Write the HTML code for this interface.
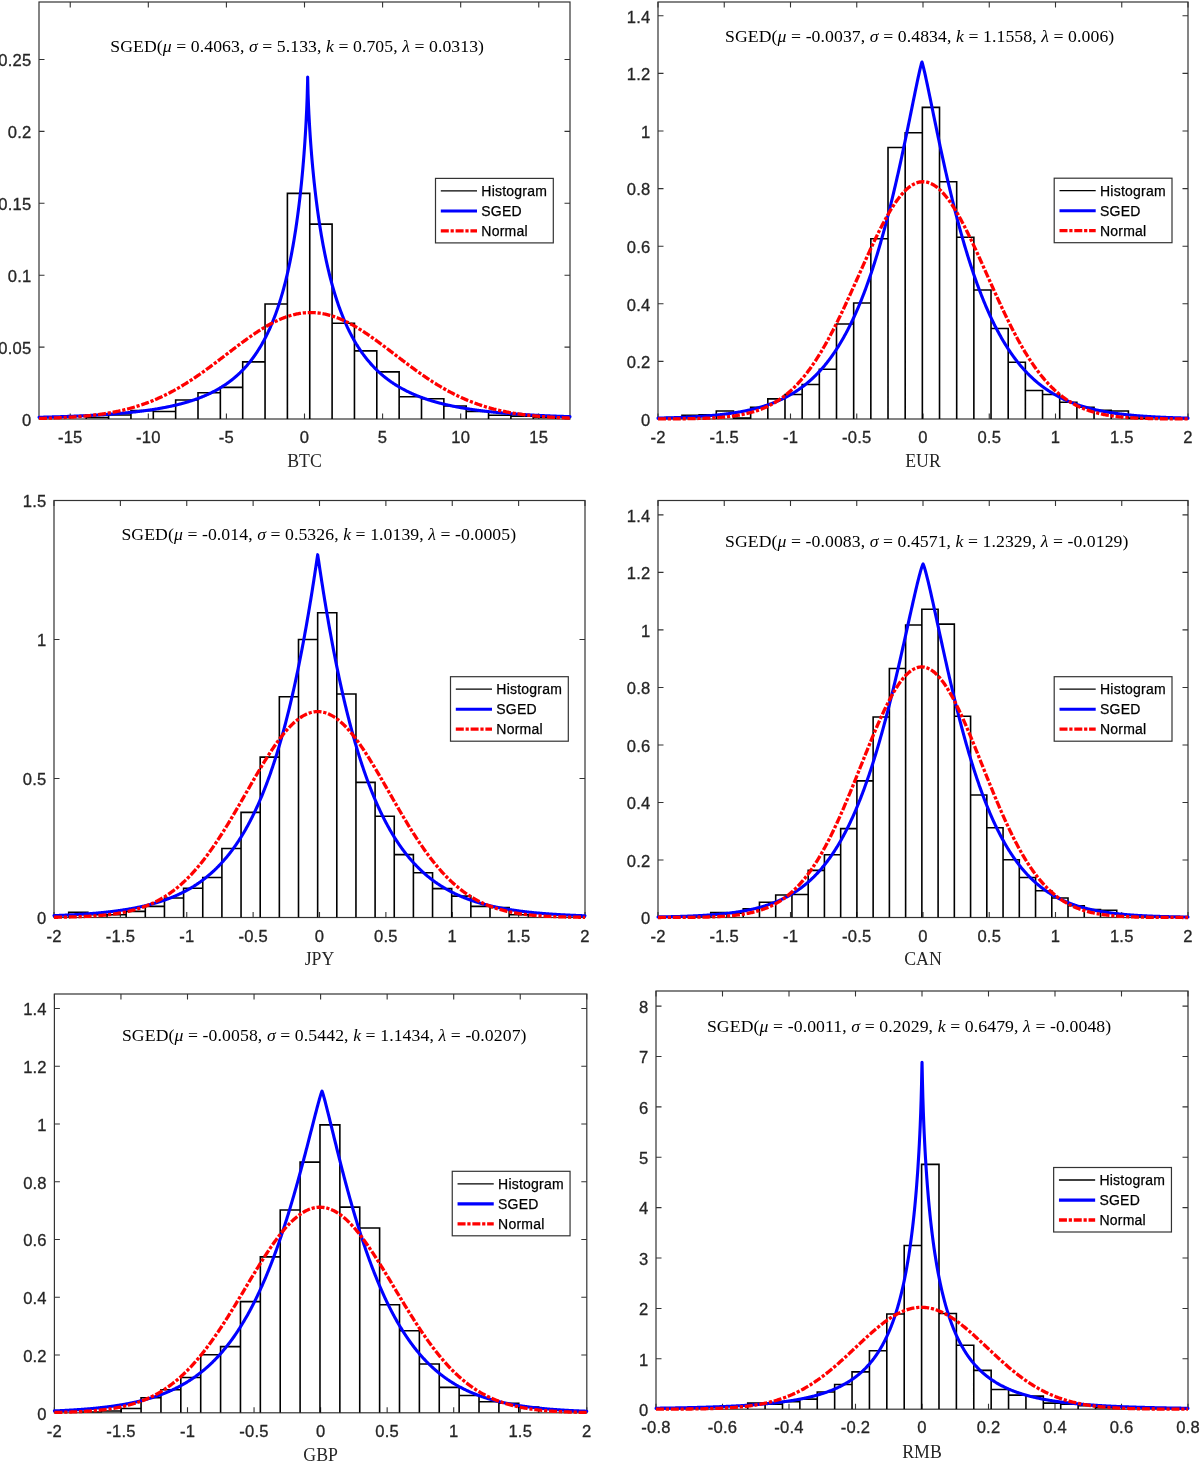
<!DOCTYPE html>
<html><head><meta charset="utf-8"><style>
html,body{margin:0;padding:0;background:#fff;}
svg{display:block;will-change:transform;}
.tl{font-family:"Liberation Sans", sans-serif;font-size:16.6px;fill:#262626;stroke:#262626;stroke-width:0.3px;letter-spacing:0.2px;}
.lg{font-family:"Liberation Sans", sans-serif;font-size:14px;fill:#000;stroke:#000;stroke-width:0.25px;letter-spacing:0.22px;}
.xl{font-family:"Liberation Serif", serif;font-size:17.8px;fill:#262626;}
.an{font-family:"Liberation Serif", serif;font-size:17.7px;fill:#000;}
</style></head><body>
<svg width="1200" height="1461" viewBox="0 0 1200 1461">
<rect width="1200" height="1461" fill="#fff"/>
<clipPath id="c0"><rect x="39" y="0" width="531" height="419"/></clipPath>
<rect x="39" y="2" width="531" height="417" fill="none" stroke="#333" stroke-width="1.2"/>
<path d="M70.24 419v-5.5M70.24 2v5.5M148.32 419v-5.5M148.32 2v5.5M226.41 419v-5.5M226.41 2v5.5M304.5 419v-5.5M304.5 2v5.5M382.59 419v-5.5M382.59 2v5.5M460.68 419v-5.5M460.68 2v5.5M538.76 419v-5.5M538.76 2v5.5M39 419h5.5M570 419h-5.5M39 347.1h5.5M570 347.1h-5.5M39 275.21h5.5M570 275.21h-5.5M39 203.31h5.5M570 203.31h-5.5M39 131.41h5.5M570 131.41h-5.5M39 59.52h5.5M570 59.52h-5.5" stroke="#333" stroke-width="1.1" fill="none"/>
<path clip-path="url(#c0)" d="M86.25 419V417.56H108.6V419M108.6 419V414.97H130.95V419M130.95 419V410.66H153.3V419M153.3 419V411.52H175.65V419M175.65 419V400.02H198V419M198 419V392.69H220.35V419M220.35 419V387.37H242.7V419M242.7 419V361.91H265.05V419M265.05 419V303.97H287.4V419M287.4 419V193.39H309.75V419M309.75 419V224.16H332.1V419M332.1 419V323.23H354.45V419M354.45 419V350.84H376.8V419M376.8 419V371.84H399.15V419M399.15 419V396.71H421.5V419M421.5 419V398.73H443.85V419M443.85 419V406.06H466.2V419M466.2 419V411.38H488.55V419M488.55 419V415.26H510.9V419M510.9 419V416.12H533.25V419M533.25 419V417.56H555.6V419" fill="none" stroke="#000" stroke-width="1.6"/>
<polyline points="39,417.28 39.44,417.26 39.89,417.25 40.33,417.24 40.77,417.23 41.21,417.22 41.66,417.21 42.1,417.2 42.54,417.19 42.98,417.18 43.43,417.17 43.87,417.15 44.31,417.14 44.75,417.13 45.2,417.12 45.64,417.11 46.08,417.1 46.52,417.08 46.97,417.07 47.41,417.06 47.85,417.05 48.29,417.04 48.74,417.02 49.18,417.01 49.62,417 50.06,416.99 50.51,416.97 50.95,416.96 51.39,416.95 51.83,416.94 52.28,416.92 52.72,416.91 53.16,416.9 53.6,416.88 54.05,416.87 54.49,416.86 54.93,416.84 55.37,416.83 55.81,416.82 56.26,416.8 56.7,416.79 57.14,416.78 57.58,416.76 58.03,416.75 58.47,416.73 58.91,416.72 59.35,416.71 59.8,416.69 60.24,416.68 60.68,416.66 61.12,416.65 61.57,416.63 62.01,416.62 62.45,416.6 62.89,416.59 63.34,416.57 63.78,416.56 64.22,416.54 64.66,416.52 65.11,416.51 65.55,416.49 65.99,416.48 66.43,416.46 66.88,416.44 67.32,416.43 67.76,416.41 68.2,416.4 68.65,416.38 69.09,416.36 69.53,416.35 69.97,416.33 70.42,416.31 70.86,416.29 71.3,416.28 71.75,416.26 72.19,416.24 72.63,416.22 73.07,416.21 73.52,416.19 73.96,416.17 74.4,416.15 74.84,416.13 75.29,416.12 75.73,416.1 76.17,416.08 76.61,416.06 77.06,416.04 77.5,416.02 77.94,416 78.38,415.98 78.83,415.96 79.27,415.94 79.71,415.92 80.15,415.9 80.6,415.88 81.04,415.86 81.48,415.84 81.92,415.82 82.37,415.8 82.81,415.78 83.25,415.76 83.69,415.74 84.14,415.72 84.58,415.7 85.02,415.68 85.46,415.65 85.91,415.63 86.35,415.61 86.79,415.59 87.23,415.57 87.68,415.54 88.12,415.52 88.56,415.5 89,415.48 89.45,415.45 89.89,415.43 90.33,415.41 90.77,415.38 91.22,415.36 91.66,415.33 92.1,415.31 92.54,415.29 92.99,415.26 93.43,415.24 93.87,415.21 94.31,415.19 94.75,415.16 95.2,415.14 95.64,415.11 96.08,415.09 96.53,415.06 96.97,415.03 97.41,415.01 97.85,414.98 98.3,414.95 98.74,414.93 99.18,414.9 99.62,414.87 100.06,414.85 100.51,414.82 100.95,414.79 101.39,414.76 101.84,414.73 102.28,414.71 102.72,414.68 103.16,414.65 103.61,414.62 104.05,414.59 104.49,414.56 104.93,414.53 105.38,414.5 105.82,414.47 106.26,414.44 106.7,414.41 107.14,414.38 107.59,414.35 108.03,414.32 108.47,414.28 108.91,414.25 109.36,414.22 109.8,414.19 110.24,414.16 110.69,414.12 111.13,414.09 111.57,414.06 112.01,414.02 112.45,413.99 112.9,413.96 113.34,413.92 113.78,413.89 114.22,413.85 114.67,413.82 115.11,413.78 115.55,413.75 115.99,413.71 116.44,413.68 116.88,413.64 117.32,413.6 117.76,413.57 118.21,413.53 118.65,413.49 119.09,413.45 119.53,413.42 119.98,413.38 120.42,413.34 120.86,413.3 121.3,413.26 121.75,413.22 122.19,413.18 122.63,413.14 123.08,413.1 123.52,413.06 123.96,413.02 124.4,412.98 124.84,412.94 125.29,412.89 125.73,412.85 126.17,412.81 126.61,412.77 127.06,412.72 127.5,412.68 127.94,412.64 128.38,412.59 128.83,412.55 129.27,412.5 129.71,412.46 130.15,412.41 130.6,412.37 131.04,412.32 131.48,412.27 131.93,412.23 132.37,412.18 132.81,412.13 133.25,412.08 133.69,412.03 134.14,411.99 134.58,411.94 135.02,411.89 135.46,411.84 135.91,411.79 136.35,411.74 136.79,411.68 137.23,411.63 137.68,411.58 138.12,411.53 138.56,411.48 139,411.42 139.45,411.37 139.89,411.32 140.33,411.26 140.77,411.21 141.22,411.15 141.66,411.1 142.1,411.04 142.54,410.98 142.99,410.93 143.43,410.87 143.87,410.81 144.31,410.75 144.76,410.69 145.2,410.63 145.64,410.57 146.08,410.51 146.53,410.45 146.97,410.39 147.41,410.33 147.85,410.27 148.3,410.2 148.74,410.14 149.18,410.08 149.62,410.01 150.07,409.95 150.51,409.88 150.95,409.82 151.39,409.75 151.84,409.68 152.28,409.62 152.72,409.55 153.16,409.48 153.61,409.41 154.05,409.34 154.49,409.27 154.93,409.2 155.38,409.13 155.82,409.06 156.26,408.98 156.7,408.91 157.15,408.84 157.59,408.76 158.03,408.69 158.47,408.61 158.92,408.53 159.36,408.46 159.8,408.38 160.24,408.3 160.69,408.22 161.13,408.14 161.57,408.06 162.01,407.98 162.46,407.9 162.9,407.82 163.34,407.74 163.78,407.65 164.23,407.57 164.67,407.48 165.11,407.4 165.56,407.31 166,407.23 166.44,407.14 166.88,407.05 167.32,406.96 167.77,406.87 168.21,406.78 168.65,406.69 169.09,406.6 169.54,406.5 169.98,406.41 170.42,406.31 170.86,406.22 171.31,406.12 171.75,406.03 172.19,405.93 172.63,405.83 173.08,405.73 173.52,405.63 173.96,405.53 174.41,405.43 174.85,405.32 175.29,405.22 175.73,405.11 176.17,405.01 176.62,404.9 177.06,404.8 177.5,404.69 177.94,404.58 178.39,404.47 178.83,404.36 179.27,404.24 179.72,404.13 180.16,404.02 180.6,403.9 181.04,403.78 181.48,403.67 181.93,403.55 182.37,403.43 182.81,403.31 183.25,403.19 183.7,403.07 184.14,402.94 184.58,402.82 185.02,402.69 185.47,402.57 185.91,402.44 186.35,402.31 186.79,402.18 187.24,402.05 187.68,401.91 188.12,401.78 188.56,401.65 189.01,401.51 189.45,401.37 189.89,401.23 190.33,401.09 190.78,400.95 191.22,400.81 191.66,400.67 192.1,400.52 192.55,400.38 192.99,400.23 193.43,400.08 193.87,399.93 194.32,399.78 194.76,399.62 195.2,399.47 195.64,399.31 196.09,399.16 196.53,399 196.97,398.84 197.41,398.68 197.86,398.51 198.3,398.35 198.74,398.18 199.18,398.01 199.63,397.85 200.07,397.67 200.51,397.5 200.95,397.33 201.4,397.15 201.84,396.98 202.28,396.8 202.72,396.62 203.17,396.43 203.61,396.25 204.05,396.06 204.49,395.88 204.94,395.69 205.38,395.5 205.82,395.3 206.26,395.11 206.71,394.91 207.15,394.71 207.59,394.51 208.03,394.31 208.48,394.11 208.92,393.9 209.36,393.69 209.81,393.48 210.25,393.27 210.69,393.06 211.13,392.84 211.57,392.62 212.02,392.4 212.46,392.18 212.9,391.95 213.34,391.73 213.79,391.5 214.23,391.27 214.67,391.03 215.11,390.8 215.56,390.56 216,390.32 216.44,390.07 216.88,389.83 217.33,389.58 217.77,389.33 218.21,389.08 218.66,388.82 219.1,388.56 219.54,388.3 219.98,388.04 220.42,387.77 220.87,387.5 221.31,387.23 221.75,386.96 222.19,386.68 222.64,386.4 223.08,386.12 223.52,385.83 223.96,385.54 224.41,385.25 224.85,384.96 225.29,384.66 225.73,384.36 226.18,384.06 226.62,383.75 227.06,383.44 227.5,383.13 227.95,382.81 228.39,382.49 228.83,382.17 229.28,381.84 229.72,381.51 230.16,381.18 230.6,380.84 231.05,380.5 231.49,380.16 231.93,379.81 232.37,379.46 232.81,379.1 233.26,378.74 233.7,378.38 234.14,378.01 234.59,377.64 235.03,377.27 235.47,376.89 235.91,376.5 236.35,376.12 236.8,375.72 237.24,375.33 237.68,374.93 238.12,374.52 238.57,374.11 239.01,373.7 239.45,373.28 239.9,372.86 240.34,372.43 240.78,372 241.22,371.56 241.66,371.12 242.11,370.67 242.55,370.22 242.99,369.76 243.44,369.3 243.88,368.83 244.32,368.35 244.76,367.87 245.2,367.39 245.65,366.9 246.09,366.4 246.53,365.9 246.97,365.39 247.42,364.88 247.86,364.36 248.3,363.83 248.75,363.3 249.19,362.76 249.63,362.22 250.07,361.67 250.51,361.11 250.96,360.54 251.4,359.97 251.84,359.39 252.28,358.81 252.73,358.22 253.17,357.62 253.61,357.01 254.05,356.39 254.5,355.77 254.94,355.14 255.38,354.5 255.82,353.86 256.27,353.2 256.71,352.54 257.15,351.87 257.59,351.19 258.04,350.5 258.48,349.8 258.92,349.1 259.37,348.38 259.81,347.66 260.25,346.93 260.69,346.18 261.13,345.43 261.58,344.67 262.02,343.89 262.46,343.11 262.9,342.31 263.35,341.51 263.79,340.69 264.23,339.87 264.67,339.03 265.12,338.18 265.56,337.32 266,336.45 266.44,335.56 266.89,334.67 267.33,333.76 267.77,332.83 268.21,331.9 268.66,330.95 269.1,329.99 269.54,329.01 269.99,328.02 270.43,327.01 270.87,325.99 271.31,324.96 271.75,323.91 272.2,322.84 272.64,321.76 273.08,320.66 273.52,319.55 273.97,318.42 274.41,317.27 274.85,316.1 275.29,314.92 275.74,313.72 276.18,312.49 276.62,311.25 277.06,309.99 277.51,308.71 277.95,307.41 278.39,306.09 278.84,304.74 279.28,303.37 279.72,301.98 280.16,300.57 280.61,299.13 281.05,297.67 281.49,296.18 281.93,294.67 282.38,293.13 282.82,291.57 283.26,289.97 283.7,288.35 284.14,286.7 284.59,285.01 285.03,283.3 285.47,281.55 285.91,279.78 286.36,277.96 286.8,276.12 287.24,274.23 287.68,272.31 288.13,270.35 288.57,268.35 289.01,266.31 289.45,264.23 289.9,262.11 290.34,259.94 290.78,257.72 291.23,255.45 291.67,253.14 292.11,250.77 292.55,248.34 293,245.87 293.44,243.33 293.88,240.73 294.32,238.07 294.76,235.34 295.21,232.54 295.65,229.67 296.09,226.72 296.53,223.69 296.98,220.58 297.42,217.38 297.86,214.08 298.3,210.69 298.75,207.19 299.19,203.58 299.63,199.85 300.07,195.99 300.52,191.99 300.96,187.85 301.4,183.55 301.84,179.08 302.29,174.41 302.73,169.54 303.17,164.43 303.61,159.07 304.06,153.4 304.5,147.4 304.94,141 305.38,134.12 305.83,126.65 306.27,118.39 306.71,109.03 307.15,97.85 307.6,81.67 307.66,77.08 308.04,93.66 308.48,105.11 308.93,114.47 309.37,122.65 309.81,130.03 310.25,136.81 310.69,143.1 311.14,149 311.58,154.55 312.02,159.82 312.46,164.84 312.91,169.62 313.35,174.2 313.79,178.6 314.24,182.82 314.68,186.89 315.12,190.82 315.56,194.62 316,198.29 316.45,201.84 316.89,205.29 317.33,208.63 317.77,211.88 318.22,215.04 318.66,218.11 319.1,221.1 319.55,224.02 319.99,226.85 320.43,229.62 320.87,232.32 321.31,234.96 321.76,237.53 322.2,240.05 322.64,242.51 323.08,244.91 323.53,247.26 323.97,249.56 324.41,251.81 324.85,254.02 325.3,256.18 325.74,258.29 326.18,260.36 326.62,262.4 327.07,264.39 327.51,266.34 327.95,268.26 328.39,270.14 328.84,271.98 329.28,273.79 329.72,275.57 330.16,277.32 330.61,279.03 331.05,280.72 331.49,282.37 331.94,284 332.38,285.6 332.82,287.17 333.26,288.72 333.7,290.23 334.15,291.73 334.59,293.2 335.03,294.64 335.47,296.07 335.92,297.46 336.36,298.84 336.8,300.2 337.24,301.53 337.69,302.84 338.13,304.14 338.57,305.41 339.01,306.66 339.46,307.9 339.9,309.12 340.34,310.31 340.78,311.49 341.23,312.66 341.67,313.8 342.11,314.93 342.56,316.04 343,317.14 343.44,318.22 343.88,319.29 344.33,320.34 344.77,321.38 345.21,322.4 345.65,323.4 346.1,324.4 346.54,325.38 346.98,326.35 347.42,327.3 347.87,328.24 348.31,329.17 348.75,330.08 349.19,330.99 349.63,331.88 350.08,332.76 350.52,333.62 350.96,334.48 351.41,335.33 351.85,336.16 352.29,336.99 352.73,337.8 353.18,338.6 353.62,339.39 354.06,340.18 354.5,340.95 354.94,341.71 355.39,342.47 355.83,343.21 356.27,343.95 356.72,344.67 357.16,345.39 357.6,346.1 358.04,346.8 358.49,347.49 358.93,348.17 359.37,348.84 359.81,349.51 360.25,350.17 360.7,350.82 361.14,351.46 361.58,352.1 362.03,352.73 362.47,353.35 362.91,353.96 363.35,354.57 363.8,355.16 364.24,355.76 364.68,356.34 365.12,356.92 365.56,357.49 366.01,358.06 366.45,358.62 366.89,359.17 367.33,359.71 367.78,360.25 368.22,360.79 368.66,361.32 369.11,361.84 369.55,362.35 369.99,362.86 370.43,363.37 370.88,363.87 371.32,364.36 371.76,364.85 372.2,365.33 372.64,365.81 373.09,366.28 373.53,366.75 373.97,367.21 374.42,367.67 374.86,368.12 375.3,368.57 375.74,369.01 376.19,369.45 376.63,369.89 377.07,370.31 377.51,370.74 377.95,371.16 378.4,371.57 378.84,371.99 379.28,372.39 379.72,372.79 380.17,373.19 380.61,373.59 381.05,373.98 381.5,374.36 381.94,374.75 382.38,375.12 382.82,375.5 383.26,375.87 383.71,376.23 384.15,376.6 384.59,376.96 385.03,377.31 385.48,377.66 385.92,378.01 386.36,378.36 386.81,378.7 387.25,379.04 387.69,379.37 388.13,379.7 388.57,380.03 389.02,380.36 389.46,380.68 389.9,380.99 390.34,381.31 390.79,381.62 391.23,381.93 391.67,382.24 392.12,382.54 392.56,382.84 393,383.14 393.44,383.43 393.88,383.72 394.33,384.01 394.77,384.3 395.21,384.58 395.65,384.86 396.1,385.14 396.54,385.41 396.98,385.68 397.42,385.95 397.87,386.22 398.31,386.49 398.75,386.75 399.19,387.01 399.64,387.26 400.08,387.52 400.52,387.77 400.96,388.02 401.41,388.27 401.85,388.51 402.29,388.76 402.73,389 403.18,389.24 403.62,389.47 404.06,389.71 404.5,389.94 404.95,390.17 405.39,390.4 405.83,390.62 406.27,390.84 406.72,391.07 407.16,391.29 407.6,391.5 408.04,391.72 408.49,391.93 408.93,392.14 409.37,392.35 409.81,392.56 410.26,392.77 410.7,392.97 411.14,393.17 411.58,393.37 412.03,393.57 412.47,393.77 412.91,393.96 413.35,394.16 413.8,394.35 414.24,394.54 414.68,394.72 415.12,394.91 415.57,395.1 416.01,395.28 416.45,395.46 416.89,395.64 417.34,395.82 417.78,395.99 418.22,396.17 418.66,396.34 419.11,396.52 419.55,396.69 419.99,396.86 420.43,397.02 420.88,397.19 421.32,397.35 421.76,397.52 422.2,397.68 422.65,397.84 423.09,398 423.53,398.16 423.97,398.31 424.42,398.47 424.86,398.62 425.3,398.77 425.74,398.92 426.19,399.07 426.63,399.22 427.07,399.37 427.51,399.52 427.96,399.66 428.4,399.8 428.84,399.95 429.28,400.09 429.73,400.23 430.17,400.37 430.61,400.5 431.05,400.64 431.5,400.77 431.94,400.91 432.38,401.04 432.82,401.17 433.27,401.3 433.71,401.43 434.15,401.56 434.59,401.69 435.04,401.82 435.48,401.94 435.92,402.07 436.36,402.19 436.81,402.31 437.25,402.43 437.69,402.55 438.13,402.67 438.58,402.79 439.02,402.91 439.46,403.02 439.9,403.14 440.35,403.25 440.79,403.37 441.23,403.48 441.68,403.59 442.12,403.7 442.56,403.81 443,403.92 443.44,404.03 443.89,404.14 444.33,404.24 444.77,404.35 445.21,404.45 445.66,404.56 446.1,404.66 446.54,404.76 446.99,404.86 447.43,404.96 447.87,405.06 448.31,405.16 448.75,405.26 449.2,405.36 449.64,405.45 450.08,405.55 450.52,405.64 450.97,405.74 451.41,405.83 451.85,405.92 452.3,406.02 452.74,406.11 453.18,406.2 453.62,406.29 454.06,406.38 454.51,406.47 454.95,406.55 455.39,406.64 455.83,406.73 456.28,406.81 456.72,406.9 457.16,406.98 457.6,407.06 458.05,407.15 458.49,407.23 458.93,407.31 459.38,407.39 459.82,407.47 460.26,407.55 460.7,407.63 461.14,407.71 461.59,407.79 462.03,407.87 462.47,407.94 462.91,408.02 463.36,408.09 463.8,408.17 464.24,408.24 464.69,408.32 465.13,408.39 465.57,408.46 466.01,408.54 466.45,408.61 466.9,408.68 467.34,408.75 467.78,408.82 468.22,408.89 468.67,408.96 469.11,409.03 469.55,409.09 469.99,409.16 470.44,409.23 470.88,409.29 471.32,409.36 471.76,409.43 472.21,409.49 472.65,409.55 473.09,409.62 473.53,409.68 473.98,409.74 474.42,409.81 474.86,409.87 475.3,409.93 475.75,409.99 476.19,410.05 476.63,410.11 477.07,410.17 477.52,410.23 477.96,410.29 478.4,410.35 478.84,410.41 479.29,410.46 479.73,410.52 480.17,410.58 480.61,410.63 481.06,410.69 481.5,410.74 481.94,410.8 482.38,410.85 482.83,410.91 483.27,410.96 483.71,411.02 484.15,411.07 484.6,411.12 485.04,411.17 485.48,411.23 485.92,411.28 486.37,411.33 486.81,411.38 487.25,411.43 487.69,411.48 488.14,411.53 488.58,411.58 489.02,411.63 489.46,411.67 489.91,411.72 490.35,411.77 490.79,411.82 491.23,411.86 491.68,411.91 492.12,411.96 492.56,412 493,412.05 493.45,412.1 493.89,412.14 494.33,412.19 494.78,412.23 495.22,412.27 495.66,412.32 496.1,412.36 496.55,412.4 496.99,412.45 497.43,412.49 497.87,412.53 498.31,412.57 498.76,412.62 499.2,412.66 499.64,412.7 500.08,412.74 500.53,412.78 500.97,412.82 501.41,412.86 501.86,412.9 502.3,412.94 502.74,412.98 503.18,413.02 503.62,413.05 504.07,413.09 504.51,413.13 504.95,413.17 505.39,413.21 505.84,413.24 506.28,413.28 506.72,413.32 507.17,413.35 507.61,413.39 508.05,413.42 508.49,413.46 508.94,413.5 509.38,413.53 509.82,413.57 510.26,413.6 510.7,413.63 511.15,413.67 511.59,413.7 512.03,413.74 512.47,413.77 512.92,413.8 513.36,413.84 513.8,413.87 514.25,413.9 514.69,413.93 515.13,413.97 515.57,414 516.01,414.03 516.46,414.06 516.9,414.09 517.34,414.12 517.78,414.15 518.23,414.18 518.67,414.21 519.11,414.24 519.56,414.27 520,414.3 520.44,414.33 520.88,414.36 521.33,414.39 521.77,414.42 522.21,414.45 522.65,414.48 523.1,414.51 523.54,414.53 523.98,414.56 524.42,414.59 524.87,414.62 525.31,414.64 525.75,414.67 526.19,414.7 526.63,414.73 527.08,414.75 527.52,414.78 527.96,414.8 528.4,414.83 528.85,414.86 529.29,414.88 529.73,414.91 530.17,414.93 530.62,414.96 531.06,414.98 531.5,415.01 531.94,415.03 532.39,415.06 532.83,415.08 533.27,415.11 533.71,415.13 534.16,415.15 534.6,415.18 535.04,415.2 535.48,415.22 535.93,415.25 536.37,415.27 536.81,415.29 537.25,415.32 537.7,415.34 538.14,415.36 538.58,415.38 539.02,415.41 539.47,415.43 539.91,415.45 540.35,415.47 540.79,415.49 541.24,415.51 541.68,415.54 542.12,415.56 542.56,415.58 543.01,415.6 543.45,415.62 543.89,415.64 544.33,415.66 544.78,415.68 545.22,415.7 545.66,415.72 546.11,415.74 546.55,415.76 546.99,415.78 547.43,415.8 547.87,415.82 548.32,415.84 548.76,415.86 549.2,415.88 549.64,415.9 550.09,415.91 550.53,415.93 550.97,415.95 551.41,415.97 551.86,415.99 552.3,416.01 552.74,416.02 553.18,416.04 553.63,416.06 554.07,416.08 554.51,416.09 554.95,416.11 555.4,416.13 555.84,416.15 556.28,416.16 556.73,416.18 557.17,416.2 557.61,416.21 558.05,416.23 558.49,416.25 558.94,416.26 559.38,416.28 559.82,416.3 560.26,416.31 560.71,416.33 561.15,416.35 561.59,416.36 562.03,416.38 562.48,416.39 562.92,416.41 563.36,416.42 563.8,416.44 564.25,416.45 564.69,416.47 565.13,416.48 565.57,416.5 566.02,416.51 566.46,416.53 566.9,416.54 567.35,416.56 567.79,416.57 568.23,416.59 568.67,416.6 569.12,416.61 569.56,416.63 570,416.64" fill="none" stroke="#0000ff" stroke-width="3.1" stroke-linejoin="round" stroke-linecap="round"/>
<polyline points="39,418.42 39.89,418.4 40.77,418.37 41.66,418.35 42.55,418.33 43.43,418.31 44.32,418.28 45.21,418.26 46.09,418.24 46.98,418.21 47.86,418.18 48.75,418.16 49.64,418.13 50.52,418.1 51.41,418.07 52.3,418.04 53.18,418.01 54.07,417.98 54.96,417.94 55.84,417.91 56.73,417.87 57.62,417.84 58.5,417.8 59.39,417.76 60.28,417.72 61.16,417.68 62.05,417.64 62.93,417.6 63.82,417.55 64.71,417.51 65.59,417.46 66.48,417.41 67.37,417.36 68.25,417.31 69.14,417.26 70.03,417.21 70.91,417.15 71.8,417.1 72.69,417.04 73.57,416.98 74.46,416.92 75.35,416.86 76.23,416.79 77.12,416.73 78.01,416.66 78.89,416.59 79.78,416.52 80.66,416.45 81.55,416.37 82.44,416.3 83.32,416.22 84.21,416.14 85.1,416.06 85.98,415.97 86.87,415.89 87.76,415.8 88.64,415.71 89.53,415.62 90.42,415.52 91.3,415.42 92.19,415.32 93.08,415.22 93.96,415.12 94.85,415.01 95.73,414.9 96.62,414.79 97.51,414.68 98.39,414.56 99.28,414.44 100.17,414.32 101.05,414.2 101.94,414.07 102.83,413.94 103.71,413.81 104.6,413.67 105.49,413.53 106.37,413.39 107.26,413.24 108.15,413.1 109.03,412.95 109.92,412.79 110.8,412.63 111.69,412.47 112.58,412.31 113.46,412.14 114.35,411.97 115.24,411.8 116.12,411.62 117.01,411.44 117.9,411.25 118.78,411.06 119.67,410.87 120.56,410.67 121.44,410.47 122.33,410.27 123.22,410.06 124.1,409.85 124.99,409.64 125.87,409.42 126.76,409.19 127.65,408.97 128.53,408.73 129.42,408.5 130.31,408.26 131.19,408.01 132.08,407.77 132.97,407.51 133.85,407.25 134.74,406.99 135.63,406.73 136.51,406.46 137.4,406.18 138.29,405.9 139.17,405.62 140.06,405.33 140.94,405.03 141.83,404.73 142.72,404.43 143.6,404.12 144.49,403.81 145.38,403.49 146.26,403.17 147.15,402.84 148.04,402.51 148.92,402.17 149.81,401.83 150.7,401.48 151.58,401.12 152.47,400.77 153.36,400.4 154.24,400.03 155.13,399.66 156.02,399.28 156.9,398.9 157.79,398.51 158.67,398.11 159.56,397.72 160.45,397.31 161.33,396.9 162.22,396.49 163.11,396.06 163.99,395.64 164.88,395.21 165.77,394.77 166.65,394.33 167.54,393.88 168.43,393.43 169.31,392.97 170.2,392.51 171.09,392.04 171.97,391.57 172.86,391.09 173.74,390.61 174.63,390.12 175.52,389.63 176.4,389.13 177.29,388.62 178.18,388.11 179.06,387.6 179.95,387.08 180.84,386.56 181.72,386.03 182.61,385.49 183.5,384.95 184.38,384.41 185.27,383.86 186.16,383.31 187.04,382.75 187.93,382.19 188.81,381.62 189.7,381.05 190.59,380.47 191.47,379.89 192.36,379.31 193.25,378.72 194.13,378.13 195.02,377.53 195.91,376.93 196.79,376.32 197.68,375.71 198.57,375.1 199.45,374.48 200.34,373.86 201.23,373.24 202.11,372.61 203,371.98 203.88,371.34 204.77,370.7 205.66,370.06 206.54,369.42 207.43,368.77 208.32,368.12 209.2,367.47 210.09,366.82 210.98,366.16 211.86,365.5 212.75,364.84 213.64,364.17 214.52,363.51 215.41,362.84 216.3,362.17 217.18,361.5 218.07,360.83 218.95,360.15 219.84,359.48 220.73,358.8 221.61,358.12 222.5,357.44 223.39,356.77 224.27,356.09 225.16,355.41 226.05,354.73 226.93,354.05 227.82,353.37 228.71,352.69 229.59,352.01 230.48,351.33 231.37,350.65 232.25,349.98 233.14,349.3 234.03,348.63 234.91,347.95 235.8,347.28 236.68,346.61 237.57,345.94 238.46,345.28 239.34,344.61 240.23,343.95 241.12,343.29 242,342.63 242.89,341.98 243.78,341.33 244.66,340.68 245.55,340.04 246.44,339.4 247.32,338.76 248.21,338.13 249.1,337.5 249.98,336.87 250.87,336.25 251.75,335.64 252.64,335.02 253.53,334.42 254.41,333.82 255.3,333.22 256.19,332.63 257.07,332.05 257.96,331.47 258.85,330.89 259.73,330.33 260.62,329.76 261.51,329.21 262.39,328.66 263.28,328.12 264.17,327.59 265.05,327.06 265.94,326.54 266.82,326.03 267.71,325.52 268.6,325.02 269.48,324.53 270.37,324.05 271.26,323.58 272.14,323.11 273.03,322.66 273.92,322.21 274.8,321.77 275.69,321.34 276.58,320.91 277.46,320.5 278.35,320.1 279.24,319.7 280.12,319.32 281.01,318.94 281.89,318.58 282.78,318.22 283.67,317.88 284.55,317.54 285.44,317.22 286.33,316.9 287.21,316.6 288.1,316.3 288.99,316.02 289.87,315.75 290.76,315.48 291.65,315.23 292.53,314.99 293.42,314.76 294.31,314.54 295.19,314.34 296.08,314.14 296.96,313.96 297.85,313.78 298.74,313.62 299.62,313.47 300.51,313.33 301.4,313.2 302.28,313.09 303.17,312.98 304.06,312.89 304.94,312.81 305.83,312.74 306.72,312.68 307.6,312.64 308.49,312.6 309.38,312.58 310.26,312.57 311.15,312.57 312.04,312.59 312.92,312.61 313.81,312.65 314.69,312.7 315.58,312.76 316.47,312.83 317.35,312.91 318.24,313.01 319.13,313.12 320.01,313.24 320.9,313.37 321.79,313.51 322.67,313.66 323.56,313.83 324.45,314 325.33,314.19 326.22,314.39 327.11,314.6 327.99,314.82 328.88,315.05 329.76,315.3 330.65,315.55 331.54,315.82 332.42,316.09 333.31,316.38 334.2,316.67 335.08,316.98 335.97,317.3 336.86,317.63 337.74,317.97 338.63,318.31 339.52,318.67 340.4,319.04 341.29,319.42 342.18,319.81 343.06,320.2 343.95,320.61 344.83,321.02 345.72,321.45 346.61,321.88 347.49,322.32 348.38,322.77 349.27,323.23 350.15,323.7 351.04,324.18 351.93,324.66 352.81,325.15 353.7,325.65 354.59,326.16 355.47,326.67 356.36,327.19 357.25,327.72 358.13,328.26 359.02,328.8 359.9,329.35 360.79,329.91 361.68,330.47 362.56,331.04 363.45,331.62 364.34,332.2 365.22,332.78 366.11,333.37 367,333.97 367.88,334.57 368.77,335.18 369.66,335.79 370.54,336.41 371.43,337.03 372.32,337.66 373.2,338.29 374.09,338.92 374.97,339.56 375.86,340.2 376.75,340.85 377.63,341.5 378.52,342.15 379.41,342.8 380.29,343.46 381.18,344.12 382.07,344.78 382.95,345.45 383.84,346.11 384.73,346.78 385.61,347.45 386.5,348.13 387.39,348.8 388.27,349.47 389.16,350.15 390.05,350.83 390.93,351.51 391.82,352.18 392.7,352.86 393.59,353.54 394.48,354.22 395.36,354.9 396.25,355.58 397.14,356.26 398.02,356.94 398.91,357.62 399.8,358.3 400.68,358.97 401.57,359.65 402.46,360.33 403.34,361 404.23,361.67 405.12,362.34 406,363.01 406.89,363.68 407.77,364.34 408.66,365.01 409.55,365.67 410.43,366.33 411.32,366.98 412.21,367.64 413.09,368.29 413.98,368.94 414.87,369.59 415.75,370.23 416.64,370.87 417.53,371.51 418.41,372.14 419.3,372.77 420.19,373.4 421.07,374.02 421.96,374.64 422.84,375.26 423.73,375.87 424.62,376.48 425.5,377.08 426.39,377.68 427.28,378.28 428.16,378.87 429.05,379.46 429.94,380.04 430.82,380.62 431.71,381.2 432.6,381.77 433.48,382.33 434.37,382.9 435.26,383.45 436.14,384 437.03,384.55 437.91,385.09 438.8,385.63 439.69,386.16 440.57,386.69 441.46,387.22 442.35,387.73 443.23,388.25 444.12,388.75 445.01,389.26 445.89,389.75 446.78,390.25 447.67,390.73 448.55,391.22 449.44,391.69 450.33,392.16 451.21,392.63 452.1,393.09 452.98,393.55 453.87,394 454.76,394.44 455.64,394.88 456.53,395.32 457.42,395.75 458.3,396.17 459.19,396.59 460.08,397.01 460.96,397.42 461.85,397.82 462.74,398.22 463.62,398.61 464.51,399 465.4,399.38 466.28,399.76 467.17,400.13 468.06,400.5 468.94,400.86 469.83,401.22 470.71,401.57 471.6,401.91 472.49,402.26 473.37,402.59 474.26,402.92 475.15,403.25 476.03,403.57 476.92,403.89 477.81,404.2 478.69,404.51 479.58,404.81 480.47,405.11 481.35,405.4 482.24,405.69 483.13,405.97 484.01,406.25 484.9,406.53 485.78,406.8 486.67,407.06 487.56,407.32 488.44,407.58 489.33,407.83 490.22,408.08 491.1,408.32 491.99,408.56 492.88,408.79 493.76,409.03 494.65,409.25 495.54,409.47 496.42,409.69 497.31,409.91 498.2,410.12 499.08,410.32 499.97,410.53 500.85,410.73 501.74,410.92 502.63,411.11 503.51,411.3 504.4,411.48 505.29,411.66 506.17,411.84 507.06,412.01 507.95,412.18 508.83,412.35 509.72,412.51 510.61,412.67 511.49,412.83 512.38,412.98 513.27,413.13 514.15,413.28 515.04,413.43 515.92,413.57 516.81,413.71 517.7,413.84 518.58,413.97 519.47,414.1 520.36,414.23 521.24,414.35 522.13,414.47 523.02,414.59 523.9,414.71 524.79,414.82 525.68,414.93 526.56,415.04 527.45,415.15 528.34,415.25 529.22,415.35 530.11,415.45 530.99,415.55 531.88,415.64 532.77,415.73 533.65,415.82 534.54,415.91 535.43,415.99 536.31,416.08 537.2,416.16 538.09,416.24 538.97,416.32 539.86,416.39 540.75,416.47 541.63,416.54 542.52,416.61 543.41,416.68 544.29,416.74 545.18,416.81 546.07,416.87 546.95,416.93 547.84,416.99 548.72,417.05 549.61,417.11 550.5,417.17 551.38,417.22 552.27,417.27 553.16,417.32 554.04,417.38 554.93,417.42 555.82,417.47 556.7,417.52 557.59,417.56 558.48,417.61 559.36,417.65 560.25,417.69 561.14,417.73 562.02,417.77 562.91,417.81 563.79,417.85 564.68,417.88 565.57,417.92 566.45,417.95 567.34,417.98 568.23,418.02 569.11,418.05 570,418.08" fill="none" stroke="#ff0000" stroke-width="3.3" stroke-dasharray="8 1.8 3.2 1.8"/>
<text transform="translate(70.24,443) scale(1,1.02)" text-anchor="middle" class="tl">-15</text>
<text transform="translate(148.32,443) scale(1,1.02)" text-anchor="middle" class="tl">-10</text>
<text transform="translate(226.41,443) scale(1,1.02)" text-anchor="middle" class="tl">-5</text>
<text transform="translate(304.5,443) scale(1,1.02)" text-anchor="middle" class="tl">0</text>
<text transform="translate(382.59,443) scale(1,1.02)" text-anchor="middle" class="tl">5</text>
<text transform="translate(460.68,443) scale(1,1.02)" text-anchor="middle" class="tl">10</text>
<text transform="translate(538.76,443) scale(1,1.02)" text-anchor="middle" class="tl">15</text>
<text transform="translate(31.4,425.8) scale(1,1.02)" text-anchor="end" class="tl">0</text>
<text transform="translate(31.4,353.9) scale(1,1.02)" text-anchor="end" class="tl">0.05</text>
<text transform="translate(31.4,282.01) scale(1,1.02)" text-anchor="end" class="tl">0.1</text>
<text transform="translate(31.4,210.11) scale(1,1.02)" text-anchor="end" class="tl">0.15</text>
<text transform="translate(31.4,138.21) scale(1,1.02)" text-anchor="end" class="tl">0.2</text>
<text transform="translate(31.4,66.32) scale(1,1.02)" text-anchor="end" class="tl">0.25</text>
<text x="304.5" y="467.1" text-anchor="middle" class="xl">BTC</text>
<text x="110.3" y="51.5" class="an" textLength="373.7" lengthAdjust="spacing">SGED(<tspan font-style="italic">&#956;</tspan> = 0.4063, <tspan font-style="italic">&#963;</tspan> = 5.133, <tspan font-style="italic">k</tspan> = 0.705, <tspan font-style="italic">&#955;</tspan> = 0.0313)</text>
<rect x="435.5" y="178.4" width="117.8" height="64.5" fill="#fff" stroke="#333" stroke-width="1.2"/>
<line x1="440.8" y1="190.9" x2="477" y2="190.9" stroke="#000" stroke-width="1.3"/>
<text x="481.3" y="195.9" class="lg">Histogram</text>
<line x1="440.8" y1="211" x2="477" y2="211" stroke="#0000ff" stroke-width="3.1"/>
<text x="481.3" y="216" class="lg">SGED</text>
<line x1="440.8" y1="230.9" x2="477" y2="230.9" stroke="#ff0000" stroke-width="3.3" stroke-dasharray="8 1.8 3.2 1.8"/>
<text x="481.3" y="235.9" class="lg">Normal</text>
<clipPath id="c1"><rect x="658" y="0" width="530" height="419"/></clipPath>
<rect x="658" y="2" width="530" height="417" fill="none" stroke="#333" stroke-width="1.2"/>
<path d="M658 419v-5.5M658 2v5.5M724.25 419v-5.5M724.25 2v5.5M790.5 419v-5.5M790.5 2v5.5M856.75 419v-5.5M856.75 2v5.5M923 419v-5.5M923 2v5.5M989.25 419v-5.5M989.25 2v5.5M1055.5 419v-5.5M1055.5 2v5.5M1121.75 419v-5.5M1121.75 2v5.5M1188 419v-5.5M1188 2v5.5M658 419h5.5M1188 419h-5.5M658 361.4h5.5M1188 361.4h-5.5M658 303.81h5.5M1188 303.81h-5.5M658 246.21h5.5M1188 246.21h-5.5M658 188.61h5.5M1188 188.61h-5.5M658 131.02h5.5M1188 131.02h-5.5M658 73.42h5.5M1188 73.42h-5.5M658 15.82h5.5M1188 15.82h-5.5" stroke="#333" stroke-width="1.1" fill="none"/>
<path clip-path="url(#c1)" d="M664.8 419V417.56H681.97V419M681.97 419V415.26H699.14V419M699.14 419V414.68H716.31V419M716.31 419V410.94H733.48V419M733.48 419V418.14H750.65V419M750.65 419V407.19H767.82V419M767.82 419V398.84H784.99V419M784.99 419V394.52H802.16V419M802.16 419V384.44H819.33V419M819.33 419V369.18H836.5V419M836.5 419V323.97H853.67V419M853.67 419V302.94H870.84V419M870.84 419V238.72H888.01V419M888.01 419V147.43H905.18V419M905.18 419V132.74H922.35V419M922.35 419V107.4H939.52V419M939.52 419V181.7H956.69V419M956.69 419V237.28H973.86V419M973.86 419V289.98H991.03V419M991.03 419V328.57H1008.2V419M1008.2 419V362.27H1025.37V419M1025.37 419V390.49H1042.54V419M1042.54 419V394.52H1059.71V419M1059.71 419V402.3H1076.88V419M1076.88 419V407.19H1094.05V419M1094.05 419V410.36H1111.22V419M1111.22 419V410.94H1128.39V419M1128.39 419V418.14H1145.56V419" fill="none" stroke="#000" stroke-width="1.6"/>
<polyline points="658,418.13 658.44,418.12 658.88,418.11 659.33,418.1 659.77,418.09 660.21,418.08 660.65,418.06 661.09,418.05 661.53,418.04 661.98,418.03 662.42,418.02 662.86,418.01 663.3,418 663.74,417.99 664.18,417.97 664.62,417.96 665.07,417.95 665.51,417.94 665.95,417.92 666.39,417.91 666.83,417.9 667.27,417.89 667.72,417.87 668.16,417.86 668.6,417.85 669.04,417.83 669.48,417.82 669.92,417.81 670.37,417.79 670.81,417.78 671.25,417.76 671.69,417.75 672.13,417.74 672.58,417.72 673.02,417.71 673.46,417.69 673.9,417.68 674.34,417.66 674.78,417.65 675.23,417.63 675.67,417.61 676.11,417.6 676.55,417.58 676.99,417.57 677.43,417.55 677.88,417.53 678.32,417.51 678.76,417.5 679.2,417.48 679.64,417.46 680.08,417.45 680.52,417.43 680.97,417.41 681.41,417.39 681.85,417.37 682.29,417.35 682.73,417.33 683.17,417.32 683.62,417.3 684.06,417.28 684.5,417.26 684.94,417.24 685.38,417.22 685.83,417.2 686.27,417.17 686.71,417.15 687.15,417.13 687.59,417.11 688.03,417.09 688.48,417.07 688.92,417.05 689.36,417.02 689.8,417 690.24,416.98 690.68,416.95 691.12,416.93 691.57,416.91 692.01,416.88 692.45,416.86 692.89,416.83 693.33,416.81 693.77,416.78 694.22,416.76 694.66,416.73 695.1,416.71 695.54,416.68 695.98,416.65 696.42,416.63 696.87,416.6 697.31,416.57 697.75,416.55 698.19,416.52 698.63,416.49 699.08,416.46 699.52,416.43 699.96,416.4 700.4,416.37 700.84,416.34 701.28,416.31 701.73,416.28 702.17,416.25 702.61,416.22 703.05,416.19 703.49,416.16 703.93,416.12 704.38,416.09 704.82,416.06 705.26,416.03 705.7,415.99 706.14,415.96 706.58,415.92 707.02,415.89 707.47,415.85 707.91,415.82 708.35,415.78 708.79,415.75 709.23,415.71 709.68,415.67 710.12,415.63 710.56,415.6 711,415.56 711.44,415.52 711.88,415.48 712.33,415.44 712.77,415.4 713.21,415.36 713.65,415.32 714.09,415.28 714.53,415.23 714.98,415.19 715.42,415.15 715.86,415.11 716.3,415.06 716.74,415.02 717.18,414.97 717.62,414.93 718.07,414.88 718.51,414.84 718.95,414.79 719.39,414.74 719.83,414.69 720.27,414.64 720.72,414.6 721.16,414.55 721.6,414.5 722.04,414.45 722.48,414.4 722.92,414.34 723.37,414.29 723.81,414.24 724.25,414.19 724.69,414.13 725.13,414.08 725.58,414.02 726.02,413.97 726.46,413.91 726.9,413.85 727.34,413.8 727.78,413.74 728.23,413.68 728.67,413.62 729.11,413.56 729.55,413.5 729.99,413.44 730.43,413.38 730.88,413.31 731.32,413.25 731.76,413.19 732.2,413.12 732.64,413.06 733.08,412.99 733.52,412.92 733.97,412.86 734.41,412.79 734.85,412.72 735.29,412.65 735.73,412.58 736.17,412.51 736.62,412.44 737.06,412.36 737.5,412.29 737.94,412.22 738.38,412.14 738.83,412.07 739.27,411.99 739.71,411.91 740.15,411.83 740.59,411.76 741.03,411.68 741.48,411.59 741.92,411.51 742.36,411.43 742.8,411.35 743.24,411.26 743.68,411.18 744.12,411.09 744.57,411 745.01,410.92 745.45,410.83 745.89,410.74 746.33,410.65 746.77,410.56 747.22,410.46 747.66,410.37 748.1,410.28 748.54,410.18 748.98,410.08 749.42,409.99 749.87,409.89 750.31,409.79 750.75,409.69 751.19,409.58 751.63,409.48 752.08,409.38 752.52,409.27 752.96,409.17 753.4,409.06 753.84,408.95 754.28,408.84 754.73,408.73 755.17,408.62 755.61,408.51 756.05,408.39 756.49,408.28 756.93,408.16 757.38,408.04 757.82,407.92 758.26,407.8 758.7,407.68 759.14,407.56 759.58,407.43 760.02,407.31 760.47,407.18 760.91,407.05 761.35,406.92 761.79,406.79 762.23,406.66 762.67,406.53 763.12,406.39 763.56,406.26 764,406.12 764.44,405.98 764.88,405.84 765.33,405.7 765.77,405.56 766.21,405.41 766.65,405.26 767.09,405.12 767.53,404.97 767.98,404.82 768.42,404.66 768.86,404.51 769.3,404.35 769.74,404.2 770.18,404.04 770.62,403.88 771.07,403.72 771.51,403.55 771.95,403.39 772.39,403.22 772.83,403.05 773.27,402.88 773.72,402.71 774.16,402.53 774.6,402.36 775.04,402.18 775.48,402 775.92,401.82 776.37,401.64 776.81,401.45 777.25,401.26 777.69,401.08 778.13,400.88 778.58,400.69 779.02,400.5 779.46,400.3 779.9,400.1 780.34,399.9 780.78,399.7 781.23,399.49 781.67,399.29 782.11,399.08 782.55,398.87 782.99,398.65 783.43,398.44 783.88,398.22 784.32,398 784.76,397.78 785.2,397.56 785.64,397.33 786.08,397.1 786.53,396.87 786.97,396.64 787.41,396.4 787.85,396.16 788.29,395.92 788.73,395.68 789.18,395.44 789.62,395.19 790.06,394.94 790.5,394.69 790.94,394.43 791.38,394.17 791.83,393.91 792.27,393.65 792.71,393.39 793.15,393.12 793.59,392.85 794.03,392.57 794.48,392.3 794.92,392.02 795.36,391.74 795.8,391.45 796.24,391.17 796.68,390.88 797.12,390.59 797.57,390.29 798.01,389.99 798.45,389.69 798.89,389.39 799.33,389.08 799.77,388.77 800.22,388.45 800.66,388.14 801.1,387.82 801.54,387.5 801.98,387.17 802.42,386.84 802.87,386.51 803.31,386.17 803.75,385.83 804.19,385.49 804.63,385.15 805.08,384.8 805.52,384.45 805.96,384.09 806.4,383.73 806.84,383.37 807.28,383 807.73,382.63 808.17,382.26 808.61,381.88 809.05,381.5 809.49,381.12 809.93,380.73 810.38,380.34 810.82,379.95 811.26,379.55 811.7,379.14 812.14,378.74 812.58,378.33 813.03,377.91 813.47,377.5 813.91,377.07 814.35,376.65 814.79,376.22 815.23,375.78 815.67,375.34 816.12,374.9 816.56,374.45 817,374 817.44,373.55 817.88,373.09 818.33,372.62 818.77,372.15 819.21,371.68 819.65,371.2 820.09,370.72 820.53,370.24 820.98,369.74 821.42,369.25 821.86,368.75 822.3,368.24 822.74,367.73 823.18,367.22 823.62,366.7 824.07,366.18 824.51,365.65 824.95,365.11 825.39,364.58 825.83,364.03 826.27,363.48 826.72,362.93 827.16,362.37 827.6,361.81 828.04,361.24 828.48,360.66 828.92,360.08 829.37,359.5 829.81,358.91 830.25,358.31 830.69,357.71 831.13,357.1 831.58,356.49 832.02,355.87 832.46,355.25 832.9,354.62 833.34,353.98 833.78,353.34 834.23,352.7 834.67,352.04 835.11,351.39 835.55,350.72 835.99,350.05 836.43,349.37 836.88,348.69 837.32,348 837.76,347.31 838.2,346.61 838.64,345.9 839.08,345.19 839.52,344.47 839.97,343.74 840.41,343.01 840.85,342.27 841.29,341.52 841.73,340.77 842.17,340.01 842.62,339.25 843.06,338.47 843.5,337.69 843.94,336.91 844.38,336.11 844.83,335.31 845.27,334.51 845.71,333.69 846.15,332.87 846.59,332.04 847.03,331.21 847.48,330.36 847.92,329.51 848.36,328.66 848.8,327.79 849.24,326.92 849.68,326.04 850.12,325.15 850.57,324.26 851.01,323.35 851.45,322.44 851.89,321.53 852.33,320.6 852.78,319.67 853.22,318.72 853.66,317.77 854.1,316.82 854.54,315.85 854.98,314.88 855.42,313.9 855.87,312.9 856.31,311.91 856.75,310.9 857.19,309.88 857.63,308.86 858.08,307.83 858.52,306.79 858.96,305.74 859.4,304.68 859.84,303.61 860.28,302.54 860.73,301.45 861.17,300.36 861.61,299.26 862.05,298.15 862.49,297.03 862.93,295.9 863.38,294.76 863.82,293.61 864.26,292.45 864.7,291.29 865.14,290.11 865.58,288.93 866.02,287.73 866.47,286.53 866.91,285.32 867.35,284.09 867.79,282.86 868.23,281.62 868.67,280.37 869.12,279.11 869.56,277.83 870,276.55 870.44,275.26 870.88,273.96 871.33,272.65 871.77,271.33 872.21,270 872.65,268.66 873.09,267.3 873.53,265.94 873.98,264.57 874.42,263.19 874.86,261.8 875.3,260.39 875.74,258.98 876.18,257.56 876.62,256.12 877.07,254.68 877.51,253.22 877.95,251.75 878.39,250.28 878.83,248.79 879.28,247.29 879.72,245.78 880.16,244.26 880.6,242.73 881.04,241.19 881.48,239.64 881.92,238.08 882.37,236.5 882.81,234.92 883.25,233.32 883.69,231.71 884.13,230.1 884.58,228.47 885.02,226.83 885.46,225.18 885.9,223.52 886.34,221.84 886.78,220.16 887.23,218.46 887.67,216.76 888.11,215.04 888.55,213.31 888.99,211.57 889.43,209.82 889.88,208.06 890.32,206.29 890.76,204.51 891.2,202.71 891.64,200.91 892.08,199.09 892.52,197.26 892.97,195.43 893.41,193.58 893.85,191.72 894.29,189.85 894.73,187.97 895.17,186.08 895.62,184.17 896.06,182.26 896.5,180.34 896.94,178.41 897.38,176.46 897.83,174.51 898.27,172.55 898.71,170.57 899.15,168.59 899.59,166.59 900.03,164.59 900.48,162.58 900.92,160.56 901.36,158.52 901.8,156.48 902.24,154.43 902.68,152.38 903.12,150.31 903.57,148.23 904.01,146.15 904.45,144.06 904.89,141.96 905.33,139.85 905.77,137.74 906.22,135.62 906.66,133.49 907.1,131.36 907.54,129.22 907.98,127.07 908.42,124.92 908.87,122.77 909.31,120.61 909.75,118.44 910.19,116.28 910.63,114.11 911.08,111.93 911.52,109.76 911.96,107.59 912.4,105.41 912.84,103.24 913.28,101.06 913.73,98.89 914.17,96.73 914.61,94.57 915.05,92.41 915.49,90.26 915.93,88.12 916.38,85.99 916.82,83.87 917.26,81.77 917.7,79.69 918.14,77.63 918.58,75.59 919.03,73.58 919.47,71.61 919.91,69.68 920.35,67.8 920.79,66 921.23,64.29 921.67,62.74 921.95,61.98 922.12,62.41 922.56,63.88 923,65.54 923.44,67.3 923.88,69.13 924.33,71.02 924.77,72.96 925.21,74.93 925.65,76.94 926.09,78.97 926.53,81.02 926.98,83.09 927.42,85.18 927.86,87.28 928.3,89.39 928.74,91.51 929.18,93.64 929.62,95.77 930.07,97.91 930.51,100.05 930.95,102.2 931.39,104.35 931.83,106.49 932.28,108.64 932.72,110.79 933.16,112.94 933.6,115.08 934.04,117.23 934.48,119.37 934.93,121.5 935.37,123.63 935.81,125.76 936.25,127.89 936.69,130 937.13,132.11 937.58,134.22 938.02,136.32 938.46,138.41 938.9,140.5 939.34,142.58 939.78,144.65 940.23,146.72 940.67,148.77 941.11,150.82 941.55,152.86 941.99,154.89 942.43,156.92 942.88,158.93 943.32,160.94 943.76,162.93 944.2,164.92 944.64,166.9 945.08,168.87 945.52,170.82 945.97,172.77 946.41,174.71 946.85,176.64 947.29,178.56 947.73,180.47 948.17,182.37 948.62,184.26 949.06,186.14 949.5,188.01 949.94,189.87 950.38,191.71 950.83,193.55 951.27,195.38 951.71,197.19 952.15,199 952.59,200.79 953.03,202.58 953.48,204.35 953.92,206.12 954.36,207.87 954.8,209.61 955.24,211.34 955.68,213.06 956.12,214.77 956.57,216.47 957.01,218.15 957.45,219.83 957.89,221.5 958.33,223.15 958.77,224.8 959.22,226.43 959.66,228.05 960.1,229.67 960.54,231.27 960.98,232.86 961.42,234.44 961.87,236.01 962.31,237.57 962.75,239.11 963.19,240.65 963.63,242.18 964.08,243.69 964.52,245.2 964.96,246.69 965.4,248.18 965.84,249.65 966.28,251.12 966.73,252.57 967.17,254.01 967.61,255.45 968.05,256.87 968.49,258.28 968.93,259.68 969.38,261.07 969.82,262.45 970.26,263.83 970.7,265.19 971.14,266.54 971.58,267.88 972.03,269.21 972.47,270.53 972.91,271.84 973.35,273.14 973.79,274.44 974.23,275.72 974.67,276.99 975.12,278.25 975.56,279.51 976,280.75 976.44,281.98 976.88,283.21 977.33,284.42 977.77,285.63 978.21,286.83 978.65,288.01 979.09,289.19 979.53,290.36 979.98,291.52 980.42,292.67 980.86,293.81 981.3,294.94 981.74,296.07 982.18,297.18 982.62,298.29 983.07,299.38 983.51,300.47 983.95,301.55 984.39,302.62 984.83,303.68 985.28,304.74 985.72,305.78 986.16,306.82 986.6,307.85 987.04,308.87 987.48,309.88 987.92,310.88 988.37,311.88 988.81,312.86 989.25,313.84 989.69,314.81 990.13,315.78 990.58,316.73 991.02,317.68 991.46,318.62 991.9,319.55 992.34,320.47 992.78,321.39 993.23,322.3 993.67,323.2 994.11,324.09 994.55,324.98 994.99,325.86 995.43,326.73 995.88,327.59 996.32,328.45 996.76,329.3 997.2,330.14 997.64,330.97 998.08,331.8 998.53,332.62 998.97,333.43 999.41,334.24 999.85,335.04 1000.29,335.83 1000.73,336.62 1001.18,337.4 1001.62,338.17 1002.06,338.94 1002.5,339.7 1002.94,340.45 1003.38,341.2 1003.83,341.94 1004.27,342.67 1004.71,343.4 1005.15,344.12 1005.59,344.83 1006.03,345.54 1006.48,346.24 1006.92,346.94 1007.36,347.63 1007.8,348.31 1008.24,348.99 1008.68,349.66 1009.12,350.33 1009.57,350.99 1010.01,351.64 1010.45,352.29 1010.89,352.93 1011.33,353.57 1011.78,354.2 1012.22,354.83 1012.66,355.45 1013.1,356.06 1013.54,356.67 1013.98,357.27 1014.43,357.87 1014.87,358.46 1015.31,359.05 1015.75,359.63 1016.19,360.21 1016.63,360.78 1017.08,361.35 1017.52,361.91 1017.96,362.47 1018.4,363.02 1018.84,363.57 1019.28,364.11 1019.73,364.64 1020.17,365.17 1020.61,365.7 1021.05,366.22 1021.49,366.74 1021.93,367.25 1022.38,367.76 1022.82,368.26 1023.26,368.76 1023.7,369.26 1024.14,369.75 1024.58,370.23 1025.03,370.71 1025.47,371.19 1025.91,371.66 1026.35,372.13 1026.79,372.59 1027.23,373.05 1027.67,373.51 1028.12,373.96 1028.56,374.4 1029,374.84 1029.44,375.28 1029.88,375.72 1030.33,376.15 1030.77,376.57 1031.21,376.99 1031.65,377.41 1032.09,377.83 1032.53,378.24 1032.97,378.64 1033.42,379.05 1033.86,379.44 1034.3,379.84 1034.74,380.23 1035.18,380.62 1035.62,381 1036.07,381.38 1036.51,381.76 1036.95,382.13 1037.39,382.5 1037.83,382.87 1038.28,383.23 1038.72,383.59 1039.16,383.95 1039.6,384.3 1040.04,384.65 1040.48,385 1040.92,385.34 1041.37,385.68 1041.81,386.01 1042.25,386.35 1042.69,386.68 1043.13,387 1043.58,387.33 1044.02,387.65 1044.46,387.96 1044.9,388.28 1045.34,388.59 1045.78,388.9 1046.22,389.2 1046.67,389.51 1047.11,389.81 1047.55,390.1 1047.99,390.4 1048.43,390.69 1048.88,390.98 1049.32,391.26 1049.76,391.54 1050.2,391.82 1050.64,392.1 1051.08,392.38 1051.53,392.65 1051.97,392.92 1052.41,393.18 1052.85,393.45 1053.29,393.71 1053.73,393.97 1054.17,394.22 1054.62,394.48 1055.06,394.73 1055.5,394.98 1055.94,395.23 1056.38,395.47 1056.83,395.71 1057.27,395.95 1057.71,396.19 1058.15,396.42 1058.59,396.66 1059.03,396.89 1059.47,397.11 1059.92,397.34 1060.36,397.56 1060.8,397.78 1061.24,398 1061.68,398.22 1062.12,398.43 1062.57,398.65 1063.01,398.86 1063.45,399.07 1063.89,399.27 1064.33,399.48 1064.78,399.68 1065.22,399.88 1065.66,400.08 1066.1,400.28 1066.54,400.47 1066.98,400.66 1067.43,400.85 1067.87,401.04 1068.31,401.23 1068.75,401.41 1069.19,401.6 1069.63,401.78 1070.08,401.96 1070.52,402.14 1070.96,402.31 1071.4,402.49 1071.84,402.66 1072.28,402.83 1072.72,403 1073.17,403.17 1073.61,403.33 1074.05,403.5 1074.49,403.66 1074.93,403.82 1075.38,403.98 1075.82,404.14 1076.26,404.29 1076.7,404.45 1077.14,404.6 1077.58,404.75 1078.03,404.9 1078.47,405.05 1078.91,405.19 1079.35,405.34 1079.79,405.48 1080.23,405.63 1080.68,405.77 1081.12,405.91 1081.56,406.04 1082,406.18 1082.44,406.32 1082.88,406.45 1083.33,406.58 1083.77,406.71 1084.21,406.84 1084.65,406.97 1085.09,407.1 1085.53,407.23 1085.98,407.35 1086.42,407.47 1086.86,407.6 1087.3,407.72 1087.74,407.84 1088.18,407.96 1088.62,408.07 1089.07,408.19 1089.51,408.3 1089.95,408.42 1090.39,408.53 1090.83,408.64 1091.28,408.75 1091.72,408.86 1092.16,408.97 1092.6,409.08 1093.04,409.18 1093.48,409.29 1093.92,409.39 1094.37,409.49 1094.81,409.59 1095.25,409.69 1095.69,409.79 1096.13,409.89 1096.58,409.99 1097.02,410.09 1097.46,410.18 1097.9,410.28 1098.34,410.37 1098.78,410.46 1099.22,410.55 1099.67,410.64 1100.11,410.73 1100.55,410.82 1100.99,410.91 1101.43,411 1101.88,411.08 1102.32,411.17 1102.76,411.25 1103.2,411.34 1103.64,411.42 1104.08,411.5 1104.53,411.58 1104.97,411.66 1105.41,411.74 1105.85,411.82 1106.29,411.9 1106.73,411.97 1107.17,412.05 1107.62,412.12 1108.06,412.2 1108.5,412.27 1108.94,412.34 1109.38,412.42 1109.83,412.49 1110.27,412.56 1110.71,412.63 1111.15,412.7 1111.59,412.76 1112.03,412.83 1112.47,412.9 1112.92,412.97 1113.36,413.03 1113.8,413.1 1114.24,413.16 1114.68,413.22 1115.12,413.29 1115.57,413.35 1116.01,413.41 1116.45,413.47 1116.89,413.53 1117.33,413.59 1117.78,413.65 1118.22,413.71 1118.66,413.76 1119.1,413.82 1119.54,413.88 1119.98,413.93 1120.42,413.99 1120.87,414.04 1121.31,414.1 1121.75,414.15 1122.19,414.2 1122.63,414.26 1123.08,414.31 1123.52,414.36 1123.96,414.41 1124.4,414.46 1124.84,414.51 1125.28,414.56 1125.72,414.61 1126.17,414.66 1126.61,414.7 1127.05,414.75 1127.49,414.8 1127.93,414.84 1128.38,414.89 1128.82,414.94 1129.26,414.98 1129.7,415.02 1130.14,415.07 1130.58,415.11 1131.03,415.15 1131.47,415.2 1131.91,415.24 1132.35,415.28 1132.79,415.32 1133.23,415.36 1133.68,415.4 1134.12,415.44 1134.56,415.48 1135,415.52 1135.44,415.56 1135.88,415.6 1136.33,415.63 1136.77,415.67 1137.21,415.71 1137.65,415.74 1138.09,415.78 1138.53,415.81 1138.97,415.85 1139.42,415.88 1139.86,415.92 1140.3,415.95 1140.74,415.99 1141.18,416.02 1141.62,416.05 1142.07,416.09 1142.51,416.12 1142.95,416.15 1143.39,416.18 1143.83,416.21 1144.28,416.24 1144.72,416.27 1145.16,416.31 1145.6,416.34 1146.04,416.36 1146.48,416.39 1146.93,416.42 1147.37,416.45 1147.81,416.48 1148.25,416.51 1148.69,416.54 1149.13,416.56 1149.58,416.59 1150.02,416.62 1150.46,416.64 1150.9,416.67 1151.34,416.7 1151.78,416.72 1152.23,416.75 1152.67,416.77 1153.11,416.8 1153.55,416.82 1153.99,416.85 1154.43,416.87 1154.88,416.89 1155.32,416.92 1155.76,416.94 1156.2,416.96 1156.64,416.99 1157.08,417.01 1157.53,417.03 1157.97,417.05 1158.41,417.08 1158.85,417.1 1159.29,417.12 1159.73,417.14 1160.17,417.16 1160.62,417.18 1161.06,417.2 1161.5,417.22 1161.94,417.24 1162.38,417.26 1162.83,417.28 1163.27,417.3 1163.71,417.32 1164.15,417.34 1164.59,417.36 1165.03,417.38 1165.47,417.39 1165.92,417.41 1166.36,417.43 1166.8,417.45 1167.24,417.47 1167.68,417.48 1168.12,417.5 1168.57,417.52 1169.01,417.53 1169.45,417.55 1169.89,417.57 1170.33,417.58 1170.78,417.6 1171.22,417.61 1171.66,417.63 1172.1,417.65 1172.54,417.66 1172.98,417.68 1173.43,417.69 1173.87,417.71 1174.31,417.72 1174.75,417.73 1175.19,417.75 1175.63,417.76 1176.08,417.78 1176.52,417.79 1176.96,417.81 1177.4,417.82 1177.84,417.83 1178.28,417.85 1178.72,417.86 1179.17,417.87 1179.61,417.88 1180.05,417.9 1180.49,417.91 1180.93,417.92 1181.38,417.93 1181.82,417.95 1182.26,417.96 1182.7,417.97 1183.14,417.98 1183.58,417.99 1184.03,418 1184.47,418.02 1184.91,418.03 1185.35,418.04 1185.79,418.05 1186.23,418.06 1186.68,418.07 1187.12,418.08 1187.56,418.09 1188,418.1" fill="none" stroke="#0000ff" stroke-width="3.1" stroke-linejoin="round" stroke-linecap="round"/>
<polyline points="658,418.95 658.88,418.95 659.77,418.95 660.65,418.94 661.54,418.94 662.42,418.94 663.31,418.93 664.19,418.93 665.08,418.93 665.96,418.92 666.85,418.92 667.73,418.91 668.62,418.91 669.5,418.9 670.39,418.9 671.27,418.89 672.16,418.89 673.04,418.88 673.93,418.87 674.81,418.87 675.7,418.86 676.58,418.85 677.47,418.84 678.35,418.83 679.24,418.83 680.12,418.82 681.01,418.81 681.89,418.8 682.77,418.79 683.66,418.77 684.54,418.76 685.43,418.75 686.31,418.74 687.2,418.72 688.08,418.71 688.97,418.69 689.85,418.68 690.74,418.66 691.62,418.64 692.51,418.63 693.39,418.61 694.28,418.59 695.16,418.57 696.05,418.55 696.93,418.52 697.82,418.5 698.7,418.47 699.59,418.45 700.47,418.42 701.36,418.39 702.24,418.36 703.13,418.33 704.01,418.3 704.89,418.27 705.78,418.23 706.66,418.19 707.55,418.16 708.43,418.12 709.32,418.07 710.2,418.03 711.09,417.99 711.97,417.94 712.86,417.89 713.74,417.84 714.63,417.78 715.51,417.73 716.4,417.67 717.28,417.61 718.17,417.55 719.05,417.48 719.94,417.42 720.82,417.35 721.71,417.27 722.59,417.2 723.48,417.12 724.36,417.03 725.25,416.95 726.13,416.86 727.02,416.77 727.9,416.67 728.78,416.57 729.67,416.47 730.55,416.36 731.44,416.25 732.32,416.13 733.21,416.02 734.09,415.89 734.98,415.76 735.86,415.63 736.75,415.49 737.63,415.35 738.52,415.2 739.4,415.05 740.29,414.89 741.17,414.72 742.06,414.55 742.94,414.38 743.83,414.2 744.71,414.01 745.6,413.81 746.48,413.61 747.37,413.4 748.25,413.19 749.14,412.97 750.02,412.74 750.9,412.5 751.79,412.26 752.67,412.01 753.56,411.75 754.44,411.48 755.33,411.2 756.21,410.91 757.1,410.62 757.98,410.32 758.87,410 759.75,409.68 760.64,409.35 761.52,409.01 762.41,408.66 763.29,408.29 764.18,407.92 765.06,407.54 765.95,407.14 766.83,406.74 767.72,406.32 768.6,405.89 769.49,405.45 770.37,405 771.26,404.53 772.14,404.05 773.03,403.56 773.91,403.06 774.79,402.54 775.68,402.01 776.56,401.46 777.45,400.9 778.33,400.33 779.22,399.74 780.1,399.14 780.99,398.52 781.87,397.89 782.76,397.24 783.64,396.58 784.53,395.9 785.41,395.2 786.3,394.49 787.18,393.76 788.07,393.01 788.95,392.25 789.84,391.47 790.72,390.68 791.61,389.86 792.49,389.03 793.38,388.18 794.26,387.31 795.15,386.43 796.03,385.52 796.91,384.6 797.8,383.66 798.68,382.7 799.57,381.72 800.45,380.72 801.34,379.7 802.22,378.66 803.11,377.61 803.99,376.53 804.88,375.43 805.76,374.32 806.65,373.18 807.53,372.02 808.42,370.85 809.3,369.65 810.19,368.44 811.07,367.2 811.96,365.94 812.84,364.67 813.73,363.37 814.61,362.05 815.5,360.72 816.38,359.36 817.27,357.98 818.15,356.59 819.04,355.17 819.92,353.73 820.8,352.28 821.69,350.8 822.57,349.31 823.46,347.79 824.34,346.26 825.23,344.71 826.11,343.14 827,341.55 827.88,339.94 828.77,338.31 829.65,336.67 830.54,335.01 831.42,333.33 832.31,331.64 833.19,329.93 834.08,328.2 834.96,326.46 835.85,324.7 836.73,322.92 837.62,321.13 838.5,319.33 839.39,317.51 840.27,315.68 841.16,313.84 842.04,311.98 842.92,310.11 843.81,308.23 844.69,306.34 845.58,304.44 846.46,302.53 847.35,300.61 848.23,298.68 849.12,296.74 850,294.79 850.89,292.84 851.77,290.88 852.66,288.92 853.54,286.95 854.43,284.98 855.31,283 856.2,281.02 857.08,279.04 857.97,277.05 858.85,275.07 859.74,273.08 860.62,271.1 861.51,269.12 862.39,267.14 863.28,265.16 864.16,263.19 865.05,261.22 865.93,259.26 866.81,257.3 867.7,255.35 868.58,253.41 869.47,251.48 870.35,249.55 871.24,247.64 872.12,245.74 873.01,243.85 873.89,241.98 874.78,240.11 875.66,238.27 876.55,236.44 877.43,234.62 878.32,232.82 879.2,231.05 880.09,229.29 880.97,227.55 881.86,225.83 882.74,224.13 883.63,222.45 884.51,220.8 885.4,219.17 886.28,217.57 887.17,215.99 888.05,214.44 888.93,212.92 889.82,211.43 890.7,209.96 891.59,208.52 892.47,207.12 893.36,205.74 894.24,204.4 895.13,203.09 896.01,201.81 896.9,200.57 897.78,199.36 898.67,198.19 899.55,197.05 900.44,195.95 901.32,194.89 902.21,193.86 903.09,192.88 903.98,191.93 904.86,191.02 905.75,190.15 906.63,189.32 907.52,188.54 908.4,187.79 909.29,187.08 910.17,186.42 911.06,185.8 911.94,185.22 912.82,184.69 913.71,184.2 914.59,183.75 915.48,183.35 916.36,182.99 917.25,182.68 918.13,182.41 919.02,182.18 919.9,182 920.79,181.87 921.67,181.78 922.56,181.73 923.44,181.73 924.33,181.78 925.21,181.87 926.1,182 926.98,182.18 927.87,182.41 928.75,182.68 929.64,182.99 930.52,183.35 931.41,183.75 932.29,184.2 933.18,184.69 934.06,185.22 934.94,185.8 935.83,186.42 936.71,187.08 937.6,187.79 938.48,188.54 939.37,189.32 940.25,190.15 941.14,191.02 942.02,191.93 942.91,192.88 943.79,193.86 944.68,194.89 945.56,195.95 946.45,197.05 947.33,198.19 948.22,199.36 949.1,200.57 949.99,201.81 950.87,203.09 951.76,204.4 952.64,205.74 953.53,207.12 954.41,208.52 955.3,209.96 956.18,211.43 957.07,212.92 957.95,214.44 958.83,215.99 959.72,217.57 960.6,219.17 961.49,220.8 962.37,222.45 963.26,224.13 964.14,225.83 965.03,227.55 965.91,229.29 966.8,231.05 967.68,232.82 968.57,234.62 969.45,236.44 970.34,238.27 971.22,240.11 972.11,241.98 972.99,243.85 973.88,245.74 974.76,247.64 975.65,249.55 976.53,251.48 977.42,253.41 978.3,255.35 979.19,257.3 980.07,259.26 980.95,261.22 981.84,263.19 982.72,265.16 983.61,267.14 984.49,269.12 985.38,271.1 986.26,273.08 987.15,275.07 988.03,277.05 988.92,279.04 989.8,281.02 990.69,283 991.57,284.98 992.46,286.95 993.34,288.92 994.23,290.88 995.11,292.84 996,294.79 996.88,296.74 997.77,298.68 998.65,300.61 999.54,302.53 1000.42,304.44 1001.31,306.34 1002.19,308.23 1003.08,310.11 1003.96,311.98 1004.84,313.84 1005.73,315.68 1006.61,317.51 1007.5,319.33 1008.38,321.13 1009.27,322.92 1010.15,324.7 1011.04,326.46 1011.92,328.2 1012.81,329.93 1013.69,331.64 1014.58,333.33 1015.46,335.01 1016.35,336.67 1017.23,338.31 1018.12,339.94 1019,341.55 1019.89,343.14 1020.77,344.71 1021.66,346.26 1022.54,347.79 1023.43,349.31 1024.31,350.8 1025.2,352.28 1026.08,353.73 1026.96,355.17 1027.85,356.59 1028.73,357.98 1029.62,359.36 1030.5,360.72 1031.39,362.05 1032.27,363.37 1033.16,364.67 1034.04,365.94 1034.93,367.2 1035.81,368.44 1036.7,369.65 1037.58,370.85 1038.47,372.02 1039.35,373.18 1040.24,374.32 1041.12,375.43 1042.01,376.53 1042.89,377.61 1043.78,378.66 1044.66,379.7 1045.55,380.72 1046.43,381.72 1047.32,382.7 1048.2,383.66 1049.09,384.6 1049.97,385.52 1050.85,386.43 1051.74,387.31 1052.62,388.18 1053.51,389.03 1054.39,389.86 1055.28,390.68 1056.16,391.47 1057.05,392.25 1057.93,393.01 1058.82,393.76 1059.7,394.49 1060.59,395.2 1061.47,395.9 1062.36,396.58 1063.24,397.24 1064.13,397.89 1065.01,398.52 1065.9,399.14 1066.78,399.74 1067.67,400.33 1068.55,400.9 1069.44,401.46 1070.32,402.01 1071.21,402.54 1072.09,403.06 1072.97,403.56 1073.86,404.05 1074.74,404.53 1075.63,405 1076.51,405.45 1077.4,405.89 1078.28,406.32 1079.17,406.74 1080.05,407.14 1080.94,407.54 1081.82,407.92 1082.71,408.29 1083.59,408.66 1084.48,409.01 1085.36,409.35 1086.25,409.68 1087.13,410 1088.02,410.32 1088.9,410.62 1089.79,410.91 1090.67,411.2 1091.56,411.48 1092.44,411.75 1093.33,412.01 1094.21,412.26 1095.1,412.5 1095.98,412.74 1096.86,412.97 1097.75,413.19 1098.63,413.4 1099.52,413.61 1100.4,413.81 1101.29,414.01 1102.17,414.2 1103.06,414.38 1103.94,414.55 1104.83,414.72 1105.71,414.89 1106.6,415.05 1107.48,415.2 1108.37,415.35 1109.25,415.49 1110.14,415.63 1111.02,415.76 1111.91,415.89 1112.79,416.02 1113.68,416.13 1114.56,416.25 1115.45,416.36 1116.33,416.47 1117.22,416.57 1118.1,416.67 1118.98,416.77 1119.87,416.86 1120.75,416.95 1121.64,417.03 1122.52,417.12 1123.41,417.2 1124.29,417.27 1125.18,417.35 1126.06,417.42 1126.95,417.48 1127.83,417.55 1128.72,417.61 1129.6,417.67 1130.49,417.73 1131.37,417.78 1132.26,417.84 1133.14,417.89 1134.03,417.94 1134.91,417.99 1135.8,418.03 1136.68,418.07 1137.57,418.12 1138.45,418.16 1139.34,418.19 1140.22,418.23 1141.11,418.27 1141.99,418.3 1142.87,418.33 1143.76,418.36 1144.64,418.39 1145.53,418.42 1146.41,418.45 1147.3,418.47 1148.18,418.5 1149.07,418.52 1149.95,418.55 1150.84,418.57 1151.72,418.59 1152.61,418.61 1153.49,418.63 1154.38,418.64 1155.26,418.66 1156.15,418.68 1157.03,418.69 1157.92,418.71 1158.8,418.72 1159.69,418.74 1160.57,418.75 1161.46,418.76 1162.34,418.77 1163.23,418.79 1164.11,418.8 1164.99,418.81 1165.88,418.82 1166.76,418.83 1167.65,418.83 1168.53,418.84 1169.42,418.85 1170.3,418.86 1171.19,418.87 1172.07,418.87 1172.96,418.88 1173.84,418.89 1174.73,418.89 1175.61,418.9 1176.5,418.9 1177.38,418.91 1178.27,418.91 1179.15,418.92 1180.04,418.92 1180.92,418.93 1181.81,418.93 1182.69,418.93 1183.58,418.94 1184.46,418.94 1185.35,418.94 1186.23,418.95 1187.12,418.95 1188,418.95" fill="none" stroke="#ff0000" stroke-width="3.3" stroke-dasharray="8 1.8 3.2 1.8"/>
<text transform="translate(658,443) scale(1,1.02)" text-anchor="middle" class="tl">-2</text>
<text transform="translate(724.25,443) scale(1,1.02)" text-anchor="middle" class="tl">-1.5</text>
<text transform="translate(790.5,443) scale(1,1.02)" text-anchor="middle" class="tl">-1</text>
<text transform="translate(856.75,443) scale(1,1.02)" text-anchor="middle" class="tl">-0.5</text>
<text transform="translate(923,443) scale(1,1.02)" text-anchor="middle" class="tl">0</text>
<text transform="translate(989.25,443) scale(1,1.02)" text-anchor="middle" class="tl">0.5</text>
<text transform="translate(1055.5,443) scale(1,1.02)" text-anchor="middle" class="tl">1</text>
<text transform="translate(1121.75,443) scale(1,1.02)" text-anchor="middle" class="tl">1.5</text>
<text transform="translate(1188,443) scale(1,1.02)" text-anchor="middle" class="tl">2</text>
<text transform="translate(650.4,425.8) scale(1,1.02)" text-anchor="end" class="tl">0</text>
<text transform="translate(650.4,368.2) scale(1,1.02)" text-anchor="end" class="tl">0.2</text>
<text transform="translate(650.4,310.61) scale(1,1.02)" text-anchor="end" class="tl">0.4</text>
<text transform="translate(650.4,253.01) scale(1,1.02)" text-anchor="end" class="tl">0.6</text>
<text transform="translate(650.4,195.41) scale(1,1.02)" text-anchor="end" class="tl">0.8</text>
<text transform="translate(650.4,137.82) scale(1,1.02)" text-anchor="end" class="tl">1</text>
<text transform="translate(650.4,80.22) scale(1,1.02)" text-anchor="end" class="tl">1.2</text>
<text transform="translate(650.4,22.62) scale(1,1.02)" text-anchor="end" class="tl">1.4</text>
<text x="923" y="466.9" text-anchor="middle" class="xl">EUR</text>
<text x="725" y="42.2" class="an" textLength="389.2" lengthAdjust="spacing">SGED(<tspan font-style="italic">&#956;</tspan> = -0.0037, <tspan font-style="italic">&#963;</tspan> = 0.4834, <tspan font-style="italic">k</tspan> = 1.1558, <tspan font-style="italic">&#955;</tspan> = 0.006)</text>
<rect x="1054.2" y="178.2" width="117.8" height="64.5" fill="#fff" stroke="#333" stroke-width="1.2"/>
<line x1="1059.5" y1="190.7" x2="1095.7" y2="190.7" stroke="#000" stroke-width="1.3"/>
<text x="1100" y="195.7" class="lg">Histogram</text>
<line x1="1059.5" y1="210.8" x2="1095.7" y2="210.8" stroke="#0000ff" stroke-width="3.1"/>
<text x="1100" y="215.8" class="lg">SGED</text>
<line x1="1059.5" y1="230.7" x2="1095.7" y2="230.7" stroke="#ff0000" stroke-width="3.3" stroke-dasharray="8 1.8 3.2 1.8"/>
<text x="1100" y="235.7" class="lg">Normal</text>
<clipPath id="c2"><rect x="54" y="498.5" width="531" height="419.0"/></clipPath>
<rect x="54" y="500.5" width="531" height="417" fill="none" stroke="#333" stroke-width="1.2"/>
<path d="M54 917.5v-5.5M54 500.5v5.5M120.38 917.5v-5.5M120.38 500.5v5.5M186.75 917.5v-5.5M186.75 500.5v5.5M253.12 917.5v-5.5M253.12 500.5v5.5M319.5 917.5v-5.5M319.5 500.5v5.5M385.88 917.5v-5.5M385.88 500.5v5.5M452.25 917.5v-5.5M452.25 500.5v5.5M518.62 917.5v-5.5M518.62 500.5v5.5M585 917.5v-5.5M585 500.5v5.5M54 917.5h5.5M585 917.5h-5.5M54 778.5h5.5M585 778.5h-5.5M54 639.5h5.5M585 639.5h-5.5M54 500.5h5.5M585 500.5h-5.5" stroke="#333" stroke-width="1.1" fill="none"/>
<path clip-path="url(#c2)" d="M68.7 917.5V912.22H87.85V917.5M87.85 917.5V914.72H107V917.5M107 917.5V914.72H126.15V917.5M126.15 917.5V911.38H145.3V917.5M145.3 917.5V906.38H164.45V917.5M164.45 917.5V898.04H183.6V917.5M183.6 917.5V888.31H202.75V917.5M202.75 917.5V877.47H221.9V917.5M221.9 917.5V848.56H241.05V917.5M241.05 917.5V812.42H260.2V917.5M260.2 917.5V757.09H279.35V917.5M279.35 917.5V696.77H298.5V917.5M298.5 917.5V639.5H317.65V917.5M317.65 917.5V612.81H336.8V917.5M336.8 917.5V693.99H355.95V917.5M355.95 917.5V782.39H375.1V917.5M375.1 917.5V816.31H394.25V917.5M394.25 917.5V854.67H413.4V917.5M413.4 917.5V872.74H432.55V917.5M432.55 917.5V888.59H451.7V917.5M451.7 917.5V896.09H470.85V917.5M470.85 917.5V906.38H490V917.5M490 917.5V907.49H509.15V917.5M509.15 917.5V914.72H528.3V917.5" fill="none" stroke="#000" stroke-width="1.6"/>
<polyline points="54,915.64 54.44,915.62 54.88,915.6 55.33,915.59 55.77,915.57 56.21,915.55 56.66,915.53 57.1,915.52 57.54,915.5 57.98,915.48 58.43,915.46 58.87,915.44 59.31,915.42 59.75,915.41 60.19,915.39 60.64,915.37 61.08,915.35 61.52,915.33 61.97,915.31 62.41,915.29 62.85,915.27 63.29,915.25 63.73,915.23 64.18,915.21 64.62,915.19 65.06,915.17 65.5,915.15 65.95,915.13 66.39,915.1 66.83,915.08 67.28,915.06 67.72,915.04 68.16,915.02 68.6,915 69.04,914.97 69.49,914.95 69.93,914.93 70.37,914.9 70.81,914.88 71.26,914.86 71.7,914.83 72.14,914.81 72.59,914.78 73.03,914.76 73.47,914.74 73.91,914.71 74.35,914.69 74.8,914.66 75.24,914.63 75.68,914.61 76.13,914.58 76.57,914.56 77.01,914.53 77.45,914.5 77.89,914.48 78.34,914.45 78.78,914.42 79.22,914.39 79.67,914.37 80.11,914.34 80.55,914.31 80.99,914.28 81.44,914.25 81.88,914.22 82.32,914.19 82.76,914.16 83.2,914.13 83.65,914.1 84.09,914.07 84.53,914.04 84.98,914.01 85.42,913.98 85.86,913.95 86.3,913.92 86.74,913.88 87.19,913.85 87.63,913.82 88.07,913.78 88.52,913.75 88.96,913.72 89.4,913.68 89.84,913.65 90.29,913.61 90.73,913.58 91.17,913.54 91.61,913.51 92.05,913.47 92.5,913.44 92.94,913.4 93.38,913.36 93.83,913.33 94.27,913.29 94.71,913.25 95.15,913.21 95.6,913.17 96.04,913.14 96.48,913.1 96.92,913.06 97.37,913.02 97.81,912.98 98.25,912.94 98.69,912.89 99.14,912.85 99.58,912.81 100.02,912.77 100.46,912.73 100.91,912.68 101.35,912.64 101.79,912.6 102.23,912.55 102.68,912.51 103.12,912.46 103.56,912.42 104,912.37 104.44,912.33 104.89,912.28 105.33,912.23 105.77,912.19 106.22,912.14 106.66,912.09 107.1,912.04 107.54,911.99 107.99,911.94 108.43,911.89 108.87,911.84 109.31,911.79 109.75,911.74 110.2,911.69 110.64,911.64 111.08,911.58 111.53,911.53 111.97,911.48 112.41,911.42 112.85,911.37 113.3,911.31 113.74,911.26 114.18,911.2 114.62,911.15 115.06,911.09 115.51,911.03 115.95,910.97 116.39,910.92 116.84,910.86 117.28,910.8 117.72,910.74 118.16,910.68 118.61,910.61 119.05,910.55 119.49,910.49 119.93,910.43 120.38,910.36 120.82,910.3 121.26,910.24 121.7,910.17 122.15,910.1 122.59,910.04 123.03,909.97 123.47,909.9 123.92,909.84 124.36,909.77 124.8,909.7 125.24,909.63 125.69,909.56 126.13,909.49 126.57,909.41 127.01,909.34 127.45,909.27 127.9,909.19 128.34,909.12 128.78,909.04 129.22,908.97 129.67,908.89 130.11,908.81 130.55,908.74 131,908.66 131.44,908.58 131.88,908.5 132.32,908.42 132.76,908.34 133.21,908.25 133.65,908.17 134.09,908.09 134.53,908 134.98,907.92 135.42,907.83 135.86,907.75 136.31,907.66 136.75,907.57 137.19,907.48 137.63,907.39 138.07,907.3 138.52,907.21 138.96,907.12 139.4,907.02 139.85,906.93 140.29,906.84 140.73,906.74 141.17,906.64 141.62,906.55 142.06,906.45 142.5,906.35 142.94,906.25 143.38,906.15 143.83,906.05 144.27,905.94 144.71,905.84 145.16,905.74 145.6,905.63 146.04,905.53 146.48,905.42 146.93,905.31 147.37,905.2 147.81,905.09 148.25,904.98 148.69,904.87 149.14,904.75 149.58,904.64 150.02,904.52 150.46,904.41 150.91,904.29 151.35,904.17 151.79,904.05 152.24,903.93 152.68,903.81 153.12,903.69 153.56,903.57 154,903.44 154.45,903.32 154.89,903.19 155.33,903.06 155.77,902.93 156.22,902.8 156.66,902.67 157.1,902.54 157.55,902.4 157.99,902.27 158.43,902.13 158.87,901.99 159.31,901.86 159.76,901.72 160.2,901.57 160.64,901.43 161.08,901.29 161.53,901.14 161.97,901 162.41,900.85 162.86,900.7 163.3,900.55 163.74,900.4 164.18,900.25 164.62,900.09 165.07,899.94 165.51,899.78 165.95,899.62 166.39,899.46 166.84,899.3 167.28,899.14 167.72,898.97 168.17,898.81 168.61,898.64 169.05,898.47 169.49,898.3 169.94,898.13 170.38,897.96 170.82,897.78 171.26,897.61 171.71,897.43 172.15,897.25 172.59,897.07 173.03,896.88 173.47,896.7 173.92,896.51 174.36,896.33 174.8,896.14 175.25,895.95 175.69,895.75 176.13,895.56 176.57,895.36 177.02,895.17 177.46,894.97 177.9,894.77 178.34,894.56 178.78,894.36 179.23,894.15 179.67,893.94 180.11,893.73 180.56,893.52 181,893.31 181.44,893.09 181.88,892.87 182.33,892.65 182.77,892.43 183.21,892.21 183.65,891.98 184.09,891.75 184.54,891.52 184.98,891.29 185.42,891.06 185.87,890.82 186.31,890.58 186.75,890.34 187.19,890.1 187.64,889.86 188.08,889.61 188.52,889.36 188.96,889.11 189.41,888.86 189.85,888.6 190.29,888.34 190.73,888.08 191.18,887.82 191.62,887.56 192.06,887.29 192.5,887.02 192.94,886.75 193.39,886.48 193.83,886.2 194.27,885.92 194.72,885.64 195.16,885.35 195.6,885.07 196.04,884.78 196.49,884.49 196.93,884.19 197.37,883.9 197.81,883.6 198.25,883.29 198.7,882.99 199.14,882.68 199.58,882.37 200.03,882.06 200.47,881.74 200.91,881.43 201.35,881.1 201.8,880.78 202.24,880.45 202.68,880.12 203.12,879.79 203.56,879.45 204.01,879.12 204.45,878.77 204.89,878.43 205.34,878.08 205.78,877.73 206.22,877.38 206.66,877.02 207.1,876.66 207.55,876.29 207.99,875.93 208.43,875.56 208.88,875.18 209.32,874.81 209.76,874.43 210.2,874.05 210.65,873.66 211.09,873.27 211.53,872.87 211.97,872.48 212.41,872.08 212.86,871.67 213.3,871.27 213.74,870.85 214.19,870.44 214.63,870.02 215.07,869.6 215.51,869.17 215.95,868.74 216.4,868.31 216.84,867.87 217.28,867.43 217.72,866.99 218.17,866.54 218.61,866.09 219.05,865.63 219.5,865.17 219.94,864.7 220.38,864.23 220.82,863.76 221.27,863.28 221.71,862.8 222.15,862.31 222.59,861.82 223.04,861.33 223.48,860.83 223.92,860.33 224.36,859.82 224.81,859.31 225.25,858.79 225.69,858.27 226.13,857.74 226.58,857.21 227.02,856.68 227.46,856.14 227.9,855.59 228.35,855.05 228.79,854.49 229.23,853.93 229.67,853.37 230.12,852.8 230.56,852.22 231,851.65 231.44,851.06 231.89,850.47 232.33,849.88 232.77,849.28 233.21,848.67 233.66,848.06 234.1,847.45 234.54,846.83 234.98,846.2 235.43,845.57 235.87,844.93 236.31,844.29 236.75,843.64 237.2,842.98 237.64,842.32 238.08,841.66 238.52,840.99 238.97,840.31 239.41,839.62 239.85,838.93 240.29,838.24 240.74,837.54 241.18,836.83 241.62,836.11 242.06,835.39 242.51,834.67 242.95,833.93 243.39,833.19 243.83,832.45 244.28,831.69 244.72,830.93 245.16,830.17 245.6,829.4 246.05,828.62 246.49,827.83 246.93,827.04 247.37,826.24 247.82,825.43 248.26,824.62 248.7,823.79 249.14,822.97 249.59,822.13 250.03,821.29 250.47,820.44 250.91,819.58 251.36,818.71 251.8,817.84 252.24,816.96 252.68,816.07 253.12,815.17 253.57,814.27 254.01,813.36 254.45,812.44 254.9,811.51 255.34,810.58 255.78,809.63 256.22,808.68 256.67,807.72 257.11,806.75 257.55,805.77 257.99,804.79 258.44,803.79 258.88,802.79 259.32,801.78 259.76,800.76 260.21,799.73 260.65,798.69 261.09,797.64 261.53,796.58 261.98,795.52 262.42,794.44 262.86,793.36 263.3,792.26 263.75,791.16 264.19,790.04 264.63,788.92 265.07,787.79 265.51,786.65 265.96,785.49 266.4,784.33 266.84,783.16 267.28,781.98 267.73,780.78 268.17,779.58 268.61,778.37 269.06,777.14 269.5,775.91 269.94,774.66 270.38,773.4 270.83,772.14 271.27,770.86 271.71,769.57 272.15,768.27 272.6,766.96 273.04,765.63 273.48,764.3 273.92,762.95 274.37,761.6 274.81,760.23 275.25,758.84 275.69,757.45 276.13,756.05 276.58,754.63 277.02,753.2 277.46,751.76 277.9,750.3 278.35,748.84 278.79,747.36 279.23,745.86 279.68,744.36 280.12,742.84 280.56,741.31 281,739.76 281.44,738.21 281.89,736.64 282.33,735.05 282.77,733.45 283.22,731.84 283.66,730.22 284.1,728.58 284.54,726.92 284.99,725.25 285.43,723.57 285.87,721.88 286.31,720.16 286.75,718.44 287.2,716.7 287.64,714.94 288.08,713.17 288.53,711.39 288.97,709.59 289.41,707.77 289.85,705.94 290.3,704.09 290.74,702.23 291.18,700.35 291.62,698.46 292.07,696.55 292.51,694.62 292.95,692.68 293.39,690.72 293.84,688.74 294.28,686.75 294.72,684.74 295.16,682.71 295.61,680.67 296.05,678.61 296.49,676.53 296.93,674.43 297.38,672.32 297.82,670.19 298.26,668.04 298.7,665.87 299.14,663.69 299.59,661.49 300.03,659.27 300.47,657.03 300.92,654.77 301.36,652.49 301.8,650.19 302.24,647.88 302.69,645.54 303.13,643.19 303.57,640.82 304.01,638.42 304.46,636.01 304.9,633.58 305.34,631.13 305.78,628.66 306.23,626.17 306.67,623.66 307.11,621.12 307.55,618.57 308,616 308.44,613.41 308.88,610.79 309.32,608.16 309.76,605.5 310.21,602.83 310.65,600.13 311.09,597.41 311.54,594.68 311.98,591.92 312.42,589.14 312.86,586.34 313.31,583.52 313.75,580.68 314.19,577.82 314.63,574.94 315.07,572.04 315.52,569.13 315.96,566.2 316.4,563.25 316.85,560.3 317.29,557.34 317.69,554.68 317.73,554.92 318.17,557.86 318.62,560.82 319.06,563.77 319.5,566.72 319.94,569.65 320.39,572.57 320.83,575.46 321.27,578.34 321.71,581.2 322.16,584.04 322.6,586.86 323.04,589.65 323.48,592.43 323.93,595.19 324.37,597.93 324.81,600.64 325.25,603.34 325.7,606.01 326.14,608.67 326.58,611.3 327.02,613.91 327.47,616.5 327.91,619.07 328.35,621.62 328.79,624.15 329.24,626.67 329.68,629.16 330.12,631.62 330.56,634.07 331.01,636.51 331.45,638.92 331.89,641.31 332.33,643.68 332.78,646.03 333.22,648.36 333.66,650.68 334.1,652.97 334.55,655.25 334.99,657.5 335.43,659.74 335.87,661.96 336.32,664.16 336.76,666.35 337.2,668.51 337.64,670.66 338.09,672.79 338.53,674.9 338.97,676.99 339.41,679.07 339.86,681.13 340.3,683.17 340.74,685.19 341.18,687.2 341.63,689.19 342.07,691.17 342.51,693.12 342.95,695.07 343.4,696.99 343.84,698.9 344.28,700.79 344.72,702.67 345.17,704.53 345.61,706.37 346.05,708.2 346.49,710.02 346.94,711.82 347.38,713.6 347.82,715.37 348.26,717.12 348.71,718.86 349.15,720.58 349.59,722.29 350.03,723.99 350.48,725.67 350.92,727.33 351.36,728.99 351.8,730.62 352.25,732.25 352.69,733.86 353.13,735.45 353.57,737.04 354.02,738.61 354.46,740.16 354.9,741.7 355.34,743.23 355.79,744.75 356.23,746.25 356.67,747.74 357.11,749.22 357.56,750.69 358,752.14 358.44,753.58 358.88,755.01 359.33,756.42 359.77,757.83 360.21,759.22 360.65,760.6 361.1,761.96 361.54,763.32 361.98,764.67 362.42,766 362.87,767.32 363.31,768.63 363.75,769.93 364.19,771.22 364.64,772.49 365.08,773.76 365.52,775.01 365.96,776.26 366.41,777.49 366.85,778.71 367.29,779.92 367.73,781.13 368.18,782.32 368.62,783.5 369.06,784.67 369.5,785.83 369.95,786.98 370.39,788.12 370.83,789.25 371.27,790.37 371.72,791.49 372.16,792.59 372.6,793.68 373.04,794.76 373.49,795.84 373.93,796.9 374.37,797.96 374.81,799 375.26,800.04 375.7,801.07 376.14,802.09 376.58,803.1 377.03,804.1 377.47,805.09 377.91,806.08 378.35,807.05 378.8,808.02 379.24,808.98 379.68,809.93 380.12,810.87 380.56,811.8 381.01,812.73 381.45,813.65 381.89,814.56 382.34,815.46 382.78,816.36 383.22,817.24 383.66,818.12 384.11,818.99 384.55,819.86 384.99,820.71 385.43,821.56 385.88,822.4 386.32,823.24 386.76,824.07 387.2,824.88 387.65,825.7 388.09,826.5 388.53,827.3 388.97,828.09 389.42,828.88 389.86,829.66 390.3,830.43 390.74,831.19 391.19,831.95 391.63,832.7 392.07,833.45 392.51,834.18 392.96,834.92 393.4,835.64 393.84,836.36 394.28,837.07 394.73,837.78 395.17,838.48 395.61,839.18 396.05,839.86 396.5,840.55 396.94,841.22 397.38,841.89 397.82,842.56 398.27,843.22 398.71,843.87 399.15,844.52 399.59,845.16 400.04,845.8 400.48,846.43 400.92,847.05 401.36,847.67 401.81,848.29 402.25,848.89 402.69,849.5 403.13,850.1 403.57,850.69 404.02,851.28 404.46,851.86 404.9,852.44 405.35,853.01 405.79,853.58 406.23,854.14 406.67,854.7 407.12,855.25 407.56,855.8 408,856.34 408.44,856.88 408.88,857.42 409.33,857.95 409.77,858.47 410.21,858.99 410.66,859.51 411.1,860.02 411.54,860.52 411.98,861.02 412.43,861.52 412.87,862.02 413.31,862.5 413.75,862.99 414.19,863.47 414.64,863.95 415.08,864.42 415.52,864.89 415.97,865.35 416.41,865.81 416.85,866.27 417.29,866.72 417.74,867.17 418.18,867.61 418.62,868.05 419.06,868.49 419.5,868.92 419.95,869.35 420.39,869.77 420.83,870.19 421.28,870.61 421.72,871.02 422.16,871.43 422.6,871.84 423.05,872.24 423.49,872.64 423.93,873.04 424.37,873.43 424.81,873.82 425.26,874.21 425.7,874.59 426.14,874.97 426.58,875.34 427.03,875.71 427.47,876.08 427.91,876.45 428.36,876.81 428.8,877.17 429.24,877.53 429.68,877.88 430.12,878.23 430.57,878.58 431.01,878.92 431.45,879.26 431.89,879.6 432.34,879.93 432.78,880.27 433.22,880.59 433.67,880.92 434.11,881.24 434.55,881.56 434.99,881.88 435.44,882.2 435.88,882.51 436.32,882.82 436.76,883.13 437.2,883.43 437.65,883.73 438.09,884.03 438.53,884.32 438.98,884.62 439.42,884.91 439.86,885.2 440.3,885.48 440.75,885.77 441.19,886.05 441.63,886.32 442.07,886.6 442.51,886.87 442.96,887.14 443.4,887.41 443.84,887.68 444.29,887.94 444.73,888.2 445.17,888.46 445.61,888.72 446.06,888.98 446.5,889.23 446.94,889.48 447.38,889.73 447.82,889.97 448.27,890.22 448.71,890.46 449.15,890.7 449.59,890.93 450.04,891.17 450.48,891.4 450.92,891.63 451.37,891.86 451.81,892.09 452.25,892.31 452.69,892.54 453.14,892.76 453.58,892.98 454.02,893.19 454.46,893.41 454.91,893.62 455.35,893.83 455.79,894.04 456.23,894.25 456.68,894.46 457.12,894.66 457.56,894.86 458,895.07 458.45,895.26 458.89,895.46 459.33,895.66 459.77,895.85 460.22,896.04 460.66,896.23 461.1,896.42 461.54,896.61 461.99,896.79 462.43,896.98 462.87,897.16 463.31,897.34 463.76,897.52 464.2,897.69 464.64,897.87 465.08,898.04 465.53,898.22 465.97,898.39 466.41,898.56 466.85,898.72 467.3,898.89 467.74,899.06 468.18,899.22 468.62,899.38 469.07,899.54 469.51,899.7 469.95,899.86 470.39,900.02 470.84,900.17 471.28,900.33 471.72,900.48 472.16,900.63 472.61,900.78 473.05,900.93 473.49,901.07 473.93,901.22 474.38,901.36 474.82,901.51 475.26,901.65 475.7,901.79 476.15,901.93 476.59,902.07 477.03,902.2 477.47,902.34 477.92,902.47 478.36,902.61 478.8,902.74 479.24,902.87 479.69,903 480.13,903.13 480.57,903.26 481.01,903.38 481.46,903.51 481.9,903.63 482.34,903.76 482.78,903.88 483.23,904 483.67,904.12 484.11,904.24 484.55,904.36 485,904.47 485.44,904.59 485.88,904.7 486.32,904.82 486.77,904.93 487.21,905.04 487.65,905.15 488.09,905.26 488.54,905.37 488.98,905.48 489.42,905.58 489.86,905.69 490.31,905.8 490.75,905.9 491.19,906 491.63,906.1 492.08,906.21 492.52,906.31 492.96,906.41 493.4,906.5 493.85,906.6 494.29,906.7 494.73,906.8 495.17,906.89 495.62,906.98 496.06,907.08 496.5,907.17 496.94,907.26 497.39,907.35 497.83,907.44 498.27,907.53 498.71,907.62 499.16,907.71 499.6,907.8 500.04,907.88 500.48,907.97 500.93,908.05 501.37,908.14 501.81,908.22 502.25,908.3 502.7,908.38 503.14,908.47 503.58,908.55 504.02,908.63 504.47,908.7 504.91,908.78 505.35,908.86 505.79,908.94 506.24,909.01 506.68,909.09 507.12,909.16 507.56,909.24 508.01,909.31 508.45,909.38 508.89,909.46 509.33,909.53 509.78,909.6 510.22,909.67 510.66,909.74 511.1,909.81 511.55,909.88 511.99,909.94 512.43,910.01 512.87,910.08 513.32,910.14 513.76,910.21 514.2,910.28 514.64,910.34 515.09,910.4 515.53,910.47 515.97,910.53 516.41,910.59 516.86,910.65 517.3,910.71 517.74,910.77 518.18,910.83 518.62,910.89 519.07,910.95 519.51,911.01 519.95,911.07 520.39,911.13 520.84,911.18 521.28,911.24 521.72,911.29 522.16,911.35 522.61,911.4 523.05,911.46 523.49,911.51 523.93,911.57 524.38,911.62 524.82,911.67 525.26,911.72 525.71,911.77 526.15,911.83 526.59,911.88 527.03,911.93 527.48,911.98 527.92,912.02 528.36,912.07 528.8,912.12 529.25,912.17 529.69,912.22 530.13,912.26 530.57,912.31 531.02,912.36 531.46,912.4 531.9,912.45 532.34,912.49 532.79,912.54 533.23,912.58 533.67,912.63 534.11,912.67 534.56,912.71 535,912.76 535.44,912.8 535.88,912.84 536.33,912.88 536.77,912.92 537.21,912.96 537.65,913 538.1,913.04 538.54,913.08 538.98,913.12 539.42,913.16 539.87,913.2 540.31,913.24 540.75,913.28 541.19,913.31 541.63,913.35 542.08,913.39 542.52,913.43 542.96,913.46 543.4,913.5 543.85,913.53 544.29,913.57 544.73,913.6 545.17,913.64 545.62,913.67 546.06,913.71 546.5,913.74 546.94,913.77 547.39,913.81 547.83,913.84 548.27,913.87 548.72,913.91 549.16,913.94 549.6,913.97 550.04,914 550.49,914.03 550.93,914.06 551.37,914.09 551.81,914.12 552.25,914.15 552.7,914.18 553.14,914.21 553.58,914.24 554.03,914.27 554.47,914.3 554.91,914.33 555.35,914.36 555.8,914.39 556.24,914.41 556.68,914.44 557.12,914.47 557.57,914.5 558.01,914.52 558.45,914.55 558.89,914.58 559.34,914.6 559.78,914.63 560.22,914.65 560.66,914.68 561.11,914.7 561.55,914.73 561.99,914.75 562.43,914.78 562.88,914.8 563.32,914.83 563.76,914.85 564.2,914.87 564.64,914.9 565.09,914.92 565.53,914.94 565.97,914.97 566.42,914.99 566.86,915.01 567.3,915.03 567.74,915.06 568.19,915.08 568.63,915.1 569.07,915.12 569.51,915.14 569.96,915.16 570.4,915.18 570.84,915.2 571.28,915.23 571.73,915.25 572.17,915.27 572.61,915.29 573.05,915.31 573.5,915.32 573.94,915.34 574.38,915.36 574.82,915.38 575.26,915.4 575.71,915.42 576.15,915.44 576.59,915.46 577.04,915.48 577.48,915.49 577.92,915.51 578.36,915.53 578.81,915.55 579.25,915.56 579.69,915.58 580.13,915.6 580.58,915.62 581.02,915.63 581.46,915.65 581.9,915.67 582.35,915.68 582.79,915.7 583.23,915.71 583.67,915.73 584.12,915.75 584.56,915.76 585,915.78" fill="none" stroke="#0000ff" stroke-width="3.1" stroke-linejoin="round" stroke-linecap="round"/>
<polyline points="54,917.27 54.89,917.26 55.77,917.25 56.66,917.24 57.55,917.23 58.43,917.21 59.32,917.2 60.21,917.19 61.09,917.17 61.98,917.16 62.86,917.14 63.75,917.13 64.64,917.11 65.52,917.09 66.41,917.07 67.3,917.05 68.18,917.03 69.07,917.01 69.96,916.99 70.84,916.97 71.73,916.95 72.62,916.92 73.5,916.9 74.39,916.87 75.28,916.84 76.16,916.82 77.05,916.79 77.93,916.76 78.82,916.73 79.71,916.69 80.59,916.66 81.48,916.62 82.37,916.59 83.25,916.55 84.14,916.51 85.03,916.47 85.91,916.43 86.8,916.38 87.69,916.34 88.57,916.29 89.46,916.24 90.35,916.19 91.23,916.14 92.12,916.08 93.01,916.03 93.89,915.97 94.78,915.91 95.66,915.84 96.55,915.78 97.44,915.71 98.32,915.64 99.21,915.57 100.1,915.5 100.98,915.42 101.87,915.34 102.76,915.26 103.64,915.17 104.53,915.09 105.42,915 106.3,914.9 107.19,914.8 108.08,914.7 108.96,914.6 109.85,914.49 110.73,914.38 111.62,914.27 112.51,914.15 113.39,914.03 114.28,913.91 115.17,913.78 116.05,913.65 116.94,913.51 117.83,913.37 118.71,913.22 119.6,913.07 120.49,912.92 121.37,912.76 122.26,912.6 123.15,912.43 124.03,912.25 124.92,912.08 125.8,911.89 126.69,911.7 127.58,911.51 128.46,911.31 129.35,911.1 130.24,910.89 131.12,910.67 132.01,910.45 132.9,910.22 133.78,909.98 134.67,909.74 135.56,909.49 136.44,909.23 137.33,908.97 138.22,908.7 139.1,908.42 139.99,908.14 140.87,907.84 141.76,907.54 142.65,907.24 143.53,906.92 144.42,906.6 145.31,906.26 146.19,905.92 147.08,905.58 147.97,905.22 148.85,904.85 149.74,904.48 150.63,904.09 151.51,903.7 152.4,903.3 153.29,902.89 154.17,902.46 155.06,902.03 155.94,901.59 156.83,901.14 157.72,900.68 158.6,900.21 159.49,899.73 160.38,899.23 161.26,898.73 162.15,898.21 163.04,897.69 163.92,897.15 164.81,896.6 165.7,896.04 166.58,895.47 167.47,894.89 168.36,894.29 169.24,893.69 170.13,893.07 171.02,892.43 171.9,891.79 172.79,891.13 173.67,890.47 174.56,889.78 175.45,889.09 176.33,888.38 177.22,887.66 178.11,886.93 178.99,886.18 179.88,885.42 180.77,884.65 181.65,883.86 182.54,883.06 183.43,882.25 184.31,881.42 185.2,880.58 186.09,879.72 186.97,878.85 187.86,877.97 188.74,877.07 189.63,876.16 190.52,875.23 191.4,874.3 192.29,873.34 193.18,872.37 194.06,871.39 194.95,870.4 195.84,869.39 196.72,868.36 197.61,867.33 198.5,866.27 199.38,865.21 200.27,864.13 201.16,863.03 202.04,861.92 202.93,860.8 203.81,859.67 204.7,858.52 205.59,857.36 206.47,856.18 207.36,854.99 208.25,853.79 209.13,852.57 210.02,851.34 210.91,850.1 211.79,848.84 212.68,847.58 213.57,846.3 214.45,845 215.34,843.7 216.23,842.38 217.11,841.05 218,839.71 218.88,838.36 219.77,837 220.66,835.63 221.54,834.25 222.43,832.85 223.32,831.45 224.2,830.03 225.09,828.61 225.98,827.18 226.86,825.74 227.75,824.29 228.64,822.83 229.52,821.36 230.41,819.89 231.3,818.4 232.18,816.91 233.07,815.42 233.95,813.92 234.84,812.41 235.73,810.9 236.61,809.38 237.5,807.85 238.39,806.33 239.27,804.79 240.16,803.26 241.05,801.72 241.93,800.18 242.82,798.64 243.71,797.09 244.59,795.54 245.48,794 246.37,792.45 247.25,790.9 248.14,789.35 249.03,787.81 249.91,786.26 250.8,784.72 251.68,783.18 252.57,781.64 253.46,780.11 254.34,778.58 255.23,777.05 256.12,775.53 257,774.02 257.89,772.51 258.78,771.01 259.66,769.51 260.55,768.03 261.44,766.55 262.32,765.08 263.21,763.62 264.1,762.17 264.98,760.73 265.87,759.3 266.75,757.88 267.64,756.48 268.53,755.08 269.41,753.7 270.3,752.34 271.19,750.99 272.07,749.65 272.96,748.33 273.85,747.02 274.73,745.73 275.62,744.46 276.51,743.2 277.39,741.96 278.28,740.74 279.17,739.54 280.05,738.36 280.94,737.2 281.82,736.06 282.71,734.94 283.6,733.84 284.48,732.76 285.37,731.71 286.26,730.68 287.14,729.67 288.03,728.68 288.92,727.72 289.8,726.78 290.69,725.87 291.58,724.98 292.46,724.12 293.35,723.29 294.24,722.48 295.12,721.7 296.01,720.94 296.89,720.21 297.78,719.51 298.67,718.84 299.55,718.2 300.44,717.58 301.33,717 302.21,716.44 303.1,715.91 303.99,715.41 304.87,714.95 305.76,714.51 306.65,714.1 307.53,713.72 308.42,713.38 309.31,713.06 310.19,712.78 311.08,712.52 311.96,712.3 312.85,712.11 313.74,711.95 314.62,711.82 315.51,711.73 316.4,711.66 317.28,711.63 318.17,711.63 319.06,711.66 319.94,711.72 320.83,711.81 321.72,711.94 322.6,712.09 323.49,712.28 324.38,712.5 325.26,712.75 326.15,713.03 327.04,713.34 327.92,713.69 328.81,714.06 329.69,714.46 330.58,714.9 331.47,715.36 332.35,715.86 333.24,716.38 334.13,716.94 335.01,717.52 335.9,718.13 336.79,718.77 337.67,719.44 338.56,720.14 339.45,720.86 340.33,721.62 341.22,722.39 342.11,723.2 342.99,724.03 343.88,724.89 344.76,725.78 345.65,726.69 346.54,727.62 347.42,728.58 348.31,729.56 349.2,730.57 350.08,731.6 350.97,732.65 351.86,733.73 352.74,734.82 353.63,735.94 354.52,737.08 355.4,738.24 356.29,739.42 357.18,740.62 358.06,741.83 358.95,743.07 359.83,744.32 360.72,745.59 361.61,746.88 362.49,748.19 363.38,749.51 364.27,750.84 365.15,752.19 366.04,753.56 366.93,754.94 367.81,756.33 368.7,757.73 369.59,759.15 370.47,760.58 371.36,762.01 372.25,763.46 373.13,764.92 374.02,766.39 374.9,767.87 375.79,769.36 376.68,770.85 377.56,772.35 378.45,773.86 379.34,775.37 380.22,776.89 381.11,778.42 382,779.95 382.88,781.48 383.77,783.02 384.66,784.56 385.54,786.1 386.43,787.64 387.32,789.19 388.2,790.74 389.09,792.28 389.97,793.83 390.86,795.38 391.75,796.93 392.63,798.47 393.52,800.01 394.41,801.56 395.29,803.09 396.18,804.63 397.07,806.16 397.95,807.69 398.84,809.21 399.73,810.73 400.61,812.25 401.5,813.76 402.39,815.26 403.27,816.76 404.16,818.25 405.05,819.73 405.93,821.2 406.82,822.67 407.7,824.13 408.59,825.58 409.48,827.02 410.36,828.46 411.25,829.88 412.14,831.3 413.02,832.7 413.91,834.1 414.8,835.48 415.68,836.86 416.57,838.22 417.46,839.57 418.34,840.91 419.23,842.24 420.12,843.56 421,844.86 421.89,846.16 422.77,847.44 423.66,848.71 424.55,849.97 425.43,851.21 426.32,852.44 427.21,853.66 428.09,854.86 428.98,856.05 429.87,857.23 430.75,858.39 431.64,859.55 432.53,860.68 433.41,861.81 434.3,862.92 435.19,864.01 436.07,865.09 436.96,866.16 437.84,867.21 438.73,868.25 439.62,869.28 440.5,870.29 441.39,871.29 442.28,872.27 443.16,873.24 444.05,874.19 444.94,875.14 445.82,876.06 446.71,876.98 447.6,877.87 448.48,878.76 449.37,879.63 450.26,880.49 451.14,881.33 452.03,882.16 452.91,882.97 453.8,883.78 454.69,884.56 455.57,885.34 456.46,886.1 457.35,886.85 458.23,887.58 459.12,888.31 460.01,889.01 460.89,889.71 461.78,890.39 462.67,891.06 463.55,891.72 464.44,892.37 465.33,893 466.21,893.62 467.1,894.23 467.98,894.83 468.87,895.41 469.76,895.98 470.64,896.54 471.53,897.09 472.42,897.63 473.3,898.16 474.19,898.67 475.08,899.18 475.96,899.67 476.85,900.16 477.74,900.63 478.62,901.09 479.51,901.54 480.4,901.99 481.28,902.42 482.17,902.84 483.06,903.25 483.94,903.66 484.83,904.05 485.71,904.44 486.6,904.81 487.49,905.18 488.37,905.54 489.26,905.89 490.15,906.23 491.03,906.56 491.92,906.89 492.81,907.2 493.69,907.51 494.58,907.81 495.47,908.1 496.35,908.39 497.24,908.67 498.13,908.94 499.01,909.2 499.9,909.46 500.78,909.71 501.67,909.96 502.56,910.19 503.44,910.42 504.33,910.65 505.22,910.87 506.1,911.08 506.99,911.29 507.88,911.49 508.76,911.68 509.65,911.87 510.54,912.06 511.42,912.24 512.31,912.41 513.2,912.58 514.08,912.74 514.97,912.9 515.85,913.06 516.74,913.21 517.63,913.35 518.51,913.5 519.4,913.63 520.29,913.77 521.17,913.89 522.06,914.02 522.95,914.14 523.83,914.26 524.72,914.37 525.61,914.48 526.49,914.59 527.38,914.69 528.27,914.79 529.15,914.89 530.04,914.99 530.92,915.08 531.81,915.16 532.7,915.25 533.58,915.33 534.47,915.41 535.36,915.49 536.24,915.56 537.13,915.64 538.02,915.71 538.9,915.77 539.79,915.84 540.68,915.9 541.56,915.96 542.45,916.02 543.34,916.08 544.22,916.13 545.11,916.18 545.99,916.24 546.88,916.28 547.77,916.33 548.65,916.38 549.54,916.42 550.43,916.46 551.31,916.51 552.2,916.54 553.09,916.58 553.97,916.62 554.86,916.65 555.75,916.69 556.63,916.72 557.52,916.75 558.41,916.78 559.29,916.81 560.18,916.84 561.07,916.87 561.95,916.89 562.84,916.92 563.72,916.94 564.61,916.97 565.5,916.99 566.38,917.01 567.27,917.03 568.16,917.05 569.04,917.07 569.93,917.09 570.82,917.11 571.7,917.12 572.59,917.14 573.48,917.16 574.36,917.17 575.25,917.18 576.14,917.2 577.02,917.21 577.91,917.22 578.79,917.24 579.68,917.25 580.57,917.26 581.45,917.27 582.34,917.28 583.23,917.29 584.11,917.3 585,917.31" fill="none" stroke="#ff0000" stroke-width="3.3" stroke-dasharray="8 1.8 3.2 1.8"/>
<text transform="translate(54,941.5) scale(1,1.02)" text-anchor="middle" class="tl">-2</text>
<text transform="translate(120.38,941.5) scale(1,1.02)" text-anchor="middle" class="tl">-1.5</text>
<text transform="translate(186.75,941.5) scale(1,1.02)" text-anchor="middle" class="tl">-1</text>
<text transform="translate(253.12,941.5) scale(1,1.02)" text-anchor="middle" class="tl">-0.5</text>
<text transform="translate(319.5,941.5) scale(1,1.02)" text-anchor="middle" class="tl">0</text>
<text transform="translate(385.88,941.5) scale(1,1.02)" text-anchor="middle" class="tl">0.5</text>
<text transform="translate(452.25,941.5) scale(1,1.02)" text-anchor="middle" class="tl">1</text>
<text transform="translate(518.62,941.5) scale(1,1.02)" text-anchor="middle" class="tl">1.5</text>
<text transform="translate(585,941.5) scale(1,1.02)" text-anchor="middle" class="tl">2</text>
<text transform="translate(46.4,924.3) scale(1,1.02)" text-anchor="end" class="tl">0</text>
<text transform="translate(46.4,785.3) scale(1,1.02)" text-anchor="end" class="tl">0.5</text>
<text transform="translate(46.4,646.3) scale(1,1.02)" text-anchor="end" class="tl">1</text>
<text transform="translate(46.4,507.3) scale(1,1.02)" text-anchor="end" class="tl">1.5</text>
<text x="319.5" y="965.4" text-anchor="middle" class="xl">JPY</text>
<text x="121.4" y="539.75" class="an" textLength="394.7" lengthAdjust="spacing">SGED(<tspan font-style="italic">&#956;</tspan> = -0.014, <tspan font-style="italic">&#963;</tspan> = 0.5326, <tspan font-style="italic">k</tspan> = 1.0139, <tspan font-style="italic">&#955;</tspan> = -0.0005)</text>
<rect x="450.5" y="676.7" width="117.8" height="64.5" fill="#fff" stroke="#333" stroke-width="1.2"/>
<line x1="455.8" y1="689.2" x2="492" y2="689.2" stroke="#000" stroke-width="1.3"/>
<text x="496.3" y="694.2" class="lg">Histogram</text>
<line x1="455.8" y1="709.3" x2="492" y2="709.3" stroke="#0000ff" stroke-width="3.1"/>
<text x="496.3" y="714.3" class="lg">SGED</text>
<line x1="455.8" y1="729.2" x2="492" y2="729.2" stroke="#ff0000" stroke-width="3.3" stroke-dasharray="8 1.8 3.2 1.8"/>
<text x="496.3" y="734.2" class="lg">Normal</text>
<clipPath id="c3"><rect x="658" y="498.5" width="530" height="419.0"/></clipPath>
<rect x="658" y="500.5" width="530" height="417" fill="none" stroke="#333" stroke-width="1.2"/>
<path d="M658 917.5v-5.5M658 500.5v5.5M724.25 917.5v-5.5M724.25 500.5v5.5M790.5 917.5v-5.5M790.5 500.5v5.5M856.75 917.5v-5.5M856.75 500.5v5.5M923 917.5v-5.5M923 500.5v5.5M989.25 917.5v-5.5M989.25 500.5v5.5M1055.5 917.5v-5.5M1055.5 500.5v5.5M1121.75 917.5v-5.5M1121.75 500.5v5.5M1188 917.5v-5.5M1188 500.5v5.5M658 917.5h5.5M1188 917.5h-5.5M658 859.98h5.5M1188 859.98h-5.5M658 802.47h5.5M1188 802.47h-5.5M658 744.95h5.5M1188 744.95h-5.5M658 687.43h5.5M1188 687.43h-5.5M658 629.91h5.5M1188 629.91h-5.5M658 572.4h5.5M1188 572.4h-5.5M658 514.88h5.5M1188 514.88h-5.5" stroke="#333" stroke-width="1.1" fill="none"/>
<path clip-path="url(#c3)" d="M694.5 917.5V916.06H710.74V917.5M710.74 917.5V912.61H726.98V917.5M726.98 917.5V913.19H743.22V917.5M743.22 917.5V908.87H759.46V917.5M759.46 917.5V902.26H775.7V917.5M775.7 917.5V895.07H791.94V917.5M791.94 917.5V894.49H808.18V917.5M808.18 917.5V870.34H824.42V917.5M824.42 917.5V854.81H840.66V917.5M840.66 917.5V828.64H856.9V917.5M856.9 917.5V780.9H873.14V917.5M873.14 917.5V717.05H889.38V917.5M889.38 917.5V668.45H905.62V917.5M905.62 917.5V625.02H921.86V917.5M921.86 917.5V609.21H938.1V917.5M938.1 917.5V624.16H954.34V917.5M954.34 917.5V716.19H970.58V917.5M970.58 917.5V794.99H986.82V917.5M986.82 917.5V827.77H1003.06V917.5M1003.06 917.5V859.7H1019.3V917.5M1019.3 917.5V877.53H1035.54V917.5M1035.54 917.5V890.75H1051.78V917.5M1051.78 917.5V897.94H1068.02V917.5M1068.02 917.5V905.71H1084.26V917.5M1084.26 917.5V909.45H1100.5V917.5M1100.5 917.5V910.31H1116.74V917.5" fill="none" stroke="#000" stroke-width="1.6"/>
<polyline points="658,916.94 658.44,916.93 658.88,916.93 659.33,916.92 659.77,916.91 660.21,916.9 660.65,916.9 661.09,916.89 661.53,916.88 661.98,916.87 662.42,916.86 662.86,916.85 663.3,916.85 663.74,916.84 664.18,916.83 664.62,916.82 665.07,916.81 665.51,916.8 665.95,916.79 666.39,916.78 666.83,916.77 667.27,916.76 667.72,916.75 668.16,916.74 668.6,916.73 669.04,916.72 669.48,916.71 669.92,916.7 670.37,916.69 670.81,916.68 671.25,916.67 671.69,916.66 672.13,916.65 672.58,916.64 673.02,916.63 673.46,916.62 673.9,916.6 674.34,916.59 674.78,916.58 675.23,916.57 675.67,916.56 676.11,916.54 676.55,916.53 676.99,916.52 677.43,916.51 677.88,916.49 678.32,916.48 678.76,916.47 679.2,916.45 679.64,916.44 680.08,916.43 680.52,916.41 680.97,916.4 681.41,916.38 681.85,916.37 682.29,916.35 682.73,916.34 683.17,916.32 683.62,916.31 684.06,916.29 684.5,916.28 684.94,916.26 685.38,916.24 685.83,916.23 686.27,916.21 686.71,916.19 687.15,916.18 687.59,916.16 688.03,916.14 688.48,916.13 688.92,916.11 689.36,916.09 689.8,916.07 690.24,916.05 690.68,916.03 691.12,916.02 691.57,916 692.01,915.98 692.45,915.96 692.89,915.94 693.33,915.92 693.77,915.9 694.22,915.88 694.66,915.85 695.1,915.83 695.54,915.81 695.98,915.79 696.42,915.77 696.87,915.75 697.31,915.72 697.75,915.7 698.19,915.68 698.63,915.65 699.08,915.63 699.52,915.61 699.96,915.58 700.4,915.56 700.84,915.53 701.28,915.51 701.73,915.48 702.17,915.46 702.61,915.43 703.05,915.4 703.49,915.38 703.93,915.35 704.38,915.32 704.82,915.29 705.26,915.27 705.7,915.24 706.14,915.21 706.58,915.18 707.02,915.15 707.47,915.12 707.91,915.09 708.35,915.06 708.79,915.03 709.23,915 709.68,914.97 710.12,914.93 710.56,914.9 711,914.87 711.44,914.84 711.88,914.8 712.33,914.77 712.77,914.73 713.21,914.7 713.65,914.66 714.09,914.63 714.53,914.59 714.98,914.55 715.42,914.52 715.86,914.48 716.3,914.44 716.74,914.4 717.18,914.36 717.62,914.32 718.07,914.28 718.51,914.24 718.95,914.2 719.39,914.16 719.83,914.12 720.27,914.08 720.72,914.03 721.16,913.99 721.6,913.95 722.04,913.9 722.48,913.86 722.92,913.81 723.37,913.77 723.81,913.72 724.25,913.67 724.69,913.62 725.13,913.58 725.58,913.53 726.02,913.48 726.46,913.43 726.9,913.38 727.34,913.33 727.78,913.27 728.23,913.22 728.67,913.17 729.11,913.11 729.55,913.06 729.99,913.01 730.43,912.95 730.88,912.89 731.32,912.84 731.76,912.78 732.2,912.72 732.64,912.66 733.08,912.6 733.52,912.54 733.97,912.48 734.41,912.42 734.85,912.36 735.29,912.29 735.73,912.23 736.17,912.16 736.62,912.1 737.06,912.03 737.5,911.96 737.94,911.9 738.38,911.83 738.83,911.76 739.27,911.69 739.71,911.62 740.15,911.54 740.59,911.47 741.03,911.4 741.48,911.32 741.92,911.25 742.36,911.17 742.8,911.09 743.24,911.02 743.68,910.94 744.12,910.86 744.57,910.78 745.01,910.7 745.45,910.61 745.89,910.53 746.33,910.44 746.77,910.36 747.22,910.27 747.66,910.18 748.1,910.1 748.54,910.01 748.98,909.92 749.42,909.82 749.87,909.73 750.31,909.64 750.75,909.54 751.19,909.45 751.63,909.35 752.08,909.25 752.52,909.15 752.96,909.05 753.4,908.95 753.84,908.85 754.28,908.74 754.73,908.64 755.17,908.53 755.61,908.43 756.05,908.32 756.49,908.21 756.93,908.1 757.38,907.98 757.82,907.87 758.26,907.75 758.7,907.64 759.14,907.52 759.58,907.4 760.02,907.28 760.47,907.16 760.91,907.04 761.35,906.91 761.79,906.79 762.23,906.66 762.67,906.53 763.12,906.4 763.56,906.27 764,906.14 764.44,906 764.88,905.87 765.33,905.73 765.77,905.59 766.21,905.45 766.65,905.31 767.09,905.16 767.53,905.02 767.98,904.87 768.42,904.72 768.86,904.57 769.3,904.42 769.74,904.27 770.18,904.11 770.62,903.95 771.07,903.8 771.51,903.63 771.95,903.47 772.39,903.31 772.83,903.14 773.27,902.98 773.72,902.81 774.16,902.63 774.6,902.46 775.04,902.29 775.48,902.11 775.92,901.93 776.37,901.75 776.81,901.57 777.25,901.38 777.69,901.19 778.13,901.01 778.58,900.81 779.02,900.62 779.46,900.43 779.9,900.23 780.34,900.03 780.78,899.83 781.23,899.62 781.67,899.42 782.11,899.21 782.55,899 782.99,898.79 783.43,898.57 783.88,898.36 784.32,898.14 784.76,897.91 785.2,897.69 785.64,897.46 786.08,897.23 786.53,897 786.97,896.77 787.41,896.53 787.85,896.29 788.29,896.05 788.73,895.81 789.18,895.56 789.62,895.31 790.06,895.06 790.5,894.8 790.94,894.55 791.38,894.29 791.83,894.02 792.27,893.76 792.71,893.49 793.15,893.22 793.59,892.95 794.03,892.67 794.48,892.39 794.92,892.11 795.36,891.82 795.8,891.53 796.24,891.24 796.68,890.95 797.12,890.65 797.57,890.35 798.01,890.04 798.45,889.74 798.89,889.43 799.33,889.11 799.77,888.8 800.22,888.48 800.66,888.15 801.1,887.83 801.54,887.5 801.98,887.16 802.42,886.83 802.87,886.49 803.31,886.14 803.75,885.79 804.19,885.44 804.63,885.09 805.08,884.73 805.52,884.37 805.96,884 806.4,883.64 806.84,883.26 807.28,882.89 807.73,882.51 808.17,882.12 808.61,881.73 809.05,881.34 809.49,880.95 809.93,880.55 810.38,880.14 810.82,879.74 811.26,879.32 811.7,878.91 812.14,878.49 812.58,878.06 813.03,877.64 813.47,877.2 813.91,876.77 814.35,876.32 814.79,875.88 815.23,875.43 815.67,874.97 816.12,874.52 816.56,874.05 817,873.58 817.44,873.11 817.88,872.63 818.33,872.15 818.77,871.67 819.21,871.18 819.65,870.68 820.09,870.18 820.53,869.67 820.98,869.16 821.42,868.65 821.86,868.13 822.3,867.6 822.74,867.07 823.18,866.53 823.62,865.99 824.07,865.45 824.51,864.9 824.95,864.34 825.39,863.78 825.83,863.21 826.27,862.64 826.72,862.06 827.16,861.48 827.6,860.89 828.04,860.3 828.48,859.7 828.92,859.09 829.37,858.48 829.81,857.86 830.25,857.24 830.69,856.61 831.13,855.98 831.58,855.34 832.02,854.69 832.46,854.04 832.9,853.38 833.34,852.72 833.78,852.05 834.23,851.37 834.67,850.69 835.11,850 835.55,849.3 835.99,848.6 836.43,847.89 836.88,847.18 837.32,846.46 837.76,845.73 838.2,845 838.64,844.26 839.08,843.51 839.52,842.76 839.97,842 840.41,841.23 840.85,840.45 841.29,839.67 841.73,838.89 842.17,838.09 842.62,837.29 843.06,836.48 843.5,835.66 843.94,834.84 844.38,834.01 844.83,833.17 845.27,832.33 845.71,831.48 846.15,830.62 846.59,829.75 847.03,828.88 847.48,827.99 847.92,827.1 848.36,826.21 848.8,825.3 849.24,824.39 849.68,823.47 850.12,822.54 850.57,821.61 851.01,820.66 851.45,819.71 851.89,818.75 852.33,817.78 852.78,816.81 853.22,815.82 853.66,814.83 854.1,813.83 854.54,812.82 854.98,811.81 855.42,810.78 855.87,809.75 856.31,808.71 856.75,807.66 857.19,806.6 857.63,805.53 858.08,804.46 858.52,803.37 858.96,802.28 859.4,801.18 859.84,800.07 860.28,798.95 860.73,797.82 861.17,796.68 861.61,795.54 862.05,794.38 862.49,793.22 862.93,792.05 863.38,790.87 863.82,789.67 864.26,788.48 864.7,787.27 865.14,786.05 865.58,784.82 866.02,783.58 866.47,782.34 866.91,781.08 867.35,779.82 867.79,778.55 868.23,777.26 868.67,775.97 869.12,774.67 869.56,773.36 870,772.04 870.44,770.71 870.88,769.37 871.33,768.02 871.77,766.66 872.21,765.29 872.65,763.91 873.09,762.52 873.53,761.13 873.98,759.72 874.42,758.3 874.86,756.87 875.3,755.44 875.74,753.99 876.18,752.54 876.62,751.07 877.07,749.6 877.51,748.11 877.95,746.62 878.39,745.11 878.83,743.6 879.28,742.08 879.72,740.54 880.16,739 880.6,737.45 881.04,735.88 881.48,734.31 881.92,732.73 882.37,731.14 882.81,729.54 883.25,727.92 883.69,726.3 884.13,724.67 884.58,723.03 885.02,721.38 885.46,719.73 885.9,718.06 886.34,716.38 886.78,714.69 887.23,713 887.67,711.29 888.11,709.58 888.55,707.85 888.99,706.12 889.43,704.38 889.88,702.63 890.32,700.87 890.76,699.1 891.2,697.32 891.64,695.54 892.08,693.74 892.52,691.94 892.97,690.13 893.41,688.31 893.85,686.48 894.29,684.64 894.73,682.8 895.17,680.95 895.62,679.09 896.06,677.22 896.5,675.35 896.94,673.46 897.38,671.58 897.83,669.68 898.27,667.78 898.71,665.87 899.15,663.95 899.59,662.03 900.03,660.1 900.48,658.17 900.92,656.23 901.36,654.28 901.8,652.33 902.24,650.38 902.68,648.42 903.12,646.45 903.57,644.48 904.01,642.51 904.45,640.54 904.89,638.56 905.33,636.58 905.77,634.59 906.22,632.61 906.66,630.62 907.1,628.63 907.54,626.64 907.98,624.65 908.42,622.66 908.87,620.67 909.31,618.68 909.75,616.69 910.19,614.7 910.63,612.72 911.08,610.74 911.52,608.77 911.96,606.8 912.4,604.84 912.84,602.88 913.28,600.93 913.73,598.99 914.17,597.06 914.61,595.14 915.05,593.23 915.49,591.33 915.93,589.45 916.38,587.59 916.82,585.74 917.26,583.91 917.7,582.11 918.14,580.33 918.58,578.58 919.03,576.86 919.47,575.17 919.91,573.53 920.35,571.93 920.79,570.38 921.23,568.9 921.67,567.49 922.12,566.18 922.56,565 923,564.08 923.06,564.01 923.44,564.75 923.88,565.91 924.33,567.23 924.77,568.66 925.21,570.18 925.65,571.76 926.09,573.39 926.53,575.08 926.98,576.81 927.42,578.57 927.86,580.37 928.3,582.19 928.74,584.05 929.18,585.92 929.62,587.82 930.07,589.74 930.51,591.67 930.95,593.62 931.39,595.58 931.83,597.55 932.28,599.54 932.72,601.53 933.16,603.53 933.6,605.54 934.04,607.56 934.48,609.58 934.93,611.61 935.37,613.64 935.81,615.68 936.25,617.72 936.69,619.76 937.13,621.8 937.58,623.84 938.02,625.89 938.46,627.93 938.9,629.97 939.34,632.01 939.78,634.05 940.23,636.09 940.67,638.12 941.11,640.15 941.55,642.18 941.99,644.2 942.43,646.22 942.88,648.24 943.32,650.25 943.76,652.26 944.2,654.26 944.64,656.26 945.08,658.25 945.52,660.23 945.97,662.21 946.41,664.18 946.85,666.15 947.29,668.1 947.73,670.05 948.17,672 948.62,673.94 949.06,675.86 949.5,677.79 949.94,679.7 950.38,681.6 950.83,683.5 951.27,685.39 951.71,687.27 952.15,689.14 952.59,691.01 953.03,692.86 953.48,694.71 953.92,696.54 954.36,698.37 954.8,700.19 955.24,702 955.68,703.8 956.12,705.59 956.57,707.37 957.01,709.14 957.45,710.9 957.89,712.65 958.33,714.4 958.77,716.13 959.22,717.85 959.66,719.57 960.1,721.27 960.54,722.96 960.98,724.64 961.42,726.32 961.87,727.98 962.31,729.63 962.75,731.27 963.19,732.91 963.63,734.53 964.08,736.14 964.52,737.74 964.96,739.33 965.4,740.91 965.84,742.49 966.28,744.05 966.73,745.6 967.17,747.14 967.61,748.67 968.05,750.19 968.49,751.7 968.93,753.2 969.38,754.69 969.82,756.16 970.26,757.63 970.7,759.09 971.14,760.54 971.58,761.98 972.03,763.41 972.47,764.82 972.91,766.23 973.35,767.63 973.79,769.02 974.23,770.39 974.67,771.76 975.12,773.12 975.56,774.46 976,775.8 976.44,777.13 976.88,778.45 977.33,779.75 977.77,781.05 978.21,782.34 978.65,783.62 979.09,784.89 979.53,786.15 979.98,787.39 980.42,788.63 980.86,789.86 981.3,791.08 981.74,792.29 982.18,793.49 982.62,794.69 983.07,795.87 983.51,797.04 983.95,798.21 984.39,799.36 984.83,800.5 985.28,801.64 985.72,802.77 986.16,803.88 986.6,804.99 987.04,806.09 987.48,807.18 987.92,808.26 988.37,809.34 988.81,810.4 989.25,811.45 989.69,812.5 990.13,813.54 990.58,814.57 991.02,815.59 991.46,816.6 991.9,817.6 992.34,818.59 992.78,819.58 993.23,820.56 993.67,821.53 994.11,822.49 994.55,823.44 994.99,824.38 995.43,825.32 995.88,826.25 996.32,827.17 996.76,828.08 997.2,828.99 997.64,829.88 998.08,830.77 998.53,831.65 998.97,832.52 999.41,833.39 999.85,834.25 1000.29,835.1 1000.73,835.94 1001.18,836.77 1001.62,837.6 1002.06,838.42 1002.5,839.23 1002.94,840.04 1003.38,840.84 1003.83,841.63 1004.27,842.41 1004.71,843.19 1005.15,843.96 1005.59,844.72 1006.03,845.47 1006.48,846.22 1006.92,846.96 1007.36,847.7 1007.8,848.43 1008.24,849.15 1008.68,849.86 1009.12,850.57 1009.57,851.27 1010.01,851.97 1010.45,852.66 1010.89,853.34 1011.33,854.01 1011.78,854.68 1012.22,855.35 1012.66,856 1013.1,856.65 1013.54,857.3 1013.98,857.94 1014.43,858.57 1014.87,859.19 1015.31,859.81 1015.75,860.43 1016.19,861.04 1016.63,861.64 1017.08,862.24 1017.52,862.83 1017.96,863.41 1018.4,863.99 1018.84,864.57 1019.28,865.14 1019.73,865.7 1020.17,866.26 1020.61,866.81 1021.05,867.36 1021.49,867.9 1021.93,868.43 1022.38,868.96 1022.82,869.49 1023.26,870.01 1023.7,870.53 1024.14,871.04 1024.58,871.54 1025.03,872.04 1025.47,872.54 1025.91,873.03 1026.35,873.51 1026.79,873.99 1027.23,874.47 1027.67,874.94 1028.12,875.41 1028.56,875.87 1029,876.33 1029.44,876.78 1029.88,877.23 1030.33,877.67 1030.77,878.11 1031.21,878.55 1031.65,878.98 1032.09,879.4 1032.53,879.82 1032.97,880.24 1033.42,880.65 1033.86,881.06 1034.3,881.47 1034.74,881.87 1035.18,882.27 1035.62,882.66 1036.07,883.05 1036.51,883.43 1036.95,883.81 1037.39,884.19 1037.83,884.56 1038.28,884.93 1038.72,885.3 1039.16,885.66 1039.6,886.01 1040.04,886.37 1040.48,886.72 1040.92,887.07 1041.37,887.41 1041.81,887.75 1042.25,888.08 1042.69,888.42 1043.13,888.75 1043.58,889.07 1044.02,889.39 1044.46,889.71 1044.9,890.03 1045.34,890.34 1045.78,890.65 1046.22,890.95 1046.67,891.26 1047.11,891.55 1047.55,891.85 1047.99,892.14 1048.43,892.43 1048.88,892.72 1049.32,893 1049.76,893.28 1050.2,893.56 1050.64,893.84 1051.08,894.11 1051.53,894.38 1051.97,894.64 1052.41,894.9 1052.85,895.16 1053.29,895.42 1053.73,895.68 1054.17,895.93 1054.62,896.18 1055.06,896.42 1055.5,896.67 1055.94,896.91 1056.38,897.15 1056.83,897.38 1057.27,897.62 1057.71,897.85 1058.15,898.08 1058.59,898.3 1059.03,898.53 1059.47,898.75 1059.92,898.97 1060.36,899.18 1060.8,899.4 1061.24,899.61 1061.68,899.82 1062.12,900.02 1062.57,900.23 1063.01,900.43 1063.45,900.63 1063.89,900.83 1064.33,901.02 1064.78,901.22 1065.22,901.41 1065.66,901.6 1066.1,901.79 1066.54,901.97 1066.98,902.15 1067.43,902.34 1067.87,902.51 1068.31,902.69 1068.75,902.87 1069.19,903.04 1069.63,903.21 1070.08,903.38 1070.52,903.55 1070.96,903.71 1071.4,903.88 1071.84,904.04 1072.28,904.2 1072.72,904.36 1073.17,904.51 1073.61,904.67 1074.05,904.82 1074.49,904.97 1074.93,905.12 1075.38,905.27 1075.82,905.42 1076.26,905.56 1076.7,905.7 1077.14,905.85 1077.58,905.99 1078.03,906.12 1078.47,906.26 1078.91,906.4 1079.35,906.53 1079.79,906.66 1080.23,906.79 1080.68,906.92 1081.12,907.05 1081.56,907.17 1082,907.3 1082.44,907.42 1082.88,907.54 1083.33,907.66 1083.77,907.78 1084.21,907.9 1084.65,908.02 1085.09,908.13 1085.53,908.25 1085.98,908.36 1086.42,908.47 1086.86,908.58 1087.3,908.69 1087.74,908.79 1088.18,908.9 1088.62,909.01 1089.07,909.11 1089.51,909.21 1089.95,909.31 1090.39,909.41 1090.83,909.51 1091.28,909.61 1091.72,909.71 1092.16,909.8 1092.6,909.9 1093.04,909.99 1093.48,910.08 1093.92,910.17 1094.37,910.26 1094.81,910.35 1095.25,910.44 1095.69,910.53 1096.13,910.61 1096.58,910.7 1097.02,910.78 1097.46,910.86 1097.9,910.94 1098.34,911.03 1098.78,911.11 1099.22,911.18 1099.67,911.26 1100.11,911.34 1100.55,911.42 1100.99,911.49 1101.43,911.57 1101.88,911.64 1102.32,911.71 1102.76,911.78 1103.2,911.86 1103.64,911.93 1104.08,911.99 1104.53,912.06 1104.97,912.13 1105.41,912.2 1105.85,912.26 1106.29,912.33 1106.73,912.39 1107.17,912.46 1107.62,912.52 1108.06,912.58 1108.5,912.64 1108.94,912.71 1109.38,912.77 1109.83,912.82 1110.27,912.88 1110.71,912.94 1111.15,913 1111.59,913.05 1112.03,913.11 1112.47,913.17 1112.92,913.22 1113.36,913.27 1113.8,913.33 1114.24,913.38 1114.68,913.43 1115.12,913.48 1115.57,913.53 1116.01,913.58 1116.45,913.63 1116.89,913.68 1117.33,913.73 1117.78,913.78 1118.22,913.83 1118.66,913.87 1119.1,913.92 1119.54,913.96 1119.98,914.01 1120.42,914.05 1120.87,914.1 1121.31,914.14 1121.75,914.18 1122.19,914.22 1122.63,914.27 1123.08,914.31 1123.52,914.35 1123.96,914.39 1124.4,914.43 1124.84,914.47 1125.28,914.51 1125.72,914.54 1126.17,914.58 1126.61,914.62 1127.05,914.66 1127.49,914.69 1127.93,914.73 1128.38,914.76 1128.82,914.8 1129.26,914.83 1129.7,914.87 1130.14,914.9 1130.58,914.93 1131.03,914.97 1131.47,915 1131.91,915.03 1132.35,915.06 1132.79,915.1 1133.23,915.13 1133.68,915.16 1134.12,915.19 1134.56,915.22 1135,915.25 1135.44,915.28 1135.88,915.3 1136.33,915.33 1136.77,915.36 1137.21,915.39 1137.65,915.42 1138.09,915.44 1138.53,915.47 1138.97,915.5 1139.42,915.52 1139.86,915.55 1140.3,915.57 1140.74,915.6 1141.18,915.62 1141.62,915.65 1142.07,915.67 1142.51,915.69 1142.95,915.72 1143.39,915.74 1143.83,915.76 1144.28,915.79 1144.72,915.81 1145.16,915.83 1145.6,915.85 1146.04,915.87 1146.48,915.9 1146.93,915.92 1147.37,915.94 1147.81,915.96 1148.25,915.98 1148.69,916 1149.13,916.02 1149.58,916.04 1150.02,916.06 1150.46,916.07 1150.9,916.09 1151.34,916.11 1151.78,916.13 1152.23,916.15 1152.67,916.17 1153.11,916.18 1153.55,916.2 1153.99,916.22 1154.43,916.23 1154.88,916.25 1155.32,916.27 1155.76,916.28 1156.2,916.3 1156.64,916.32 1157.08,916.33 1157.53,916.35 1157.97,916.36 1158.41,916.38 1158.85,916.39 1159.29,916.41 1159.73,916.42 1160.17,916.44 1160.62,916.45 1161.06,916.46 1161.5,916.48 1161.94,916.49 1162.38,916.5 1162.83,916.52 1163.27,916.53 1163.71,916.54 1164.15,916.56 1164.59,916.57 1165.03,916.58 1165.47,916.59 1165.92,916.61 1166.36,916.62 1166.8,916.63 1167.24,916.64 1167.68,916.65 1168.12,916.66 1168.57,916.67 1169.01,916.69 1169.45,916.7 1169.89,916.71 1170.33,916.72 1170.78,916.73 1171.22,916.74 1171.66,916.75 1172.1,916.76 1172.54,916.77 1172.98,916.78 1173.43,916.79 1173.87,916.8 1174.31,916.81 1174.75,916.82 1175.19,916.83 1175.63,916.83 1176.08,916.84 1176.52,916.85 1176.96,916.86 1177.4,916.87 1177.84,916.88 1178.28,916.89 1178.72,916.9 1179.17,916.9 1179.61,916.91 1180.05,916.92 1180.49,916.93 1180.93,916.93 1181.38,916.94 1181.82,916.95 1182.26,916.96 1182.7,916.96 1183.14,916.97 1183.58,916.98 1184.03,916.99 1184.47,916.99 1184.91,917 1185.35,917.01 1185.79,917.01 1186.23,917.02 1186.68,917.03 1187.12,917.03 1187.56,917.04 1188,917.05" fill="none" stroke="#0000ff" stroke-width="3.1" stroke-linejoin="round" stroke-linecap="round"/>
<polyline points="658,917.48 658.88,917.48 659.77,917.48 660.65,917.48 661.54,917.47 662.42,917.47 663.31,917.47 664.19,917.47 665.08,917.47 665.96,917.47 666.85,917.46 667.73,917.46 668.62,917.46 669.5,917.46 670.39,917.45 671.27,917.45 672.16,917.45 673.04,917.44 673.93,917.44 674.81,917.44 675.7,917.43 676.58,917.43 677.47,917.42 678.35,917.42 679.24,917.41 680.12,917.41 681.01,917.4 681.89,917.4 682.77,917.39 683.66,917.39 684.54,917.38 685.43,917.37 686.31,917.36 687.2,917.36 688.08,917.35 688.97,917.34 689.85,917.33 690.74,917.32 691.62,917.31 692.51,917.3 693.39,917.29 694.28,917.28 695.16,917.26 696.05,917.25 696.93,917.24 697.82,917.22 698.7,917.21 699.59,917.19 700.47,917.17 701.36,917.16 702.24,917.14 703.13,917.12 704.01,917.1 704.89,917.08 705.78,917.05 706.66,917.03 707.55,917.01 708.43,916.98 709.32,916.95 710.2,916.92 711.09,916.89 711.97,916.86 712.86,916.83 713.74,916.79 714.63,916.76 715.51,916.72 716.4,916.68 717.28,916.64 718.17,916.6 719.05,916.55 719.94,916.5 720.82,916.46 721.71,916.4 722.59,916.35 723.48,916.29 724.36,916.23 725.25,916.17 726.13,916.11 727.02,916.04 727.9,915.97 728.78,915.9 729.67,915.82 730.55,915.75 731.44,915.66 732.32,915.58 733.21,915.49 734.09,915.4 734.98,915.3 735.86,915.2 736.75,915.09 737.63,914.98 738.52,914.87 739.4,914.75 740.29,914.63 741.17,914.5 742.06,914.37 742.94,914.23 743.83,914.09 744.71,913.94 745.6,913.78 746.48,913.62 747.37,913.46 748.25,913.29 749.14,913.11 750.02,912.92 750.9,912.73 751.79,912.53 752.67,912.32 753.56,912.11 754.44,911.89 755.33,911.66 756.21,911.42 757.1,911.17 757.98,910.92 758.87,910.66 759.75,910.38 760.64,910.1 761.52,909.81 762.41,909.51 763.29,909.2 764.18,908.88 765.06,908.55 765.95,908.2 766.83,907.85 767.72,907.49 768.6,907.11 769.49,906.72 770.37,906.32 771.26,905.91 772.14,905.48 773.03,905.04 773.91,904.59 774.79,904.13 775.68,903.65 776.56,903.15 777.45,902.65 778.33,902.12 779.22,901.59 780.1,901.03 780.99,900.47 781.87,899.88 782.76,899.28 783.64,898.66 784.53,898.03 785.41,897.38 786.3,896.71 787.18,896.03 788.07,895.33 788.95,894.6 789.84,893.86 790.72,893.11 791.61,892.33 792.49,891.53 793.38,890.72 794.26,889.88 795.15,889.02 796.03,888.15 796.91,887.25 797.8,886.33 798.68,885.39 799.57,884.43 800.45,883.45 801.34,882.45 802.22,881.43 803.11,880.38 803.99,879.31 804.88,878.22 805.76,877.1 806.65,875.97 807.53,874.81 808.42,873.62 809.3,872.42 810.19,871.19 811.07,869.94 811.96,868.66 812.84,867.36 813.73,866.04 814.61,864.69 815.5,863.32 816.38,861.92 817.27,860.51 818.15,859.06 819.04,857.6 819.92,856.11 820.8,854.59 821.69,853.06 822.57,851.5 823.46,849.91 824.34,848.31 825.23,846.68 826.11,845.02 827,843.35 827.88,841.65 828.77,839.93 829.65,838.18 830.54,836.42 831.42,834.63 832.31,832.82 833.19,830.99 834.08,829.14 834.96,827.27 835.85,825.38 836.73,823.47 837.62,821.54 838.5,819.59 839.39,817.63 840.27,815.64 841.16,813.64 842.04,811.62 842.92,809.59 843.81,807.54 844.69,805.47 845.58,803.39 846.46,801.3 847.35,799.19 848.23,797.07 849.12,794.94 850,792.79 850.89,790.64 851.77,788.48 852.66,786.31 853.54,784.13 854.43,781.94 855.31,779.74 856.2,777.54 857.08,775.34 857.97,773.13 858.85,770.92 859.74,768.7 860.62,766.49 861.51,764.27 862.39,762.05 863.28,759.84 864.16,757.63 865.05,755.42 865.93,753.22 866.81,751.02 867.7,748.83 868.58,746.64 869.47,744.47 870.35,742.3 871.24,740.14 872.12,738 873.01,735.87 873.89,733.75 874.78,731.65 875.66,729.56 876.55,727.49 877.43,725.44 878.32,723.41 879.2,721.39 880.09,719.4 880.97,717.43 881.86,715.49 882.74,713.57 883.63,711.67 884.51,709.8 885.4,707.96 886.28,706.15 887.17,704.37 888.05,702.61 888.93,700.89 889.82,699.2 890.7,697.55 891.59,695.93 892.47,694.34 893.36,692.8 894.24,691.29 895.13,689.81 896.01,688.38 896.9,686.99 897.78,685.64 898.67,684.33 899.55,683.06 900.44,681.83 901.32,680.65 902.21,679.51 903.09,678.42 903.98,677.38 904.86,676.38 905.75,675.43 906.63,674.53 907.52,673.67 908.4,672.87 909.29,672.11 910.17,671.41 911.06,670.75 911.94,670.15 912.82,669.59 913.71,669.09 914.59,668.64 915.48,668.25 916.36,667.9 917.25,667.61 918.13,667.37 919.02,667.18 919.9,667.05 920.79,666.97 921.67,666.94 922.56,666.97 923.44,667.05 924.33,667.18 925.21,667.37 926.1,667.61 926.98,667.9 927.87,668.24 928.75,668.64 929.64,669.09 930.52,669.59 931.41,670.14 932.29,670.75 933.18,671.4 934.06,672.11 934.94,672.86 935.83,673.67 936.71,674.52 937.6,675.43 938.48,676.38 939.37,677.37 940.25,678.42 941.14,679.51 942.02,680.65 942.91,681.83 943.79,683.05 944.68,684.32 945.56,685.63 946.45,686.98 947.33,688.37 948.22,689.81 949.1,691.28 949.99,692.79 950.87,694.34 951.76,695.92 952.64,697.54 953.53,699.2 954.41,700.88 955.3,702.6 956.18,704.36 957.07,706.14 957.95,707.95 958.83,709.79 959.72,711.66 960.6,713.56 961.49,715.48 962.37,717.42 963.26,719.39 964.14,721.38 965.03,723.4 965.91,725.43 966.8,727.48 967.68,729.55 968.57,731.64 969.45,733.74 970.34,735.86 971.22,737.99 972.11,740.13 972.99,742.29 973.88,744.45 974.76,746.63 975.65,748.82 976.53,751.01 977.42,753.21 978.3,755.41 979.19,757.62 980.07,759.83 980.95,762.04 981.84,764.26 982.72,766.48 983.61,768.69 984.49,770.91 985.38,773.12 986.26,775.33 987.15,777.53 988.03,779.73 988.92,781.93 989.8,784.11 990.69,786.3 991.57,788.47 992.46,790.63 993.34,792.78 994.23,794.93 995.11,797.06 996,799.18 996.88,801.29 997.77,803.38 998.65,805.46 999.54,807.53 1000.42,809.58 1001.31,811.61 1002.19,813.63 1003.08,815.63 1003.96,817.62 1004.84,819.58 1005.73,821.53 1006.61,823.46 1007.5,825.37 1008.38,827.26 1009.27,829.13 1010.15,830.98 1011.04,832.81 1011.92,834.62 1012.81,836.41 1013.69,838.17 1014.58,839.92 1015.46,841.64 1016.35,843.34 1017.23,845.01 1018.12,846.67 1019,848.3 1019.89,849.9 1020.77,851.49 1021.66,853.05 1022.54,854.59 1023.43,856.1 1024.31,857.59 1025.2,859.06 1026.08,860.5 1026.96,861.92 1027.85,863.31 1028.73,864.68 1029.62,866.03 1030.5,867.35 1031.39,868.65 1032.27,869.93 1033.16,871.18 1034.04,872.41 1034.93,873.62 1035.81,874.8 1036.7,875.96 1037.58,877.1 1038.47,878.21 1039.35,879.3 1040.24,880.37 1041.12,881.42 1042.01,882.45 1042.89,883.45 1043.78,884.43 1044.66,885.39 1045.55,886.33 1046.43,887.25 1047.32,888.14 1048.2,889.02 1049.09,889.88 1049.97,890.71 1050.85,891.53 1051.74,892.32 1052.62,893.1 1053.51,893.86 1054.39,894.6 1055.28,895.32 1056.16,896.02 1057.05,896.71 1057.93,897.38 1058.82,898.03 1059.7,898.66 1060.59,899.28 1061.47,899.88 1062.36,900.46 1063.24,901.03 1064.13,901.58 1065.01,902.12 1065.9,902.64 1066.78,903.15 1067.67,903.64 1068.55,904.12 1069.44,904.59 1070.32,905.04 1071.21,905.48 1072.09,905.91 1072.97,906.32 1073.86,906.72 1074.74,907.11 1075.63,907.48 1076.51,907.85 1077.4,908.2 1078.28,908.54 1079.17,908.88 1080.05,909.2 1080.94,909.51 1081.82,909.81 1082.71,910.1 1083.59,910.38 1084.48,910.65 1085.36,910.92 1086.25,911.17 1087.13,911.42 1088.02,911.66 1088.9,911.89 1089.79,912.11 1090.67,912.32 1091.56,912.53 1092.44,912.73 1093.33,912.92 1094.21,913.11 1095.1,913.28 1095.98,913.46 1096.86,913.62 1097.75,913.78 1098.63,913.94 1099.52,914.09 1100.4,914.23 1101.29,914.37 1102.17,914.5 1103.06,914.63 1103.94,914.75 1104.83,914.87 1105.71,914.98 1106.6,915.09 1107.48,915.2 1108.37,915.3 1109.25,915.39 1110.14,915.49 1111.02,915.58 1111.91,915.66 1112.79,915.75 1113.68,915.82 1114.56,915.9 1115.45,915.97 1116.33,916.04 1117.22,916.11 1118.1,916.17 1118.98,916.23 1119.87,916.29 1120.75,916.35 1121.64,916.4 1122.52,916.45 1123.41,916.5 1124.29,916.55 1125.18,916.6 1126.06,916.64 1126.95,916.68 1127.83,916.72 1128.72,916.76 1129.6,916.79 1130.49,916.83 1131.37,916.86 1132.26,916.89 1133.14,916.92 1134.03,916.95 1134.91,916.98 1135.8,917.01 1136.68,917.03 1137.57,917.05 1138.45,917.08 1139.34,917.1 1140.22,917.12 1141.11,917.14 1141.99,917.16 1142.87,917.17 1143.76,917.19 1144.64,917.21 1145.53,917.22 1146.41,917.24 1147.3,917.25 1148.18,917.26 1149.07,917.28 1149.95,917.29 1150.84,917.3 1151.72,917.31 1152.61,917.32 1153.49,917.33 1154.38,917.34 1155.26,917.35 1156.15,917.36 1157.03,917.36 1157.92,917.37 1158.8,917.38 1159.69,917.39 1160.57,917.39 1161.46,917.4 1162.34,917.4 1163.23,917.41 1164.11,917.41 1164.99,917.42 1165.88,917.42 1166.76,917.43 1167.65,917.43 1168.53,917.44 1169.42,917.44 1170.3,917.44 1171.19,917.45 1172.07,917.45 1172.96,917.45 1173.84,917.46 1174.73,917.46 1175.61,917.46 1176.5,917.46 1177.38,917.47 1178.27,917.47 1179.15,917.47 1180.04,917.47 1180.92,917.47 1181.81,917.47 1182.69,917.48 1183.58,917.48 1184.46,917.48 1185.35,917.48 1186.23,917.48 1187.12,917.48 1188,917.48" fill="none" stroke="#ff0000" stroke-width="3.3" stroke-dasharray="8 1.8 3.2 1.8"/>
<text transform="translate(658,941.5) scale(1,1.02)" text-anchor="middle" class="tl">-2</text>
<text transform="translate(724.25,941.5) scale(1,1.02)" text-anchor="middle" class="tl">-1.5</text>
<text transform="translate(790.5,941.5) scale(1,1.02)" text-anchor="middle" class="tl">-1</text>
<text transform="translate(856.75,941.5) scale(1,1.02)" text-anchor="middle" class="tl">-0.5</text>
<text transform="translate(923,941.5) scale(1,1.02)" text-anchor="middle" class="tl">0</text>
<text transform="translate(989.25,941.5) scale(1,1.02)" text-anchor="middle" class="tl">0.5</text>
<text transform="translate(1055.5,941.5) scale(1,1.02)" text-anchor="middle" class="tl">1</text>
<text transform="translate(1121.75,941.5) scale(1,1.02)" text-anchor="middle" class="tl">1.5</text>
<text transform="translate(1188,941.5) scale(1,1.02)" text-anchor="middle" class="tl">2</text>
<text transform="translate(650.4,924.3) scale(1,1.02)" text-anchor="end" class="tl">0</text>
<text transform="translate(650.4,866.78) scale(1,1.02)" text-anchor="end" class="tl">0.2</text>
<text transform="translate(650.4,809.27) scale(1,1.02)" text-anchor="end" class="tl">0.4</text>
<text transform="translate(650.4,751.75) scale(1,1.02)" text-anchor="end" class="tl">0.6</text>
<text transform="translate(650.4,694.23) scale(1,1.02)" text-anchor="end" class="tl">0.8</text>
<text transform="translate(650.4,636.71) scale(1,1.02)" text-anchor="end" class="tl">1</text>
<text transform="translate(650.4,579.2) scale(1,1.02)" text-anchor="end" class="tl">1.2</text>
<text transform="translate(650.4,521.68) scale(1,1.02)" text-anchor="end" class="tl">1.4</text>
<text x="923" y="965.4" text-anchor="middle" class="xl">CAN</text>
<text x="725.1" y="546.6" class="an" textLength="403.3" lengthAdjust="spacing">SGED(<tspan font-style="italic">&#956;</tspan> = -0.0083, <tspan font-style="italic">&#963;</tspan> = 0.4571, <tspan font-style="italic">k</tspan> = 1.2329, <tspan font-style="italic">&#955;</tspan> = -0.0129)</text>
<rect x="1054.2" y="676.7" width="117.8" height="64.5" fill="#fff" stroke="#333" stroke-width="1.2"/>
<line x1="1059.5" y1="689.2" x2="1095.7" y2="689.2" stroke="#000" stroke-width="1.3"/>
<text x="1100" y="694.2" class="lg">Histogram</text>
<line x1="1059.5" y1="709.3" x2="1095.7" y2="709.3" stroke="#0000ff" stroke-width="3.1"/>
<text x="1100" y="714.3" class="lg">SGED</text>
<line x1="1059.5" y1="729.2" x2="1095.7" y2="729.2" stroke="#ff0000" stroke-width="3.3" stroke-dasharray="8 1.8 3.2 1.8"/>
<text x="1100" y="734.2" class="lg">Normal</text>
<clipPath id="c4"><rect x="54.4" y="992" width="532.4" height="420.79999999999995"/></clipPath>
<rect x="54.4" y="994" width="532.4" height="418.8" fill="none" stroke="#333" stroke-width="1.2"/>
<path d="M54.4 1412.8v-5.5M54.4 994v5.5M120.95 1412.8v-5.5M120.95 994v5.5M187.5 1412.8v-5.5M187.5 994v5.5M254.05 1412.8v-5.5M254.05 994v5.5M320.6 1412.8v-5.5M320.6 994v5.5M387.15 1412.8v-5.5M387.15 994v5.5M453.7 1412.8v-5.5M453.7 994v5.5M520.25 1412.8v-5.5M520.25 994v5.5M586.8 1412.8v-5.5M586.8 994v5.5M54.4 1412.8h5.5M586.8 1412.8h-5.5M54.4 1355.03h5.5M586.8 1355.03h-5.5M54.4 1297.27h5.5M586.8 1297.27h-5.5M54.4 1239.5h5.5M586.8 1239.5h-5.5M54.4 1181.74h5.5M586.8 1181.74h-5.5M54.4 1123.97h5.5M586.8 1123.97h-5.5M54.4 1066.21h5.5M586.8 1066.21h-5.5M54.4 1008.44h5.5M586.8 1008.44h-5.5" stroke="#333" stroke-width="1.1" fill="none"/>
<path clip-path="url(#c4)" d="M81.42 1412.8V1411.93H101.3V1412.8M101.3 1412.8V1411.07H121.18V1412.8M121.18 1412.8V1408.47H141.06V1412.8M141.06 1412.8V1397.78H160.94V1412.8M160.94 1412.8V1389.69H180.82V1412.8M180.82 1412.8V1377.56H200.7V1412.8M200.7 1412.8V1354.75H220.58V1412.8M220.58 1412.8V1346.66H240.46V1412.8M240.46 1412.8V1301.6H260.34V1412.8M260.34 1412.8V1256.83H280.22V1412.8M280.22 1412.8V1210.04H300.1V1412.8M300.1 1412.8V1162.1H319.98V1412.8M319.98 1412.8V1124.84H339.86V1412.8M339.86 1412.8V1207.15H359.74V1412.8M359.74 1412.8V1227.95H379.62V1412.8M379.62 1412.8V1304.78H399.5V1412.8M399.5 1412.8V1330.77H419.38V1412.8M419.38 1412.8V1363.99H439.26V1412.8M439.26 1412.8V1387.38H459.14V1412.8M459.14 1412.8V1395.47H479.02V1412.8M479.02 1412.8V1401.82H498.9V1412.8M498.9 1412.8V1403.27H518.78V1412.8M518.78 1412.8V1407.02H538.66V1412.8" fill="none" stroke="#000" stroke-width="1.6"/>
<polyline points="54.4,1410.91 54.84,1410.89 55.29,1410.87 55.73,1410.85 56.17,1410.83 56.62,1410.81 57.06,1410.8 57.51,1410.78 57.95,1410.76 58.39,1410.74 58.84,1410.72 59.28,1410.7 59.72,1410.68 60.17,1410.65 60.61,1410.63 61.06,1410.61 61.5,1410.59 61.94,1410.57 62.39,1410.55 62.83,1410.53 63.27,1410.5 63.72,1410.48 64.16,1410.46 64.6,1410.44 65.05,1410.41 65.49,1410.39 65.94,1410.37 66.38,1410.34 66.82,1410.32 67.27,1410.29 67.71,1410.27 68.15,1410.25 68.6,1410.22 69.04,1410.2 69.48,1410.17 69.93,1410.15 70.37,1410.12 70.82,1410.09 71.26,1410.07 71.7,1410.04 72.15,1410.01 72.59,1409.99 73.03,1409.96 73.48,1409.93 73.92,1409.9 74.36,1409.88 74.81,1409.85 75.25,1409.82 75.7,1409.79 76.14,1409.76 76.58,1409.73 77.03,1409.7 77.47,1409.67 77.91,1409.64 78.36,1409.61 78.8,1409.58 79.25,1409.55 79.69,1409.52 80.13,1409.49 80.58,1409.46 81.02,1409.42 81.46,1409.39 81.91,1409.36 82.35,1409.32 82.79,1409.29 83.24,1409.26 83.68,1409.22 84.13,1409.19 84.57,1409.15 85.01,1409.12 85.46,1409.08 85.9,1409.05 86.34,1409.01 86.79,1408.98 87.23,1408.94 87.67,1408.9 88.12,1408.86 88.56,1408.83 89.01,1408.79 89.45,1408.75 89.89,1408.71 90.34,1408.67 90.78,1408.63 91.22,1408.59 91.67,1408.55 92.11,1408.51 92.56,1408.47 93,1408.43 93.44,1408.39 93.89,1408.35 94.33,1408.3 94.77,1408.26 95.22,1408.22 95.66,1408.17 96.1,1408.13 96.55,1408.08 96.99,1408.04 97.44,1407.99 97.88,1407.95 98.32,1407.9 98.77,1407.85 99.21,1407.81 99.65,1407.76 100.1,1407.71 100.54,1407.66 100.99,1407.61 101.43,1407.56 101.87,1407.51 102.32,1407.46 102.76,1407.41 103.2,1407.36 103.65,1407.31 104.09,1407.26 104.53,1407.21 104.98,1407.15 105.42,1407.1 105.87,1407.05 106.31,1406.99 106.75,1406.94 107.2,1406.88 107.64,1406.82 108.08,1406.77 108.53,1406.71 108.97,1406.65 109.41,1406.59 109.86,1406.54 110.3,1406.48 110.75,1406.42 111.19,1406.36 111.63,1406.3 112.08,1406.23 112.52,1406.17 112.96,1406.11 113.41,1406.05 113.85,1405.98 114.29,1405.92 114.74,1405.85 115.18,1405.79 115.63,1405.72 116.07,1405.65 116.51,1405.59 116.96,1405.52 117.4,1405.45 117.84,1405.38 118.29,1405.31 118.73,1405.24 119.18,1405.17 119.62,1405.1 120.06,1405.03 120.51,1404.95 120.95,1404.88 121.39,1404.81 121.84,1404.73 122.28,1404.65 122.72,1404.58 123.17,1404.5 123.61,1404.42 124.06,1404.34 124.5,1404.27 124.94,1404.19 125.39,1404.11 125.83,1404.02 126.27,1403.94 126.72,1403.86 127.16,1403.78 127.6,1403.69 128.05,1403.61 128.49,1403.52 128.94,1403.43 129.38,1403.35 129.82,1403.26 130.27,1403.17 130.71,1403.08 131.15,1402.99 131.6,1402.9 132.04,1402.8 132.49,1402.71 132.93,1402.62 133.37,1402.52 133.82,1402.43 134.26,1402.33 134.7,1402.23 135.15,1402.14 135.59,1402.04 136.03,1401.94 136.48,1401.84 136.92,1401.73 137.37,1401.63 137.81,1401.53 138.25,1401.42 138.7,1401.32 139.14,1401.21 139.58,1401.1 140.03,1401 140.47,1400.89 140.91,1400.78 141.36,1400.66 141.8,1400.55 142.25,1400.44 142.69,1400.33 143.13,1400.21 143.58,1400.09 144.02,1399.98 144.46,1399.86 144.91,1399.74 145.35,1399.62 145.8,1399.5 146.24,1399.37 146.68,1399.25 147.13,1399.13 147.57,1399 148.01,1398.87 148.46,1398.75 148.9,1398.62 149.34,1398.49 149.79,1398.35 150.23,1398.22 150.68,1398.09 151.12,1397.95 151.56,1397.82 152.01,1397.68 152.45,1397.54 152.89,1397.4 153.34,1397.26 153.78,1397.12 154.22,1396.97 154.67,1396.83 155.11,1396.68 155.56,1396.54 156,1396.39 156.44,1396.24 156.89,1396.09 157.33,1395.93 157.77,1395.78 158.22,1395.63 158.66,1395.47 159.11,1395.31 159.55,1395.15 159.99,1394.99 160.44,1394.83 160.88,1394.67 161.32,1394.5 161.77,1394.33 162.21,1394.17 162.65,1394 163.1,1393.83 163.54,1393.65 163.99,1393.48 164.43,1393.31 164.87,1393.13 165.32,1392.95 165.76,1392.77 166.2,1392.59 166.65,1392.41 167.09,1392.22 167.53,1392.04 167.98,1391.85 168.42,1391.66 168.87,1391.47 169.31,1391.28 169.75,1391.08 170.2,1390.89 170.64,1390.69 171.08,1390.49 171.53,1390.29 171.97,1390.08 172.42,1389.88 172.86,1389.67 173.3,1389.47 173.75,1389.26 174.19,1389.04 174.63,1388.83 175.08,1388.62 175.52,1388.4 175.96,1388.18 176.41,1387.96 176.85,1387.74 177.3,1387.51 177.74,1387.29 178.18,1387.06 178.63,1386.83 179.07,1386.6 179.51,1386.36 179.96,1386.12 180.4,1385.89 180.85,1385.65 181.29,1385.4 181.73,1385.16 182.18,1384.91 182.62,1384.67 183.06,1384.41 183.51,1384.16 183.95,1383.91 184.39,1383.65 184.84,1383.39 185.28,1383.13 185.73,1382.87 186.17,1382.6 186.61,1382.33 187.06,1382.06 187.5,1381.79 187.94,1381.52 188.39,1381.24 188.83,1380.96 189.27,1380.68 189.72,1380.39 190.16,1380.11 190.61,1379.82 191.05,1379.53 191.49,1379.23 191.94,1378.94 192.38,1378.64 192.82,1378.34 193.27,1378.03 193.71,1377.73 194.16,1377.42 194.6,1377.11 195.04,1376.79 195.49,1376.48 195.93,1376.16 196.37,1375.84 196.82,1375.51 197.26,1375.19 197.7,1374.86 198.15,1374.52 198.59,1374.19 199.04,1373.85 199.48,1373.51 199.92,1373.17 200.37,1372.82 200.81,1372.47 201.25,1372.12 201.7,1371.77 202.14,1371.41 202.58,1371.05 203.03,1370.68 203.47,1370.32 203.92,1369.95 204.36,1369.57 204.8,1369.2 205.25,1368.82 205.69,1368.44 206.13,1368.05 206.58,1367.67 207.02,1367.27 207.47,1366.88 207.91,1366.48 208.35,1366.08 208.8,1365.68 209.24,1365.27 209.68,1364.86 210.13,1364.45 210.57,1364.03 211.01,1363.61 211.46,1363.18 211.9,1362.76 212.35,1362.33 212.79,1361.89 213.23,1361.45 213.68,1361.01 214.12,1360.57 214.56,1360.12 215.01,1359.67 215.45,1359.21 215.89,1358.75 216.34,1358.29 216.78,1357.83 217.23,1357.36 217.67,1356.88 218.11,1356.4 218.56,1355.92 219,1355.44 219.44,1354.95 219.89,1354.46 220.33,1353.96 220.78,1353.46 221.22,1352.95 221.66,1352.44 222.11,1351.93 222.55,1351.42 222.99,1350.9 223.44,1350.37 223.88,1349.84 224.32,1349.31 224.77,1348.77 225.21,1348.23 225.66,1347.68 226.1,1347.13 226.54,1346.58 226.99,1346.02 227.43,1345.46 227.87,1344.89 228.32,1344.32 228.76,1343.75 229.2,1343.17 229.65,1342.58 230.09,1341.99 230.54,1341.4 230.98,1340.8 231.42,1340.2 231.87,1339.59 232.31,1338.98 232.75,1338.36 233.2,1337.74 233.64,1337.11 234.09,1336.48 234.53,1335.84 234.97,1335.2 235.42,1334.56 235.86,1333.91 236.3,1333.25 236.75,1332.59 237.19,1331.93 237.63,1331.26 238.08,1330.58 238.52,1329.9 238.97,1329.21 239.41,1328.52 239.85,1327.83 240.3,1327.13 240.74,1326.42 241.18,1325.71 241.63,1324.99 242.07,1324.27 242.51,1323.54 242.96,1322.81 243.4,1322.07 243.85,1321.33 244.29,1320.58 244.73,1319.82 245.18,1319.06 245.62,1318.3 246.06,1317.52 246.51,1316.75 246.95,1315.96 247.4,1315.18 247.84,1314.38 248.28,1313.58 248.73,1312.78 249.17,1311.96 249.61,1311.15 250.06,1310.32 250.5,1309.49 250.94,1308.66 251.39,1307.82 251.83,1306.97 252.28,1306.12 252.72,1305.26 253.16,1304.39 253.61,1303.52 254.05,1302.64 254.49,1301.76 254.94,1300.86 255.38,1299.97 255.82,1299.06 256.27,1298.15 256.71,1297.24 257.16,1296.32 257.6,1295.39 258.04,1294.45 258.49,1293.51 258.93,1292.56 259.37,1291.61 259.82,1290.65 260.26,1289.68 260.7,1288.7 261.15,1287.72 261.59,1286.73 262.04,1285.74 262.48,1284.74 262.92,1283.73 263.37,1282.71 263.81,1281.69 264.25,1280.66 264.7,1279.62 265.14,1278.58 265.59,1277.53 266.03,1276.47 266.47,1275.41 266.92,1274.34 267.36,1273.26 267.8,1272.17 268.25,1271.08 268.69,1269.98 269.13,1268.88 269.58,1267.76 270.02,1266.64 270.47,1265.51 270.91,1264.37 271.35,1263.23 271.8,1262.08 272.24,1260.92 272.68,1259.76 273.13,1258.58 273.57,1257.4 274.01,1256.21 274.46,1255.02 274.9,1253.82 275.35,1252.61 275.79,1251.39 276.23,1250.16 276.68,1248.93 277.12,1247.69 277.56,1246.44 278.01,1245.18 278.45,1243.92 278.9,1242.65 279.34,1241.37 279.78,1240.08 280.23,1238.79 280.67,1237.49 281.11,1236.18 281.56,1234.86 282,1233.53 282.44,1232.2 282.89,1230.86 283.33,1229.51 283.78,1228.16 284.22,1226.79 284.66,1225.42 285.11,1224.04 285.55,1222.65 285.99,1221.26 286.44,1219.85 286.88,1218.44 287.32,1217.03 287.77,1215.6 288.21,1214.17 288.66,1212.72 289.1,1211.28 289.54,1209.82 289.99,1208.35 290.43,1206.88 290.87,1205.4 291.32,1203.92 291.76,1202.42 292.21,1200.92 292.65,1199.41 293.09,1197.89 293.54,1196.37 293.98,1194.83 294.42,1193.3 294.87,1191.75 295.31,1190.19 295.75,1188.63 296.2,1187.07 296.64,1185.49 297.09,1183.91 297.53,1182.32 297.97,1180.72 298.42,1179.12 298.86,1177.51 299.3,1175.89 299.75,1174.27 300.19,1172.64 300.63,1171.01 301.08,1169.36 301.52,1167.72 301.97,1166.06 302.41,1164.4 302.85,1162.74 303.3,1161.07 303.74,1159.39 304.18,1157.71 304.63,1156.02 305.07,1154.33 305.52,1152.63 305.96,1150.93 306.4,1149.23 306.85,1147.52 307.29,1145.8 307.73,1144.09 308.18,1142.37 308.62,1140.64 309.06,1138.92 309.51,1137.19 309.95,1135.46 310.4,1133.72 310.84,1131.99 311.28,1130.26 311.73,1128.52 312.17,1126.79 312.61,1125.05 313.06,1123.32 313.5,1121.59 313.94,1119.86 314.39,1118.14 314.83,1116.42 315.28,1114.7 315.72,1112.99 316.16,1111.29 316.61,1109.6 317.05,1107.92 317.49,1106.25 317.94,1104.59 318.38,1102.96 318.83,1101.34 319.27,1099.74 319.71,1098.18 320.16,1096.65 320.6,1095.16 321.04,1093.74 321.49,1092.4 321.93,1091.23 322.01,1091.07 322.37,1091.97 322.82,1093.32 323.26,1094.79 323.71,1096.32 324.15,1097.91 324.59,1099.53 325.04,1101.19 325.48,1102.88 325.92,1104.58 326.37,1106.31 326.81,1108.05 327.25,1109.8 327.7,1111.57 328.14,1113.34 328.59,1115.12 329.03,1116.91 329.47,1118.71 329.92,1120.51 330.36,1122.31 330.8,1124.11 331.25,1125.92 331.69,1127.73 332.14,1129.54 332.58,1131.34 333.02,1133.15 333.47,1134.96 333.91,1136.76 334.35,1138.56 334.8,1140.36 335.24,1142.16 335.68,1143.95 336.13,1145.74 336.57,1147.53 337.02,1149.31 337.46,1151.09 337.9,1152.86 338.35,1154.63 338.79,1156.39 339.23,1158.15 339.68,1159.9 340.12,1161.64 340.56,1163.38 341.01,1165.12 341.45,1166.84 341.9,1168.57 342.34,1170.28 342.78,1171.99 343.23,1173.69 343.67,1175.38 344.11,1177.07 344.56,1178.75 345,1180.42 345.45,1182.08 345.89,1183.74 346.33,1185.39 346.78,1187.03 347.22,1188.67 347.66,1190.29 348.11,1191.91 348.55,1193.52 348.99,1195.13 349.44,1196.72 349.88,1198.31 350.33,1199.89 350.77,1201.46 351.21,1203.02 351.66,1204.58 352.1,1206.12 352.54,1207.66 352.99,1209.19 353.43,1210.71 353.87,1212.23 354.32,1213.73 354.76,1215.23 355.21,1216.72 355.65,1218.2 356.09,1219.67 356.54,1221.13 356.98,1222.59 357.42,1224.03 357.87,1225.47 358.31,1226.9 358.76,1228.32 359.2,1229.73 359.64,1231.14 360.09,1232.53 360.53,1233.92 360.97,1235.3 361.42,1236.67 361.86,1238.03 362.3,1239.38 362.75,1240.73 363.19,1242.07 363.64,1243.4 364.08,1244.72 364.52,1246.03 364.97,1247.33 365.41,1248.63 365.85,1249.91 366.3,1251.19 366.74,1252.46 367.19,1253.73 367.63,1254.98 368.07,1256.23 368.52,1257.46 368.96,1258.69 369.4,1259.92 369.85,1261.13 370.29,1262.33 370.73,1263.53 371.18,1264.72 371.62,1265.9 372.07,1267.08 372.51,1268.24 372.95,1269.4 373.4,1270.55 373.84,1271.69 374.28,1272.83 374.73,1273.95 375.17,1275.07 375.61,1276.18 376.06,1277.29 376.5,1278.38 376.95,1279.47 377.39,1280.55 377.83,1281.63 378.28,1282.69 378.72,1283.75 379.16,1284.8 379.61,1285.85 380.05,1286.88 380.5,1287.91 380.94,1288.93 381.38,1289.95 381.83,1290.95 382.27,1291.95 382.71,1292.95 383.16,1293.93 383.6,1294.91 384.04,1295.88 384.49,1296.85 384.93,1297.8 385.38,1298.75 385.82,1299.7 386.26,1300.63 386.71,1301.56 387.15,1302.49 387.59,1303.4 388.04,1304.31 388.48,1305.22 388.92,1306.11 389.37,1307 389.81,1307.88 390.26,1308.76 390.7,1309.63 391.14,1310.49 391.59,1311.35 392.03,1312.2 392.47,1313.05 392.92,1313.88 393.36,1314.72 393.81,1315.54 394.25,1316.36 394.69,1317.17 395.14,1317.98 395.58,1318.78 396.02,1319.57 396.47,1320.36 396.91,1321.15 397.35,1321.92 397.8,1322.69 398.24,1323.46 398.69,1324.22 399.13,1324.97 399.57,1325.72 400.02,1326.46 400.46,1327.19 400.9,1327.92 401.35,1328.65 401.79,1329.37 402.23,1330.08 402.68,1330.79 403.12,1331.49 403.57,1332.19 404.01,1332.88 404.45,1333.56 404.9,1334.25 405.34,1334.92 405.78,1335.59 406.23,1336.26 406.67,1336.91 407.12,1337.57 407.56,1338.22 408,1338.86 408.45,1339.5 408.89,1340.13 409.33,1340.76 409.78,1341.39 410.22,1342.01 410.66,1342.62 411.11,1343.23 411.55,1343.83 412,1344.43 412.44,1345.03 412.88,1345.62 413.33,1346.2 413.77,1346.78 414.21,1347.36 414.66,1347.93 415.1,1348.5 415.54,1349.06 415.99,1349.62 416.43,1350.17 416.88,1350.72 417.32,1351.26 417.76,1351.8 418.21,1352.34 418.65,1352.87 419.09,1353.39 419.54,1353.92 419.98,1354.43 420.42,1354.95 420.87,1355.46 421.31,1355.96 421.76,1356.46 422.2,1356.96 422.64,1357.45 423.09,1357.94 423.53,1358.43 423.97,1358.91 424.42,1359.39 424.86,1359.86 425.31,1360.33 425.75,1360.79 426.19,1361.26 426.64,1361.71 427.08,1362.17 427.52,1362.62 427.97,1363.06 428.41,1363.51 428.85,1363.95 429.3,1364.38 429.74,1364.81 430.19,1365.24 430.63,1365.67 431.07,1366.09 431.52,1366.5 431.96,1366.92 432.4,1367.33 432.85,1367.74 433.29,1368.14 433.73,1368.54 434.18,1368.94 434.62,1369.33 435.07,1369.72 435.51,1370.11 435.95,1370.49 436.4,1370.87 436.84,1371.25 437.28,1371.62 437.73,1371.99 438.17,1372.36 438.62,1372.73 439.06,1373.09 439.5,1373.45 439.95,1373.8 440.39,1374.16 440.83,1374.5 441.28,1374.85 441.72,1375.2 442.16,1375.54 442.61,1375.87 443.05,1376.21 443.5,1376.54 443.94,1376.87 444.38,1377.2 444.83,1377.52 445.27,1377.84 445.71,1378.16 446.16,1378.47 446.6,1378.79 447.04,1379.1 447.49,1379.4 447.93,1379.71 448.38,1380.01 448.82,1380.31 449.26,1380.61 449.71,1380.9 450.15,1381.19 450.59,1381.48 451.04,1381.77 451.48,1382.05 451.93,1382.33 452.37,1382.61 452.81,1382.89 453.26,1383.16 453.7,1383.43 454.14,1383.7 454.59,1383.97 455.03,1384.24 455.47,1384.5 455.92,1384.76 456.36,1385.02 456.81,1385.27 457.25,1385.53 457.69,1385.78 458.14,1386.03 458.58,1386.27 459.02,1386.52 459.47,1386.76 459.91,1387 460.36,1387.24 460.8,1387.48 461.24,1387.71 461.69,1387.94 462.13,1388.17 462.57,1388.4 463.02,1388.63 463.46,1388.85 463.9,1389.07 464.35,1389.29 464.79,1389.51 465.24,1389.73 465.68,1389.94 466.12,1390.16 466.57,1390.37 467.01,1390.58 467.45,1390.78 467.9,1390.99 468.34,1391.19 468.78,1391.39 469.23,1391.59 469.67,1391.79 470.12,1391.99 470.56,1392.18 471,1392.37 471.45,1392.56 471.89,1392.75 472.33,1392.94 472.78,1393.13 473.22,1393.31 473.67,1393.49 474.11,1393.67 474.55,1393.85 475,1394.03 475.44,1394.21 475.88,1394.38 476.33,1394.55 476.77,1394.73 477.21,1394.9 477.66,1395.06 478.1,1395.23 478.55,1395.4 478.99,1395.56 479.43,1395.72 479.88,1395.88 480.32,1396.04 480.76,1396.2 481.21,1396.36 481.65,1396.51 482.09,1396.67 482.54,1396.82 482.98,1396.97 483.43,1397.12 483.87,1397.27 484.31,1397.41 484.76,1397.56 485.2,1397.7 485.64,1397.85 486.09,1397.99 486.53,1398.13 486.97,1398.27 487.42,1398.4 487.86,1398.54 488.31,1398.68 488.75,1398.81 489.19,1398.94 489.64,1399.07 490.08,1399.21 490.52,1399.33 490.97,1399.46 491.41,1399.59 491.86,1399.72 492.3,1399.84 492.74,1399.96 493.19,1400.09 493.63,1400.21 494.07,1400.33 494.52,1400.45 494.96,1400.56 495.4,1400.68 495.85,1400.8 496.29,1400.91 496.74,1401.02 497.18,1401.14 497.62,1401.25 498.07,1401.36 498.51,1401.47 498.95,1401.58 499.4,1401.68 499.84,1401.79 500.28,1401.9 500.73,1402 501.17,1402.1 501.62,1402.21 502.06,1402.31 502.5,1402.41 502.95,1402.51 503.39,1402.61 503.83,1402.71 504.28,1402.8 504.72,1402.9 505.17,1402.99 505.61,1403.09 506.05,1403.18 506.5,1403.28 506.94,1403.37 507.38,1403.46 507.83,1403.55 508.27,1403.64 508.71,1403.73 509.16,1403.81 509.6,1403.9 510.05,1403.99 510.49,1404.07 510.93,1404.16 511.38,1404.24 511.82,1404.32 512.26,1404.4 512.71,1404.48 513.15,1404.57 513.6,1404.65 514.04,1404.72 514.48,1404.8 514.93,1404.88 515.37,1404.96 515.81,1405.03 516.26,1405.11 516.7,1405.18 517.14,1405.26 517.59,1405.33 518.03,1405.4 518.48,1405.47 518.92,1405.55 519.36,1405.62 519.81,1405.69 520.25,1405.76 520.69,1405.82 521.14,1405.89 521.58,1405.96 522.02,1406.03 522.47,1406.09 522.91,1406.16 523.36,1406.22 523.8,1406.29 524.24,1406.35 524.69,1406.41 525.13,1406.47 525.57,1406.54 526.02,1406.6 526.46,1406.66 526.9,1406.72 527.35,1406.78 527.79,1406.84 528.24,1406.9 528.68,1406.95 529.12,1407.01 529.57,1407.07 530.01,1407.12 530.45,1407.18 530.9,1407.23 531.34,1407.29 531.79,1407.34 532.23,1407.4 532.67,1407.45 533.12,1407.5 533.56,1407.55 534,1407.61 534.45,1407.66 534.89,1407.71 535.33,1407.76 535.78,1407.81 536.22,1407.86 536.67,1407.9 537.11,1407.95 537.55,1408 538,1408.05 538.44,1408.09 538.88,1408.14 539.33,1408.19 539.77,1408.23 540.22,1408.28 540.66,1408.32 541.1,1408.37 541.55,1408.41 541.99,1408.45 542.43,1408.5 542.88,1408.54 543.32,1408.58 543.76,1408.62 544.21,1408.66 544.65,1408.7 545.1,1408.75 545.54,1408.79 545.98,1408.83 546.43,1408.86 546.87,1408.9 547.31,1408.94 547.76,1408.98 548.2,1409.02 548.64,1409.06 549.09,1409.09 549.53,1409.13 549.98,1409.17 550.42,1409.2 550.86,1409.24 551.31,1409.27 551.75,1409.31 552.19,1409.34 552.64,1409.38 553.08,1409.41 553.53,1409.45 553.97,1409.48 554.41,1409.51 554.86,1409.54 555.3,1409.58 555.74,1409.61 556.19,1409.64 556.63,1409.67 557.07,1409.7 557.52,1409.73 557.96,1409.76 558.41,1409.8 558.85,1409.83 559.29,1409.85 559.74,1409.88 560.18,1409.91 560.62,1409.94 561.07,1409.97 561.51,1410 561.95,1410.03 562.4,1410.05 562.84,1410.08 563.29,1410.11 563.73,1410.14 564.17,1410.16 564.62,1410.19 565.06,1410.22 565.5,1410.24 565.95,1410.27 566.39,1410.29 566.83,1410.32 567.28,1410.34 567.72,1410.37 568.17,1410.39 568.61,1410.42 569.05,1410.44 569.5,1410.46 569.94,1410.49 570.38,1410.51 570.83,1410.53 571.27,1410.56 571.72,1410.58 572.16,1410.6 572.6,1410.62 573.05,1410.64 573.49,1410.67 573.93,1410.69 574.38,1410.71 574.82,1410.73 575.26,1410.75 575.71,1410.77 576.15,1410.79 576.6,1410.81 577.04,1410.83 577.48,1410.85 577.93,1410.87 578.37,1410.89 578.81,1410.91 579.26,1410.93 579.7,1410.95 580.14,1410.97 580.59,1410.99 581.03,1411 581.48,1411.02 581.92,1411.04 582.36,1411.06 582.81,1411.08 583.25,1411.09 583.69,1411.11 584.14,1411.13 584.58,1411.14 585.03,1411.16 585.47,1411.18 585.91,1411.19 586.36,1411.21 586.8,1411.23" fill="none" stroke="#0000ff" stroke-width="3.1" stroke-linejoin="round" stroke-linecap="round"/>
<polyline points="54.4,1412.44 55.29,1412.42 56.18,1412.4 57.07,1412.39 57.96,1412.37 58.84,1412.35 59.73,1412.33 60.62,1412.31 61.51,1412.29 62.4,1412.27 63.29,1412.25 64.18,1412.22 65.07,1412.2 65.95,1412.17 66.84,1412.15 67.73,1412.12 68.62,1412.09 69.51,1412.07 70.4,1412.04 71.29,1412 72.18,1411.97 73.07,1411.94 73.95,1411.9 74.84,1411.87 75.73,1411.83 76.62,1411.79 77.51,1411.75 78.4,1411.71 79.29,1411.67 80.18,1411.62 81.06,1411.58 81.95,1411.53 82.84,1411.48 83.73,1411.43 84.62,1411.38 85.51,1411.32 86.4,1411.27 87.29,1411.21 88.17,1411.15 89.06,1411.09 89.95,1411.02 90.84,1410.96 91.73,1410.89 92.62,1410.82 93.51,1410.75 94.4,1410.67 95.29,1410.59 96.17,1410.51 97.06,1410.43 97.95,1410.34 98.84,1410.25 99.73,1410.16 100.62,1410.07 101.51,1409.97 102.4,1409.87 103.28,1409.77 104.17,1409.66 105.06,1409.55 105.95,1409.44 106.84,1409.32 107.73,1409.2 108.62,1409.08 109.51,1408.95 110.4,1408.82 111.28,1408.68 112.17,1408.55 113.06,1408.4 113.95,1408.26 114.84,1408.1 115.73,1407.95 116.62,1407.79 117.51,1407.62 118.39,1407.45 119.28,1407.28 120.17,1407.1 121.06,1406.91 121.95,1406.72 122.84,1406.53 123.73,1406.33 124.62,1406.12 125.51,1405.91 126.39,1405.7 127.28,1405.47 128.17,1405.25 129.06,1405.01 129.95,1404.77 130.84,1404.52 131.73,1404.27 132.62,1404.01 133.5,1403.74 134.39,1403.47 135.28,1403.19 136.17,1402.9 137.06,1402.61 137.95,1402.31 138.84,1402 139.73,1401.68 140.62,1401.36 141.5,1401.03 142.39,1400.69 143.28,1400.34 144.17,1399.99 145.06,1399.62 145.95,1399.25 146.84,1398.87 147.73,1398.48 148.61,1398.08 149.5,1397.68 150.39,1397.26 151.28,1396.83 152.17,1396.4 153.06,1395.96 153.95,1395.5 154.84,1395.04 155.72,1394.57 156.61,1394.08 157.5,1393.59 158.39,1393.09 159.28,1392.57 160.17,1392.05 161.06,1391.51 161.95,1390.97 162.84,1390.41 163.72,1389.84 164.61,1389.27 165.5,1388.68 166.39,1388.08 167.28,1387.46 168.17,1386.84 169.06,1386.2 169.95,1385.56 170.83,1384.9 171.72,1384.23 172.61,1383.55 173.5,1382.85 174.39,1382.15 175.28,1381.43 176.17,1380.7 177.06,1379.95 177.95,1379.2 178.83,1378.43 179.72,1377.65 180.61,1376.86 181.5,1376.05 182.39,1375.23 183.28,1374.4 184.17,1373.55 185.06,1372.7 185.94,1371.83 186.83,1370.94 187.72,1370.05 188.61,1369.14 189.5,1368.22 190.39,1367.28 191.28,1366.33 192.17,1365.37 193.06,1364.4 193.94,1363.41 194.83,1362.41 195.72,1361.4 196.61,1360.37 197.5,1359.33 198.39,1358.28 199.28,1357.21 200.17,1356.14 201.05,1355.05 201.94,1353.94 202.83,1352.83 203.72,1351.7 204.61,1350.56 205.5,1349.41 206.39,1348.24 207.28,1347.07 208.16,1345.88 209.05,1344.68 209.94,1343.47 210.83,1342.24 211.72,1341.01 212.61,1339.76 213.5,1338.5 214.39,1337.24 215.28,1335.96 216.16,1334.67 217.05,1333.37 217.94,1332.06 218.83,1330.74 219.72,1329.41 220.61,1328.07 221.5,1326.72 222.39,1325.36 223.27,1323.99 224.16,1322.62 225.05,1321.24 225.94,1319.84 226.83,1318.45 227.72,1317.04 228.61,1315.63 229.5,1314.2 230.39,1312.78 231.27,1311.34 232.16,1309.9 233.05,1308.46 233.94,1307.01 234.83,1305.55 235.72,1304.09 236.61,1302.63 237.5,1301.16 238.38,1299.69 239.27,1298.22 240.16,1296.74 241.05,1295.26 241.94,1293.78 242.83,1292.29 243.72,1290.81 244.61,1289.32 245.5,1287.84 246.38,1286.35 247.27,1284.87 248.16,1283.38 249.05,1281.9 249.94,1280.42 250.83,1278.94 251.72,1277.47 252.61,1275.99 253.49,1274.52 254.38,1273.06 255.27,1271.6 256.16,1270.14 257.05,1268.69 257.94,1267.25 258.83,1265.81 259.72,1264.38 260.61,1262.96 261.49,1261.54 262.38,1260.13 263.27,1258.74 264.16,1257.35 265.05,1255.97 265.94,1254.6 266.83,1253.24 267.72,1251.89 268.6,1250.55 269.49,1249.23 270.38,1247.92 271.27,1246.62 272.16,1245.34 273.05,1244.07 273.94,1242.81 274.83,1241.57 275.71,1240.34 276.6,1239.13 277.49,1237.94 278.38,1236.76 279.27,1235.6 280.16,1234.46 281.05,1233.34 281.94,1232.23 282.83,1231.15 283.71,1230.08 284.6,1229.03 285.49,1228.01 286.38,1227 287.27,1226.01 288.16,1225.05 289.05,1224.11 289.94,1223.19 290.82,1222.29 291.71,1221.42 292.6,1220.57 293.49,1219.74 294.38,1218.94 295.27,1218.16 296.16,1217.4 297.05,1216.67 297.94,1215.97 298.82,1215.29 299.71,1214.64 300.6,1214.01 301.49,1213.41 302.38,1212.84 303.27,1212.29 304.16,1211.77 305.05,1211.28 305.93,1210.81 306.82,1210.37 307.71,1209.96 308.6,1209.58 309.49,1209.23 310.38,1208.9 311.27,1208.61 312.16,1208.34 313.05,1208.1 313.93,1207.89 314.82,1207.71 315.71,1207.55 316.6,1207.43 317.49,1207.33 318.38,1207.27 319.27,1207.23 320.16,1207.22 321.04,1207.25 321.93,1207.3 322.82,1207.38 323.71,1207.49 324.6,1207.63 325.49,1207.79 326.38,1207.99 327.27,1208.21 328.15,1208.47 329.04,1208.75 329.93,1209.06 330.82,1209.4 331.71,1209.77 332.6,1210.16 333.49,1210.59 334.38,1211.04 335.27,1211.52 336.15,1212.03 337.04,1212.56 337.93,1213.12 338.82,1213.71 339.71,1214.32 340.6,1214.96 341.49,1215.63 342.38,1216.32 343.26,1217.03 344.15,1217.78 345.04,1218.54 345.93,1219.33 346.82,1220.15 347.71,1220.99 348.6,1221.85 349.49,1222.74 350.38,1223.64 351.26,1224.58 352.15,1225.53 353.04,1226.5 353.93,1227.5 354.82,1228.51 355.71,1229.55 356.6,1230.61 357.49,1231.68 358.37,1232.78 359.26,1233.89 360.15,1235.03 361.04,1236.18 361.93,1237.35 362.82,1238.53 363.71,1239.73 364.6,1240.95 365.49,1242.18 366.37,1243.43 367.26,1244.7 368.15,1245.97 369.04,1247.27 369.93,1248.57 370.82,1249.89 371.71,1251.22 372.6,1252.56 373.48,1253.91 374.37,1255.28 375.26,1256.65 376.15,1258.04 377.04,1259.43 377.93,1260.83 378.82,1262.24 379.71,1263.66 380.59,1265.09 381.48,1266.53 382.37,1267.97 383.26,1269.41 384.15,1270.87 385.04,1272.33 385.93,1273.79 386.82,1275.26 387.71,1276.73 388.59,1278.2 389.48,1279.68 390.37,1281.16 391.26,1282.64 392.15,1284.12 393.04,1285.61 393.93,1287.09 394.82,1288.58 395.7,1290.06 396.59,1291.55 397.48,1293.03 398.37,1294.51 399.26,1296 400.15,1297.47 401.04,1298.95 401.93,1300.42 402.82,1301.89 403.7,1303.36 404.59,1304.82 405.48,1306.28 406.37,1307.73 407.26,1309.18 408.15,1310.62 409.04,1312.06 409.93,1313.49 410.81,1314.91 411.7,1316.33 412.59,1317.74 413.48,1319.14 414.37,1320.54 415.26,1321.93 416.15,1323.3 417.04,1324.68 417.93,1326.04 418.81,1327.39 419.7,1328.74 420.59,1330.07 421.48,1331.39 422.37,1332.71 423.26,1334.02 424.15,1335.31 425.04,1336.59 425.92,1337.87 426.81,1339.13 427.7,1340.38 428.59,1341.62 429.48,1342.85 430.37,1344.07 431.26,1345.28 432.15,1346.47 433.04,1347.65 433.92,1348.82 434.81,1349.98 435.7,1351.13 436.59,1352.26 437.48,1353.39 438.37,1354.49 439.26,1355.59 440.15,1356.67 441.03,1357.75 441.92,1358.8 442.81,1359.85 443.7,1360.88 444.59,1361.9 445.48,1362.91 446.37,1363.9 447.26,1364.88 448.14,1365.85 449.03,1366.81 449.92,1367.75 450.81,1368.68 451.7,1369.59 452.59,1370.49 453.48,1371.38 454.37,1372.26 455.26,1373.13 456.14,1373.98 457.03,1374.81 457.92,1375.64 458.81,1376.45 459.7,1377.25 460.59,1378.04 461.48,1378.81 462.37,1379.58 463.25,1380.32 464.14,1381.06 465.03,1381.79 465.92,1382.5 466.81,1383.2 467.7,1383.89 468.59,1384.56 469.48,1385.23 470.37,1385.88 471.25,1386.52 472.14,1387.15 473.03,1387.77 473.92,1388.38 474.81,1388.97 475.7,1389.55 476.59,1390.13 477.48,1390.69 478.36,1391.24 479.25,1391.78 480.14,1392.31 481.03,1392.83 481.92,1393.34 482.81,1393.84 483.7,1394.32 484.59,1394.8 485.48,1395.27 486.36,1395.73 487.25,1396.18 488.14,1396.62 489.03,1397.05 489.92,1397.47 490.81,1397.88 491.7,1398.28 492.59,1398.68 493.47,1399.06 494.36,1399.44 495.25,1399.81 496.14,1400.17 497.03,1400.52 497.92,1400.86 498.81,1401.2 499.7,1401.52 500.58,1401.84 501.47,1402.16 502.36,1402.46 503.25,1402.76 504.14,1403.05 505.03,1403.33 505.92,1403.61 506.81,1403.88 507.7,1404.14 508.58,1404.4 509.47,1404.65 510.36,1404.89 511.25,1405.13 512.14,1405.36 513.03,1405.58 513.92,1405.8 514.81,1406.02 515.69,1406.23 516.58,1406.43 517.47,1406.63 518.36,1406.82 519.25,1407.01 520.14,1407.19 521.03,1407.36 521.92,1407.54 522.81,1407.7 523.69,1407.87 524.58,1408.03 525.47,1408.18 526.36,1408.33 527.25,1408.47 528.14,1408.62 529.03,1408.75 529.92,1408.89 530.8,1409.02 531.69,1409.14 532.58,1409.26 533.47,1409.38 534.36,1409.5 535.25,1409.61 536.14,1409.72 537.03,1409.82 537.92,1409.92 538.8,1410.02 539.69,1410.12 540.58,1410.21 541.47,1410.3 542.36,1410.39 543.25,1410.47 544.14,1410.55 545.03,1410.63 545.91,1410.71 546.8,1410.78 547.69,1410.85 548.58,1410.92 549.47,1410.99 550.36,1411.06 551.25,1411.12 552.14,1411.18 553.03,1411.24 553.91,1411.3 554.8,1411.35 555.69,1411.41 556.58,1411.46 557.47,1411.51 558.36,1411.56 559.25,1411.6 560.14,1411.65 561.02,1411.69 561.91,1411.73 562.8,1411.77 563.69,1411.81 564.58,1411.85 565.47,1411.89 566.36,1411.92 567.25,1411.96 568.13,1411.99 569.02,1412.02 569.91,1412.05 570.8,1412.08 571.69,1412.11 572.58,1412.14 573.47,1412.16 574.36,1412.19 575.25,1412.21 576.13,1412.24 577.02,1412.26 577.91,1412.28 578.8,1412.3 579.69,1412.32 580.58,1412.34 581.47,1412.36 582.36,1412.38 583.24,1412.39 584.13,1412.41 585.02,1412.43 585.91,1412.44 586.8,1412.46" fill="none" stroke="#ff0000" stroke-width="3.3" stroke-dasharray="8 1.8 3.2 1.8"/>
<text transform="translate(54.4,1436.8) scale(1,1.02)" text-anchor="middle" class="tl">-2</text>
<text transform="translate(120.95,1436.8) scale(1,1.02)" text-anchor="middle" class="tl">-1.5</text>
<text transform="translate(187.5,1436.8) scale(1,1.02)" text-anchor="middle" class="tl">-1</text>
<text transform="translate(254.05,1436.8) scale(1,1.02)" text-anchor="middle" class="tl">-0.5</text>
<text transform="translate(320.6,1436.8) scale(1,1.02)" text-anchor="middle" class="tl">0</text>
<text transform="translate(387.15,1436.8) scale(1,1.02)" text-anchor="middle" class="tl">0.5</text>
<text transform="translate(453.7,1436.8) scale(1,1.02)" text-anchor="middle" class="tl">1</text>
<text transform="translate(520.25,1436.8) scale(1,1.02)" text-anchor="middle" class="tl">1.5</text>
<text transform="translate(586.8,1436.8) scale(1,1.02)" text-anchor="middle" class="tl">2</text>
<text transform="translate(46.8,1419.6) scale(1,1.02)" text-anchor="end" class="tl">0</text>
<text transform="translate(46.8,1361.83) scale(1,1.02)" text-anchor="end" class="tl">0.2</text>
<text transform="translate(46.8,1304.07) scale(1,1.02)" text-anchor="end" class="tl">0.4</text>
<text transform="translate(46.8,1246.3) scale(1,1.02)" text-anchor="end" class="tl">0.6</text>
<text transform="translate(46.8,1188.54) scale(1,1.02)" text-anchor="end" class="tl">0.8</text>
<text transform="translate(46.8,1130.77) scale(1,1.02)" text-anchor="end" class="tl">1</text>
<text transform="translate(46.8,1073.01) scale(1,1.02)" text-anchor="end" class="tl">1.2</text>
<text transform="translate(46.8,1015.24) scale(1,1.02)" text-anchor="end" class="tl">1.4</text>
<text x="320.6" y="1461" text-anchor="middle" class="xl">GBP</text>
<text x="121.9" y="1040.7" class="an" textLength="404.6" lengthAdjust="spacing">SGED(<tspan font-style="italic">&#956;</tspan> = -0.0058, <tspan font-style="italic">&#963;</tspan> = 0.5442, <tspan font-style="italic">k</tspan> = 1.1434, <tspan font-style="italic">&#955;</tspan> = -0.0207)</text>
<rect x="452.25" y="1171.3" width="117.8" height="64.5" fill="#fff" stroke="#333" stroke-width="1.2"/>
<line x1="457.55" y1="1183.8" x2="493.75" y2="1183.8" stroke="#000" stroke-width="1.3"/>
<text x="498.05" y="1188.8" class="lg">Histogram</text>
<line x1="457.55" y1="1203.9" x2="493.75" y2="1203.9" stroke="#0000ff" stroke-width="3.1"/>
<text x="498.05" y="1208.9" class="lg">SGED</text>
<line x1="457.55" y1="1223.8" x2="493.75" y2="1223.8" stroke="#ff0000" stroke-width="3.3" stroke-dasharray="8 1.8 3.2 1.8"/>
<text x="498.05" y="1228.8" class="lg">Normal</text>
<clipPath id="c5"><rect x="656" y="989" width="532" height="420.20000000000005"/></clipPath>
<rect x="656" y="991" width="532" height="418.2" fill="none" stroke="#333" stroke-width="1.2"/>
<path d="M656 1409.2v-5.5M656 991v5.5M722.5 1409.2v-5.5M722.5 991v5.5M789 1409.2v-5.5M789 991v5.5M855.5 1409.2v-5.5M855.5 991v5.5M922 1409.2v-5.5M922 991v5.5M988.5 1409.2v-5.5M988.5 991v5.5M1055 1409.2v-5.5M1055 991v5.5M1121.5 1409.2v-5.5M1121.5 991v5.5M1188 1409.2v-5.5M1188 991v5.5M656 1409.2h5.5M1188 1409.2h-5.5M656 1358.81h5.5M1188 1358.81h-5.5M656 1308.43h5.5M1188 1308.43h-5.5M656 1258.04h5.5M1188 1258.04h-5.5M656 1207.66h5.5M1188 1207.66h-5.5M656 1157.27h5.5M1188 1157.27h-5.5M656 1106.89h5.5M1188 1106.89h-5.5M656 1056.5h5.5M1188 1056.5h-5.5M656 1006.12h5.5M1188 1006.12h-5.5" stroke="#333" stroke-width="1.1" fill="none"/>
<path clip-path="url(#c5)" d="M747.7 1409.2V1403.15H765.09V1409.2M765.09 1409.2V1404.16H782.48V1409.2M782.48 1409.2V1401.64H799.87V1409.2M799.87 1409.2V1399.12H817.26V1409.2M817.26 1409.2V1392.07H834.65V1409.2M834.65 1409.2V1384.51H852.04V1409.2M852.04 1409.2V1371.91H869.43V1409.2M869.43 1409.2V1350.75H886.82V1409.2M886.82 1409.2V1313.97H904.21V1409.2M904.21 1409.2V1245.45H921.6V1409.2M921.6 1409.2V1164.33H938.99V1409.2M938.99 1409.2V1313.47H956.38V1409.2M956.38 1409.2V1345.21H973.77V1409.2M973.77 1409.2V1370.4H991.16V1409.2M991.16 1409.2V1389.55H1008.55V1409.2M1008.55 1409.2V1395.09H1025.94V1409.2M1025.94 1409.2V1396.1H1043.33V1409.2M1043.33 1409.2V1403.15H1060.72V1409.2M1060.72 1409.2V1404.16H1078.11V1409.2M1078.11 1409.2V1405.67H1095.5V1409.2M1095.5 1409.2V1407.69H1112.89V1409.2" fill="none" stroke="#000" stroke-width="1.6"/>
<polyline points="656,1408.24 656.44,1408.23 656.89,1408.22 657.33,1408.22 657.77,1408.21 658.22,1408.2 658.66,1408.2 659.1,1408.19 659.55,1408.19 659.99,1408.18 660.43,1408.17 660.88,1408.17 661.32,1408.16 661.76,1408.15 662.21,1408.15 662.65,1408.14 663.09,1408.13 663.54,1408.12 663.98,1408.12 664.42,1408.11 664.87,1408.1 665.31,1408.1 665.75,1408.09 666.2,1408.08 666.64,1408.08 667.08,1408.07 667.53,1408.06 667.97,1408.05 668.41,1408.05 668.86,1408.04 669.3,1408.03 669.74,1408.02 670.19,1408.01 670.63,1408.01 671.07,1408 671.52,1407.99 671.96,1407.98 672.4,1407.98 672.85,1407.97 673.29,1407.96 673.73,1407.95 674.18,1407.94 674.62,1407.93 675.06,1407.93 675.51,1407.92 675.95,1407.91 676.39,1407.9 676.84,1407.89 677.28,1407.88 677.72,1407.88 678.17,1407.87 678.61,1407.86 679.05,1407.85 679.5,1407.84 679.94,1407.83 680.38,1407.82 680.83,1407.81 681.27,1407.8 681.71,1407.79 682.16,1407.78 682.6,1407.78 683.04,1407.77 683.49,1407.76 683.93,1407.75 684.37,1407.74 684.82,1407.73 685.26,1407.72 685.7,1407.71 686.15,1407.7 686.59,1407.69 687.03,1407.68 687.48,1407.67 687.92,1407.66 688.36,1407.65 688.81,1407.64 689.25,1407.63 689.69,1407.62 690.14,1407.6 690.58,1407.59 691.02,1407.58 691.47,1407.57 691.91,1407.56 692.35,1407.55 692.8,1407.54 693.24,1407.53 693.68,1407.52 694.13,1407.5 694.57,1407.49 695.01,1407.48 695.46,1407.47 695.9,1407.46 696.34,1407.45 696.79,1407.43 697.23,1407.42 697.67,1407.41 698.12,1407.4 698.56,1407.39 699,1407.37 699.45,1407.36 699.89,1407.35 700.33,1407.34 700.78,1407.32 701.22,1407.31 701.66,1407.3 702.11,1407.28 702.55,1407.27 702.99,1407.26 703.44,1407.24 703.88,1407.23 704.32,1407.22 704.77,1407.2 705.21,1407.19 705.65,1407.18 706.1,1407.16 706.54,1407.15 706.98,1407.13 707.43,1407.12 707.87,1407.11 708.31,1407.09 708.76,1407.08 709.2,1407.06 709.64,1407.05 710.09,1407.03 710.53,1407.02 710.97,1407 711.42,1406.99 711.86,1406.97 712.3,1406.96 712.75,1406.94 713.19,1406.92 713.63,1406.91 714.08,1406.89 714.52,1406.88 714.96,1406.86 715.41,1406.84 715.85,1406.83 716.29,1406.81 716.74,1406.79 717.18,1406.78 717.62,1406.76 718.07,1406.74 718.51,1406.72 718.95,1406.71 719.4,1406.69 719.84,1406.67 720.28,1406.65 720.73,1406.64 721.17,1406.62 721.61,1406.6 722.06,1406.58 722.5,1406.56 722.94,1406.54 723.39,1406.52 723.83,1406.51 724.27,1406.49 724.72,1406.47 725.16,1406.45 725.6,1406.43 726.05,1406.41 726.49,1406.39 726.93,1406.37 727.38,1406.35 727.82,1406.33 728.26,1406.31 728.71,1406.29 729.15,1406.27 729.59,1406.24 730.04,1406.22 730.48,1406.2 730.92,1406.18 731.37,1406.16 731.81,1406.14 732.25,1406.11 732.7,1406.09 733.14,1406.07 733.58,1406.05 734.03,1406.02 734.47,1406 734.91,1405.98 735.36,1405.95 735.8,1405.93 736.24,1405.91 736.69,1405.88 737.13,1405.86 737.57,1405.83 738.02,1405.81 738.46,1405.78 738.9,1405.76 739.35,1405.73 739.79,1405.71 740.23,1405.68 740.68,1405.66 741.12,1405.63 741.56,1405.61 742.01,1405.58 742.45,1405.55 742.89,1405.53 743.34,1405.5 743.78,1405.47 744.22,1405.44 744.67,1405.42 745.11,1405.39 745.55,1405.36 746,1405.33 746.44,1405.3 746.88,1405.27 747.33,1405.24 747.77,1405.21 748.21,1405.19 748.66,1405.16 749.1,1405.13 749.54,1405.09 749.99,1405.06 750.43,1405.03 750.87,1405 751.32,1404.97 751.76,1404.94 752.2,1404.91 752.65,1404.87 753.09,1404.84 753.53,1404.81 753.98,1404.78 754.42,1404.74 754.86,1404.71 755.31,1404.67 755.75,1404.64 756.19,1404.61 756.64,1404.57 757.08,1404.54 757.52,1404.5 757.97,1404.46 758.41,1404.43 758.85,1404.39 759.3,1404.36 759.74,1404.32 760.18,1404.28 760.63,1404.24 761.07,1404.21 761.51,1404.17 761.96,1404.13 762.4,1404.09 762.84,1404.05 763.29,1404.01 763.73,1403.97 764.17,1403.93 764.62,1403.89 765.06,1403.85 765.5,1403.81 765.95,1403.77 766.39,1403.72 766.83,1403.68 767.28,1403.64 767.72,1403.6 768.16,1403.55 768.61,1403.51 769.05,1403.46 769.49,1403.42 769.94,1403.37 770.38,1403.33 770.82,1403.28 771.27,1403.24 771.71,1403.19 772.15,1403.14 772.6,1403.09 773.04,1403.05 773.48,1403 773.93,1402.95 774.37,1402.9 774.81,1402.85 775.26,1402.8 775.7,1402.75 776.14,1402.7 776.59,1402.65 777.03,1402.59 777.47,1402.54 777.92,1402.49 778.36,1402.44 778.8,1402.38 779.25,1402.33 779.69,1402.27 780.13,1402.22 780.58,1402.16 781.02,1402.1 781.46,1402.05 781.91,1401.99 782.35,1401.93 782.79,1401.87 783.24,1401.81 783.68,1401.75 784.12,1401.69 784.57,1401.63 785.01,1401.57 785.45,1401.51 785.9,1401.45 786.34,1401.38 786.78,1401.32 787.23,1401.26 787.67,1401.19 788.11,1401.13 788.56,1401.06 789,1400.99 789.44,1400.93 789.89,1400.86 790.33,1400.79 790.77,1400.72 791.22,1400.65 791.66,1400.58 792.1,1400.51 792.55,1400.44 792.99,1400.37 793.43,1400.29 793.88,1400.22 794.32,1400.14 794.76,1400.07 795.21,1399.99 795.65,1399.92 796.09,1399.84 796.54,1399.76 796.98,1399.68 797.42,1399.6 797.87,1399.52 798.31,1399.44 798.75,1399.36 799.2,1399.27 799.64,1399.19 800.08,1399.11 800.53,1399.02 800.97,1398.93 801.41,1398.85 801.86,1398.76 802.3,1398.67 802.74,1398.58 803.19,1398.49 803.63,1398.4 804.07,1398.31 804.52,1398.21 804.96,1398.12 805.4,1398.03 805.85,1397.93 806.29,1397.83 806.73,1397.73 807.18,1397.64 807.62,1397.54 808.06,1397.43 808.51,1397.33 808.95,1397.23 809.39,1397.13 809.84,1397.02 810.28,1396.92 810.72,1396.81 811.17,1396.7 811.61,1396.59 812.05,1396.48 812.5,1396.37 812.94,1396.26 813.38,1396.14 813.83,1396.03 814.27,1395.91 814.71,1395.79 815.16,1395.68 815.6,1395.56 816.04,1395.43 816.49,1395.31 816.93,1395.19 817.37,1395.06 817.82,1394.94 818.26,1394.81 818.7,1394.68 819.15,1394.55 819.59,1394.42 820.03,1394.29 820.48,1394.15 820.92,1394.02 821.36,1393.88 821.81,1393.74 822.25,1393.6 822.69,1393.46 823.14,1393.32 823.58,1393.17 824.02,1393.03 824.47,1392.88 824.91,1392.73 825.35,1392.58 825.8,1392.42 826.24,1392.27 826.68,1392.11 827.13,1391.96 827.57,1391.8 828.01,1391.64 828.46,1391.47 828.9,1391.31 829.34,1391.14 829.79,1390.97 830.23,1390.8 830.67,1390.63 831.12,1390.46 831.56,1390.28 832,1390.11 832.45,1389.93 832.89,1389.74 833.33,1389.56 833.78,1389.37 834.22,1389.19 834.66,1389 835.11,1388.8 835.55,1388.61 835.99,1388.41 836.44,1388.21 836.88,1388.01 837.32,1387.81 837.77,1387.6 838.21,1387.4 838.65,1387.18 839.1,1386.97 839.54,1386.76 839.98,1386.54 840.43,1386.32 840.87,1386.1 841.31,1385.87 841.76,1385.64 842.2,1385.41 842.64,1385.18 843.09,1384.94 843.53,1384.7 843.97,1384.46 844.42,1384.21 844.86,1383.97 845.3,1383.71 845.75,1383.46 846.19,1383.2 846.63,1382.94 847.08,1382.68 847.52,1382.41 847.96,1382.14 848.41,1381.87 848.85,1381.6 849.29,1381.32 849.74,1381.03 850.18,1380.75 850.62,1380.46 851.07,1380.16 851.51,1379.86 851.95,1379.56 852.4,1379.26 852.84,1378.95 853.28,1378.64 853.73,1378.32 854.17,1378 854.61,1377.68 855.06,1377.35 855.5,1377.01 855.94,1376.68 856.39,1376.33 856.83,1375.99 857.27,1375.64 857.72,1375.28 858.16,1374.92 858.6,1374.56 859.05,1374.19 859.49,1373.82 859.93,1373.44 860.38,1373.05 860.82,1372.66 861.26,1372.27 861.71,1371.87 862.15,1371.46 862.59,1371.05 863.04,1370.64 863.48,1370.22 863.92,1369.79 864.37,1369.35 864.81,1368.92 865.25,1368.47 865.7,1368.02 866.14,1367.56 866.58,1367.1 867.03,1366.63 867.47,1366.15 867.91,1365.66 868.36,1365.17 868.8,1364.68 869.24,1364.17 869.69,1363.66 870.13,1363.14 870.57,1362.61 871.02,1362.08 871.46,1361.53 871.9,1360.98 872.35,1360.42 872.79,1359.86 873.23,1359.28 873.68,1358.7 874.12,1358.1 874.56,1357.5 875.01,1356.89 875.45,1356.27 875.89,1355.64 876.34,1355 876.78,1354.35 877.22,1353.69 877.67,1353.02 878.11,1352.35 878.55,1351.65 879,1350.95 879.44,1350.24 879.88,1349.52 880.33,1348.78 880.77,1348.03 881.21,1347.27 881.66,1346.5 882.1,1345.72 882.54,1344.92 882.99,1344.11 883.43,1343.28 883.87,1342.44 884.32,1341.59 884.76,1340.73 885.2,1339.84 885.65,1338.95 886.09,1338.03 886.53,1337.11 886.98,1336.16 887.42,1335.2 887.86,1334.22 888.31,1333.22 888.75,1332.21 889.19,1331.18 889.64,1330.13 890.08,1329.06 890.52,1327.97 890.97,1326.85 891.41,1325.72 891.85,1324.57 892.3,1323.39 892.74,1322.2 893.18,1320.98 893.63,1319.73 894.07,1318.46 894.51,1317.17 894.96,1315.85 895.4,1314.5 895.84,1313.12 896.29,1311.72 896.73,1310.29 897.17,1308.82 897.62,1307.33 898.06,1305.8 898.5,1304.24 898.95,1302.65 899.39,1301.02 899.83,1299.36 900.28,1297.66 900.72,1295.91 901.16,1294.13 901.61,1292.31 902.05,1290.44 902.49,1288.53 902.94,1286.57 903.38,1284.57 903.82,1282.51 904.27,1280.4 904.71,1278.24 905.15,1276.02 905.6,1273.75 906.04,1271.41 906.48,1269 906.93,1266.53 907.37,1264 907.81,1261.38 908.26,1258.69 908.7,1255.92 909.14,1253.07 909.59,1250.13 910.03,1247.09 910.47,1243.96 910.92,1240.72 911.36,1237.37 911.8,1233.9 912.25,1230.3 912.69,1226.58 913.13,1222.71 913.58,1218.69 914.02,1214.5 914.46,1210.14 914.91,1205.59 915.35,1200.82 915.79,1195.83 916.24,1190.59 916.68,1185.07 917.12,1179.24 917.57,1173.07 918.01,1166.5 918.45,1159.47 918.9,1151.92 919.34,1143.73 919.78,1134.76 920.23,1124.81 920.67,1113.53 921.11,1100.32 921.56,1083.76 922,1062.19 922.03,1062.19 922.44,1080.96 922.89,1098.39 923.33,1112.04 923.77,1123.62 924.22,1133.79 924.66,1142.93 925.1,1151.26 925.55,1158.94 925.99,1166.06 926.43,1172.72 926.88,1178.98 927.32,1184.87 927.76,1190.46 928.21,1195.75 928.65,1200.8 929.09,1205.6 929.54,1210.2 929.98,1214.6 930.42,1218.82 930.87,1222.88 931.31,1226.78 931.75,1230.53 932.2,1234.15 932.64,1237.64 933.08,1241.01 933.53,1244.28 933.97,1247.43 934.41,1250.48 934.86,1253.44 935.3,1256.31 935.74,1259.1 936.19,1261.8 936.63,1264.43 937.07,1266.98 937.52,1269.46 937.96,1271.87 938.4,1274.22 938.85,1276.51 939.29,1278.73 939.73,1280.9 940.18,1283.02 940.62,1285.08 941.06,1287.1 941.51,1289.06 941.95,1290.98 942.39,1292.85 942.84,1294.68 943.28,1296.46 943.72,1298.21 944.17,1299.92 944.61,1301.58 945.05,1303.22 945.5,1304.81 945.94,1306.37 946.38,1307.9 946.83,1309.4 947.27,1310.86 947.71,1312.3 948.16,1313.7 948.6,1315.08 949.04,1316.43 949.49,1317.75 949.93,1319.04 950.37,1320.32 950.82,1321.56 951.26,1322.78 951.7,1323.98 952.15,1325.16 952.59,1326.31 953.03,1327.44 953.48,1328.55 953.92,1329.64 954.36,1330.71 954.81,1331.76 955.25,1332.79 955.69,1333.81 956.14,1334.8 956.58,1335.78 957.02,1336.74 957.47,1337.68 957.91,1338.61 958.35,1339.52 958.8,1340.42 959.24,1341.3 959.68,1342.16 960.13,1343.02 960.57,1343.85 961.01,1344.68 961.46,1345.48 961.9,1346.28 962.34,1347.06 962.79,1347.83 963.23,1348.59 963.67,1349.34 964.12,1350.07 964.56,1350.79 965,1351.5 965.45,1352.2 965.89,1352.89 966.33,1353.57 966.78,1354.24 967.22,1354.9 967.66,1355.54 968.11,1356.18 968.55,1356.81 968.99,1357.42 969.44,1358.03 969.88,1358.63 970.32,1359.22 970.77,1359.81 971.21,1360.38 971.65,1360.94 972.1,1361.5 972.54,1362.05 972.98,1362.59 973.43,1363.12 973.87,1363.65 974.31,1364.16 974.76,1364.67 975.2,1365.18 975.64,1365.67 976.09,1366.16 976.53,1366.64 976.97,1367.12 977.42,1367.59 977.86,1368.05 978.3,1368.5 978.75,1368.95 979.19,1369.4 979.63,1369.83 980.08,1370.26 980.52,1370.69 980.96,1371.11 981.41,1371.52 981.85,1371.93 982.29,1372.33 982.74,1372.73 983.18,1373.12 983.62,1373.51 984.07,1373.89 984.51,1374.27 984.95,1374.64 985.4,1375.01 985.84,1375.37 986.28,1375.73 986.73,1376.08 987.17,1376.43 987.61,1376.77 988.06,1377.11 988.5,1377.44 988.94,1377.78 989.39,1378.1 989.83,1378.42 990.27,1378.74 990.72,1379.06 991.16,1379.37 991.6,1379.67 992.05,1379.98 992.49,1380.28 992.93,1380.57 993.38,1380.86 993.82,1381.15 994.26,1381.43 994.71,1381.72 995.15,1381.99 995.59,1382.27 996.04,1382.54 996.48,1382.8 996.92,1383.07 997.37,1383.33 997.81,1383.59 998.25,1383.84 998.7,1384.09 999.14,1384.34 999.58,1384.59 1000.03,1384.83 1000.47,1385.07 1000.91,1385.31 1001.36,1385.54 1001.8,1385.78 1002.24,1386 1002.69,1386.23 1003.13,1386.45 1003.57,1386.67 1004.02,1386.89 1004.46,1387.11 1004.9,1387.32 1005.35,1387.53 1005.79,1387.74 1006.23,1387.95 1006.68,1388.15 1007.12,1388.35 1007.56,1388.55 1008.01,1388.75 1008.45,1388.94 1008.89,1389.14 1009.34,1389.33 1009.78,1389.52 1010.22,1389.7 1010.67,1389.89 1011.11,1390.07 1011.55,1390.25 1012,1390.42 1012.44,1390.6 1012.88,1390.77 1013.33,1390.95 1013.77,1391.12 1014.21,1391.29 1014.66,1391.45 1015.1,1391.62 1015.54,1391.78 1015.99,1391.94 1016.43,1392.1 1016.87,1392.26 1017.32,1392.41 1017.76,1392.57 1018.2,1392.72 1018.65,1392.87 1019.09,1393.02 1019.53,1393.17 1019.98,1393.31 1020.42,1393.46 1020.86,1393.6 1021.31,1393.74 1021.75,1393.88 1022.19,1394.02 1022.64,1394.16 1023.08,1394.29 1023.52,1394.43 1023.97,1394.56 1024.41,1394.69 1024.85,1394.82 1025.3,1394.95 1025.74,1395.08 1026.18,1395.2 1026.63,1395.33 1027.07,1395.45 1027.51,1395.57 1027.96,1395.69 1028.4,1395.81 1028.84,1395.93 1029.29,1396.05 1029.73,1396.16 1030.17,1396.28 1030.62,1396.39 1031.06,1396.5 1031.5,1396.62 1031.95,1396.73 1032.39,1396.84 1032.83,1396.94 1033.28,1397.05 1033.72,1397.16 1034.16,1397.26 1034.61,1397.36 1035.05,1397.47 1035.49,1397.57 1035.94,1397.67 1036.38,1397.77 1036.82,1397.87 1037.27,1397.96 1037.71,1398.06 1038.15,1398.16 1038.6,1398.25 1039.04,1398.34 1039.48,1398.44 1039.93,1398.53 1040.37,1398.62 1040.81,1398.71 1041.26,1398.8 1041.7,1398.89 1042.14,1398.97 1042.59,1399.06 1043.03,1399.15 1043.47,1399.23 1043.92,1399.32 1044.36,1399.4 1044.8,1399.48 1045.25,1399.56 1045.69,1399.64 1046.13,1399.72 1046.58,1399.8 1047.02,1399.88 1047.46,1399.96 1047.91,1400.04 1048.35,1400.11 1048.79,1400.19 1049.24,1400.26 1049.68,1400.34 1050.12,1400.41 1050.57,1400.48 1051.01,1400.56 1051.45,1400.63 1051.9,1400.7 1052.34,1400.77 1052.78,1400.84 1053.23,1400.91 1053.67,1400.98 1054.11,1401.04 1054.56,1401.11 1055,1401.18 1055.44,1401.24 1055.89,1401.31 1056.33,1401.37 1056.77,1401.43 1057.22,1401.5 1057.66,1401.56 1058.1,1401.62 1058.55,1401.68 1058.99,1401.74 1059.43,1401.8 1059.88,1401.86 1060.32,1401.92 1060.76,1401.98 1061.21,1402.04 1061.65,1402.1 1062.09,1402.16 1062.54,1402.21 1062.98,1402.27 1063.42,1402.32 1063.87,1402.38 1064.31,1402.43 1064.75,1402.49 1065.2,1402.54 1065.64,1402.59 1066.08,1402.65 1066.53,1402.7 1066.97,1402.75 1067.41,1402.8 1067.86,1402.85 1068.3,1402.9 1068.74,1402.95 1069.19,1403 1069.63,1403.05 1070.07,1403.1 1070.52,1403.15 1070.96,1403.19 1071.4,1403.24 1071.85,1403.29 1072.29,1403.33 1072.73,1403.38 1073.18,1403.43 1073.62,1403.47 1074.06,1403.52 1074.51,1403.56 1074.95,1403.6 1075.39,1403.65 1075.84,1403.69 1076.28,1403.73 1076.72,1403.78 1077.17,1403.82 1077.61,1403.86 1078.05,1403.9 1078.5,1403.94 1078.94,1403.98 1079.38,1404.02 1079.83,1404.06 1080.27,1404.1 1080.71,1404.14 1081.16,1404.18 1081.6,1404.22 1082.04,1404.26 1082.49,1404.29 1082.93,1404.33 1083.37,1404.37 1083.82,1404.41 1084.26,1404.44 1084.7,1404.48 1085.15,1404.51 1085.59,1404.55 1086.03,1404.59 1086.48,1404.62 1086.92,1404.66 1087.36,1404.69 1087.81,1404.72 1088.25,1404.76 1088.69,1404.79 1089.14,1404.82 1089.58,1404.86 1090.02,1404.89 1090.47,1404.92 1090.91,1404.96 1091.35,1404.99 1091.8,1405.02 1092.24,1405.05 1092.68,1405.08 1093.13,1405.11 1093.57,1405.14 1094.01,1405.17 1094.46,1405.2 1094.9,1405.23 1095.34,1405.26 1095.79,1405.29 1096.23,1405.32 1096.67,1405.35 1097.12,1405.38 1097.56,1405.41 1098,1405.43 1098.45,1405.46 1098.89,1405.49 1099.33,1405.52 1099.78,1405.55 1100.22,1405.57 1100.66,1405.6 1101.11,1405.63 1101.55,1405.65 1101.99,1405.68 1102.44,1405.7 1102.88,1405.73 1103.32,1405.75 1103.77,1405.78 1104.21,1405.81 1104.65,1405.83 1105.1,1405.85 1105.54,1405.88 1105.98,1405.9 1106.43,1405.93 1106.87,1405.95 1107.31,1405.97 1107.76,1406 1108.2,1406.02 1108.64,1406.04 1109.09,1406.07 1109.53,1406.09 1109.97,1406.11 1110.42,1406.14 1110.86,1406.16 1111.3,1406.18 1111.75,1406.2 1112.19,1406.22 1112.63,1406.24 1113.08,1406.27 1113.52,1406.29 1113.96,1406.31 1114.41,1406.33 1114.85,1406.35 1115.29,1406.37 1115.74,1406.39 1116.18,1406.41 1116.62,1406.43 1117.07,1406.45 1117.51,1406.47 1117.95,1406.49 1118.4,1406.51 1118.84,1406.53 1119.28,1406.55 1119.73,1406.57 1120.17,1406.58 1120.61,1406.6 1121.06,1406.62 1121.5,1406.64 1121.94,1406.66 1122.39,1406.68 1122.83,1406.69 1123.27,1406.71 1123.72,1406.73 1124.16,1406.75 1124.6,1406.76 1125.05,1406.78 1125.49,1406.8 1125.93,1406.81 1126.38,1406.83 1126.82,1406.85 1127.26,1406.86 1127.71,1406.88 1128.15,1406.9 1128.59,1406.91 1129.04,1406.93 1129.48,1406.95 1129.92,1406.96 1130.37,1406.98 1130.81,1406.99 1131.25,1407.01 1131.7,1407.02 1132.14,1407.04 1132.58,1407.05 1133.03,1407.07 1133.47,1407.08 1133.91,1407.1 1134.36,1407.11 1134.8,1407.13 1135.24,1407.14 1135.69,1407.16 1136.13,1407.17 1136.57,1407.18 1137.02,1407.2 1137.46,1407.21 1137.9,1407.23 1138.35,1407.24 1138.79,1407.25 1139.23,1407.27 1139.68,1407.28 1140.12,1407.29 1140.56,1407.31 1141.01,1407.32 1141.45,1407.33 1141.89,1407.34 1142.34,1407.36 1142.78,1407.37 1143.22,1407.38 1143.67,1407.39 1144.11,1407.41 1144.55,1407.42 1145,1407.43 1145.44,1407.44 1145.88,1407.46 1146.33,1407.47 1146.77,1407.48 1147.21,1407.49 1147.66,1407.5 1148.1,1407.51 1148.54,1407.53 1148.99,1407.54 1149.43,1407.55 1149.87,1407.56 1150.32,1407.57 1150.76,1407.58 1151.2,1407.59 1151.65,1407.6 1152.09,1407.61 1152.53,1407.62 1152.98,1407.63 1153.42,1407.65 1153.86,1407.66 1154.31,1407.67 1154.75,1407.68 1155.19,1407.69 1155.64,1407.7 1156.08,1407.71 1156.52,1407.72 1156.97,1407.73 1157.41,1407.74 1157.85,1407.75 1158.3,1407.76 1158.74,1407.77 1159.18,1407.78 1159.63,1407.79 1160.07,1407.79 1160.51,1407.8 1160.96,1407.81 1161.4,1407.82 1161.84,1407.83 1162.29,1407.84 1162.73,1407.85 1163.17,1407.86 1163.62,1407.87 1164.06,1407.88 1164.5,1407.89 1164.95,1407.89 1165.39,1407.9 1165.83,1407.91 1166.28,1407.92 1166.72,1407.93 1167.16,1407.94 1167.61,1407.94 1168.05,1407.95 1168.49,1407.96 1168.94,1407.97 1169.38,1407.98 1169.82,1407.99 1170.27,1407.99 1170.71,1408 1171.15,1408.01 1171.6,1408.02 1172.04,1408.02 1172.48,1408.03 1172.93,1408.04 1173.37,1408.05 1173.81,1408.06 1174.26,1408.06 1174.7,1408.07 1175.14,1408.08 1175.59,1408.08 1176.03,1408.09 1176.47,1408.1 1176.92,1408.11 1177.36,1408.11 1177.8,1408.12 1178.25,1408.13 1178.69,1408.13 1179.13,1408.14 1179.58,1408.15 1180.02,1408.16 1180.46,1408.16 1180.91,1408.17 1181.35,1408.18 1181.79,1408.18 1182.24,1408.19 1182.68,1408.2 1183.12,1408.2 1183.57,1408.21 1184.01,1408.21 1184.45,1408.22 1184.9,1408.23 1185.34,1408.23 1185.78,1408.24 1186.23,1408.25 1186.67,1408.25 1187.11,1408.26 1187.56,1408.26 1188,1408.27" fill="none" stroke="#0000ff" stroke-width="3.1" stroke-linejoin="round" stroke-linecap="round"/>
<polyline points="656,1409.17 656.89,1409.17 657.78,1409.17 658.66,1409.17 659.55,1409.16 660.44,1409.16 661.33,1409.16 662.22,1409.16 663.11,1409.16 663.99,1409.15 664.88,1409.15 665.77,1409.15 666.66,1409.15 667.55,1409.14 668.43,1409.14 669.32,1409.14 670.21,1409.13 671.1,1409.13 671.99,1409.13 672.87,1409.12 673.76,1409.12 674.65,1409.11 675.54,1409.11 676.43,1409.1 677.32,1409.1 678.2,1409.09 679.09,1409.09 679.98,1409.08 680.87,1409.08 681.76,1409.07 682.64,1409.06 683.53,1409.06 684.42,1409.05 685.31,1409.04 686.2,1409.03 687.09,1409.03 687.97,1409.02 688.86,1409.01 689.75,1409 690.64,1408.99 691.53,1408.98 692.41,1408.97 693.3,1408.96 694.19,1408.95 695.08,1408.93 695.97,1408.92 696.85,1408.91 697.74,1408.89 698.63,1408.88 699.52,1408.86 700.41,1408.85 701.3,1408.83 702.18,1408.82 703.07,1408.8 703.96,1408.78 704.85,1408.76 705.74,1408.74 706.62,1408.72 707.51,1408.7 708.4,1408.67 709.29,1408.65 710.18,1408.63 711.07,1408.6 711.95,1408.57 712.84,1408.55 713.73,1408.52 714.62,1408.49 715.51,1408.46 716.39,1408.43 717.28,1408.39 718.17,1408.36 719.06,1408.32 719.95,1408.28 720.83,1408.25 721.72,1408.21 722.61,1408.16 723.5,1408.12 724.39,1408.08 725.28,1408.03 726.16,1407.98 727.05,1407.93 727.94,1407.88 728.83,1407.83 729.72,1407.77 730.6,1407.71 731.49,1407.65 732.38,1407.59 733.27,1407.53 734.16,1407.46 735.05,1407.39 735.93,1407.32 736.82,1407.25 737.71,1407.17 738.6,1407.1 739.49,1407.01 740.37,1406.93 741.26,1406.85 742.15,1406.76 743.04,1406.66 743.93,1406.57 744.81,1406.47 745.7,1406.37 746.59,1406.27 747.48,1406.16 748.37,1406.05 749.26,1405.93 750.14,1405.82 751.03,1405.69 751.92,1405.57 752.81,1405.44 753.7,1405.31 754.58,1405.17 755.47,1405.03 756.36,1404.89 757.25,1404.74 758.14,1404.58 759.03,1404.43 759.91,1404.26 760.8,1404.1 761.69,1403.93 762.58,1403.75 763.47,1403.57 764.35,1403.38 765.24,1403.19 766.13,1403 767.02,1402.79 767.91,1402.59 768.79,1402.38 769.68,1402.16 770.57,1401.94 771.46,1401.71 772.35,1401.47 773.24,1401.23 774.12,1400.98 775.01,1400.73 775.9,1400.47 776.79,1400.21 777.68,1399.94 778.56,1399.66 779.45,1399.37 780.34,1399.08 781.23,1398.79 782.12,1398.48 783.01,1398.17 783.89,1397.85 784.78,1397.53 785.67,1397.19 786.56,1396.85 787.45,1396.51 788.33,1396.15 789.22,1395.79 790.11,1395.42 791,1395.04 791.89,1394.66 792.77,1394.27 793.66,1393.87 794.55,1393.46 795.44,1393.04 796.33,1392.62 797.22,1392.19 798.1,1391.75 798.99,1391.3 799.88,1390.84 800.77,1390.38 801.66,1389.91 802.54,1389.43 803.43,1388.94 804.32,1388.44 805.21,1387.93 806.1,1387.42 806.98,1386.9 807.87,1386.37 808.76,1385.83 809.65,1385.28 810.54,1384.73 811.43,1384.16 812.31,1383.59 813.2,1383.01 814.09,1382.42 814.98,1381.83 815.87,1381.22 816.75,1380.61 817.64,1379.99 818.53,1379.36 819.42,1378.72 820.31,1378.08 821.2,1377.42 822.08,1376.76 822.97,1376.09 823.86,1375.42 824.75,1374.74 825.64,1374.04 826.52,1373.35 827.41,1372.64 828.3,1371.93 829.19,1371.21 830.08,1370.48 830.96,1369.75 831.85,1369.01 832.74,1368.27 833.63,1367.52 834.52,1366.76 835.41,1366 836.29,1365.23 837.18,1364.45 838.07,1363.67 838.96,1362.89 839.85,1362.1 840.73,1361.3 841.62,1360.5 842.51,1359.7 843.4,1358.89 844.29,1358.08 845.18,1357.27 846.06,1356.45 846.95,1355.63 847.84,1354.81 848.73,1353.98 849.62,1353.15 850.5,1352.32 851.39,1351.49 852.28,1350.66 853.17,1349.82 854.06,1348.98 854.94,1348.15 855.83,1347.31 856.72,1346.48 857.61,1345.64 858.5,1344.8 859.39,1343.97 860.27,1343.14 861.16,1342.3 862.05,1341.47 862.94,1340.65 863.83,1339.82 864.71,1339 865.6,1338.18 866.49,1337.37 867.38,1336.56 868.27,1335.75 869.16,1334.95 870.04,1334.15 870.93,1333.36 871.82,1332.57 872.71,1331.79 873.6,1331.02 874.48,1330.25 875.37,1329.49 876.26,1328.74 877.15,1328 878.04,1327.26 878.92,1326.53 879.81,1325.81 880.7,1325.1 881.59,1324.4 882.48,1323.71 883.37,1323.03 884.25,1322.36 885.14,1321.7 886.03,1321.05 886.92,1320.42 887.81,1319.79 888.69,1319.18 889.58,1318.58 890.47,1317.99 891.36,1317.42 892.25,1316.86 893.14,1316.31 894.02,1315.78 894.91,1315.26 895.8,1314.75 896.69,1314.26 897.58,1313.79 898.46,1313.33 899.35,1312.88 900.24,1312.45 901.13,1312.04 902.02,1311.64 902.9,1311.26 903.79,1310.9 904.68,1310.55 905.57,1310.22 906.46,1309.91 907.35,1309.61 908.23,1309.33 909.12,1309.07 910.01,1308.83 910.9,1308.6 911.79,1308.39 912.67,1308.2 913.56,1308.03 914.45,1307.88 915.34,1307.74 916.23,1307.63 917.12,1307.53 918,1307.45 918.89,1307.39 919.78,1307.35 920.67,1307.33 921.56,1307.32 922.44,1307.33 923.33,1307.37 924.22,1307.42 925.11,1307.49 926,1307.58 926.88,1307.68 927.77,1307.81 928.66,1307.95 929.55,1308.12 930.44,1308.3 931.33,1308.49 932.21,1308.71 933.1,1308.95 933.99,1309.2 934.88,1309.47 935.77,1309.76 936.65,1310.06 937.54,1310.38 938.43,1310.72 939.32,1311.08 940.21,1311.45 941.1,1311.84 941.98,1312.24 942.87,1312.66 943.76,1313.1 944.65,1313.55 945.54,1314.02 946.42,1314.5 947.31,1315 948.2,1315.51 949.09,1316.04 949.98,1316.58 950.86,1317.14 951.75,1317.7 952.64,1318.28 953.53,1318.88 954.42,1319.48 955.31,1320.1 956.19,1320.73 957.08,1321.38 957.97,1322.03 958.86,1322.69 959.75,1323.37 960.63,1324.05 961.52,1324.75 962.41,1325.46 963.3,1326.17 964.19,1326.89 965.08,1327.63 965.96,1328.37 966.85,1329.11 967.74,1329.87 968.63,1330.63 969.52,1331.4 970.4,1332.18 971.29,1332.96 972.18,1333.75 973.07,1334.55 973.96,1335.35 974.84,1336.15 975.73,1336.96 976.62,1337.77 977.51,1338.59 978.4,1339.41 979.29,1340.23 980.17,1341.06 981.06,1341.89 981.95,1342.72 982.84,1343.55 983.73,1344.38 984.61,1345.22 985.5,1346.06 986.39,1346.89 987.28,1347.73 988.17,1348.56 989.06,1349.4 989.94,1350.24 990.83,1351.07 991.72,1351.9 992.61,1352.73 993.5,1353.56 994.38,1354.39 995.27,1355.22 996.16,1356.04 997.05,1356.86 997.94,1357.67 998.82,1358.49 999.71,1359.3 1000.6,1360.1 1001.49,1360.9 1002.38,1361.7 1003.27,1362.49 1004.15,1363.28 1005.04,1364.06 1005.93,1364.84 1006.82,1365.61 1007.71,1366.38 1008.59,1367.14 1009.48,1367.89 1010.37,1368.64 1011.26,1369.38 1012.15,1370.12 1013.04,1370.85 1013.92,1371.57 1014.81,1372.28 1015.7,1372.99 1016.59,1373.69 1017.48,1374.39 1018.36,1375.08 1019.25,1375.76 1020.14,1376.43 1021.03,1377.09 1021.92,1377.75 1022.8,1378.4 1023.69,1379.04 1024.58,1379.67 1025.47,1380.3 1026.36,1380.91 1027.25,1381.52 1028.13,1382.12 1029.02,1382.72 1029.91,1383.3 1030.8,1383.88 1031.69,1384.45 1032.57,1385 1033.46,1385.56 1034.35,1386.1 1035.24,1386.63 1036.13,1387.16 1037.02,1387.68 1037.9,1388.19 1038.79,1388.69 1039.68,1389.18 1040.57,1389.67 1041.46,1390.14 1042.34,1390.61 1043.23,1391.07 1044.12,1391.52 1045.01,1391.97 1045.9,1392.4 1046.78,1392.83 1047.67,1393.25 1048.56,1393.66 1049.45,1394.07 1050.34,1394.46 1051.23,1394.85 1052.11,1395.23 1053,1395.61 1053.89,1395.97 1054.78,1396.33 1055.67,1396.68 1056.55,1397.02 1057.44,1397.36 1058.33,1397.69 1059.22,1398.01 1060.11,1398.33 1060.99,1398.63 1061.88,1398.93 1062.77,1399.23 1063.66,1399.52 1064.55,1399.8 1065.44,1400.07 1066.32,1400.34 1067.21,1400.6 1068.1,1400.86 1068.99,1401.11 1069.88,1401.35 1070.76,1401.59 1071.65,1401.82 1072.54,1402.05 1073.43,1402.27 1074.32,1402.48 1075.21,1402.69 1076.09,1402.9 1076.98,1403.09 1077.87,1403.29 1078.76,1403.48 1079.65,1403.66 1080.53,1403.84 1081.42,1404.01 1082.31,1404.18 1083.2,1404.35 1084.09,1404.51 1084.97,1404.66 1085.86,1404.81 1086.75,1404.96 1087.64,1405.1 1088.53,1405.24 1089.42,1405.37 1090.3,1405.51 1091.19,1405.63 1092.08,1405.76 1092.97,1405.88 1093.86,1405.99 1094.74,1406.1 1095.63,1406.21 1096.52,1406.32 1097.41,1406.42 1098.3,1406.52 1099.19,1406.62 1100.07,1406.71 1100.96,1406.8 1101.85,1406.89 1102.74,1406.97 1103.63,1407.06 1104.51,1407.13 1105.4,1407.21 1106.29,1407.29 1107.18,1407.36 1108.07,1407.43 1108.95,1407.49 1109.84,1407.56 1110.73,1407.62 1111.62,1407.68 1112.51,1407.74 1113.4,1407.8 1114.28,1407.85 1115.17,1407.9 1116.06,1407.96 1116.95,1408 1117.84,1408.05 1118.72,1408.1 1119.61,1408.14 1120.5,1408.18 1121.39,1408.23 1122.28,1408.27 1123.17,1408.3 1124.05,1408.34 1124.94,1408.38 1125.83,1408.41 1126.72,1408.44 1127.61,1408.47 1128.49,1408.5 1129.38,1408.53 1130.27,1408.56 1131.16,1408.59 1132.05,1408.61 1132.93,1408.64 1133.82,1408.66 1134.71,1408.69 1135.6,1408.71 1136.49,1408.73 1137.38,1408.75 1138.26,1408.77 1139.15,1408.79 1140.04,1408.81 1140.93,1408.82 1141.82,1408.84 1142.7,1408.86 1143.59,1408.87 1144.48,1408.89 1145.37,1408.9 1146.26,1408.91 1147.15,1408.93 1148.03,1408.94 1148.92,1408.95 1149.81,1408.96 1150.7,1408.97 1151.59,1408.98 1152.47,1408.99 1153.36,1409 1154.25,1409.01 1155.14,1409.02 1156.03,1409.03 1156.91,1409.04 1157.8,1409.05 1158.69,1409.05 1159.58,1409.06 1160.47,1409.07 1161.36,1409.07 1162.24,1409.08 1163.13,1409.09 1164.02,1409.09 1164.91,1409.1 1165.8,1409.1 1166.68,1409.11 1167.57,1409.11 1168.46,1409.12 1169.35,1409.12 1170.24,1409.12 1171.13,1409.13 1172.01,1409.13 1172.9,1409.13 1173.79,1409.14 1174.68,1409.14 1175.57,1409.14 1176.45,1409.15 1177.34,1409.15 1178.23,1409.15 1179.12,1409.15 1180.01,1409.16 1180.89,1409.16 1181.78,1409.16 1182.67,1409.16 1183.56,1409.17 1184.45,1409.17 1185.34,1409.17 1186.22,1409.17 1187.11,1409.17 1188,1409.17" fill="none" stroke="#ff0000" stroke-width="3.3" stroke-dasharray="8 1.8 3.2 1.8"/>
<text transform="translate(656,1433.2) scale(1,1.02)" text-anchor="middle" class="tl">-0.8</text>
<text transform="translate(722.5,1433.2) scale(1,1.02)" text-anchor="middle" class="tl">-0.6</text>
<text transform="translate(789,1433.2) scale(1,1.02)" text-anchor="middle" class="tl">-0.4</text>
<text transform="translate(855.5,1433.2) scale(1,1.02)" text-anchor="middle" class="tl">-0.2</text>
<text transform="translate(922,1433.2) scale(1,1.02)" text-anchor="middle" class="tl">0</text>
<text transform="translate(988.5,1433.2) scale(1,1.02)" text-anchor="middle" class="tl">0.2</text>
<text transform="translate(1055,1433.2) scale(1,1.02)" text-anchor="middle" class="tl">0.4</text>
<text transform="translate(1121.5,1433.2) scale(1,1.02)" text-anchor="middle" class="tl">0.6</text>
<text transform="translate(1188,1433.2) scale(1,1.02)" text-anchor="middle" class="tl">0.8</text>
<text transform="translate(648.4,1416) scale(1,1.02)" text-anchor="end" class="tl">0</text>
<text transform="translate(648.4,1365.61) scale(1,1.02)" text-anchor="end" class="tl">1</text>
<text transform="translate(648.4,1315.23) scale(1,1.02)" text-anchor="end" class="tl">2</text>
<text transform="translate(648.4,1264.84) scale(1,1.02)" text-anchor="end" class="tl">3</text>
<text transform="translate(648.4,1214.46) scale(1,1.02)" text-anchor="end" class="tl">4</text>
<text transform="translate(648.4,1164.07) scale(1,1.02)" text-anchor="end" class="tl">5</text>
<text transform="translate(648.4,1113.69) scale(1,1.02)" text-anchor="end" class="tl">6</text>
<text transform="translate(648.4,1063.3) scale(1,1.02)" text-anchor="end" class="tl">7</text>
<text transform="translate(648.4,1012.92) scale(1,1.02)" text-anchor="end" class="tl">8</text>
<text x="922" y="1457.5" text-anchor="middle" class="xl">RMB</text>
<text x="706.9" y="1032.4" class="an" textLength="404.3" lengthAdjust="spacing">SGED(<tspan font-style="italic">&#956;</tspan> = -0.0011, <tspan font-style="italic">&#963;</tspan> = 0.2029, <tspan font-style="italic">k</tspan> = 0.6479, <tspan font-style="italic">&#955;</tspan> = -0.0048)</text>
<rect x="1053.65" y="1167.5" width="117.8" height="64.5" fill="#fff" stroke="#333" stroke-width="1.2"/>
<line x1="1058.95" y1="1180" x2="1095.15" y2="1180" stroke="#000" stroke-width="1.3"/>
<text x="1099.45" y="1185" class="lg">Histogram</text>
<line x1="1058.95" y1="1200.1" x2="1095.15" y2="1200.1" stroke="#0000ff" stroke-width="3.1"/>
<text x="1099.45" y="1205.1" class="lg">SGED</text>
<line x1="1058.95" y1="1220" x2="1095.15" y2="1220" stroke="#ff0000" stroke-width="3.3" stroke-dasharray="8 1.8 3.2 1.8"/>
<text x="1099.45" y="1225" class="lg">Normal</text>
</svg>
</body></html>
